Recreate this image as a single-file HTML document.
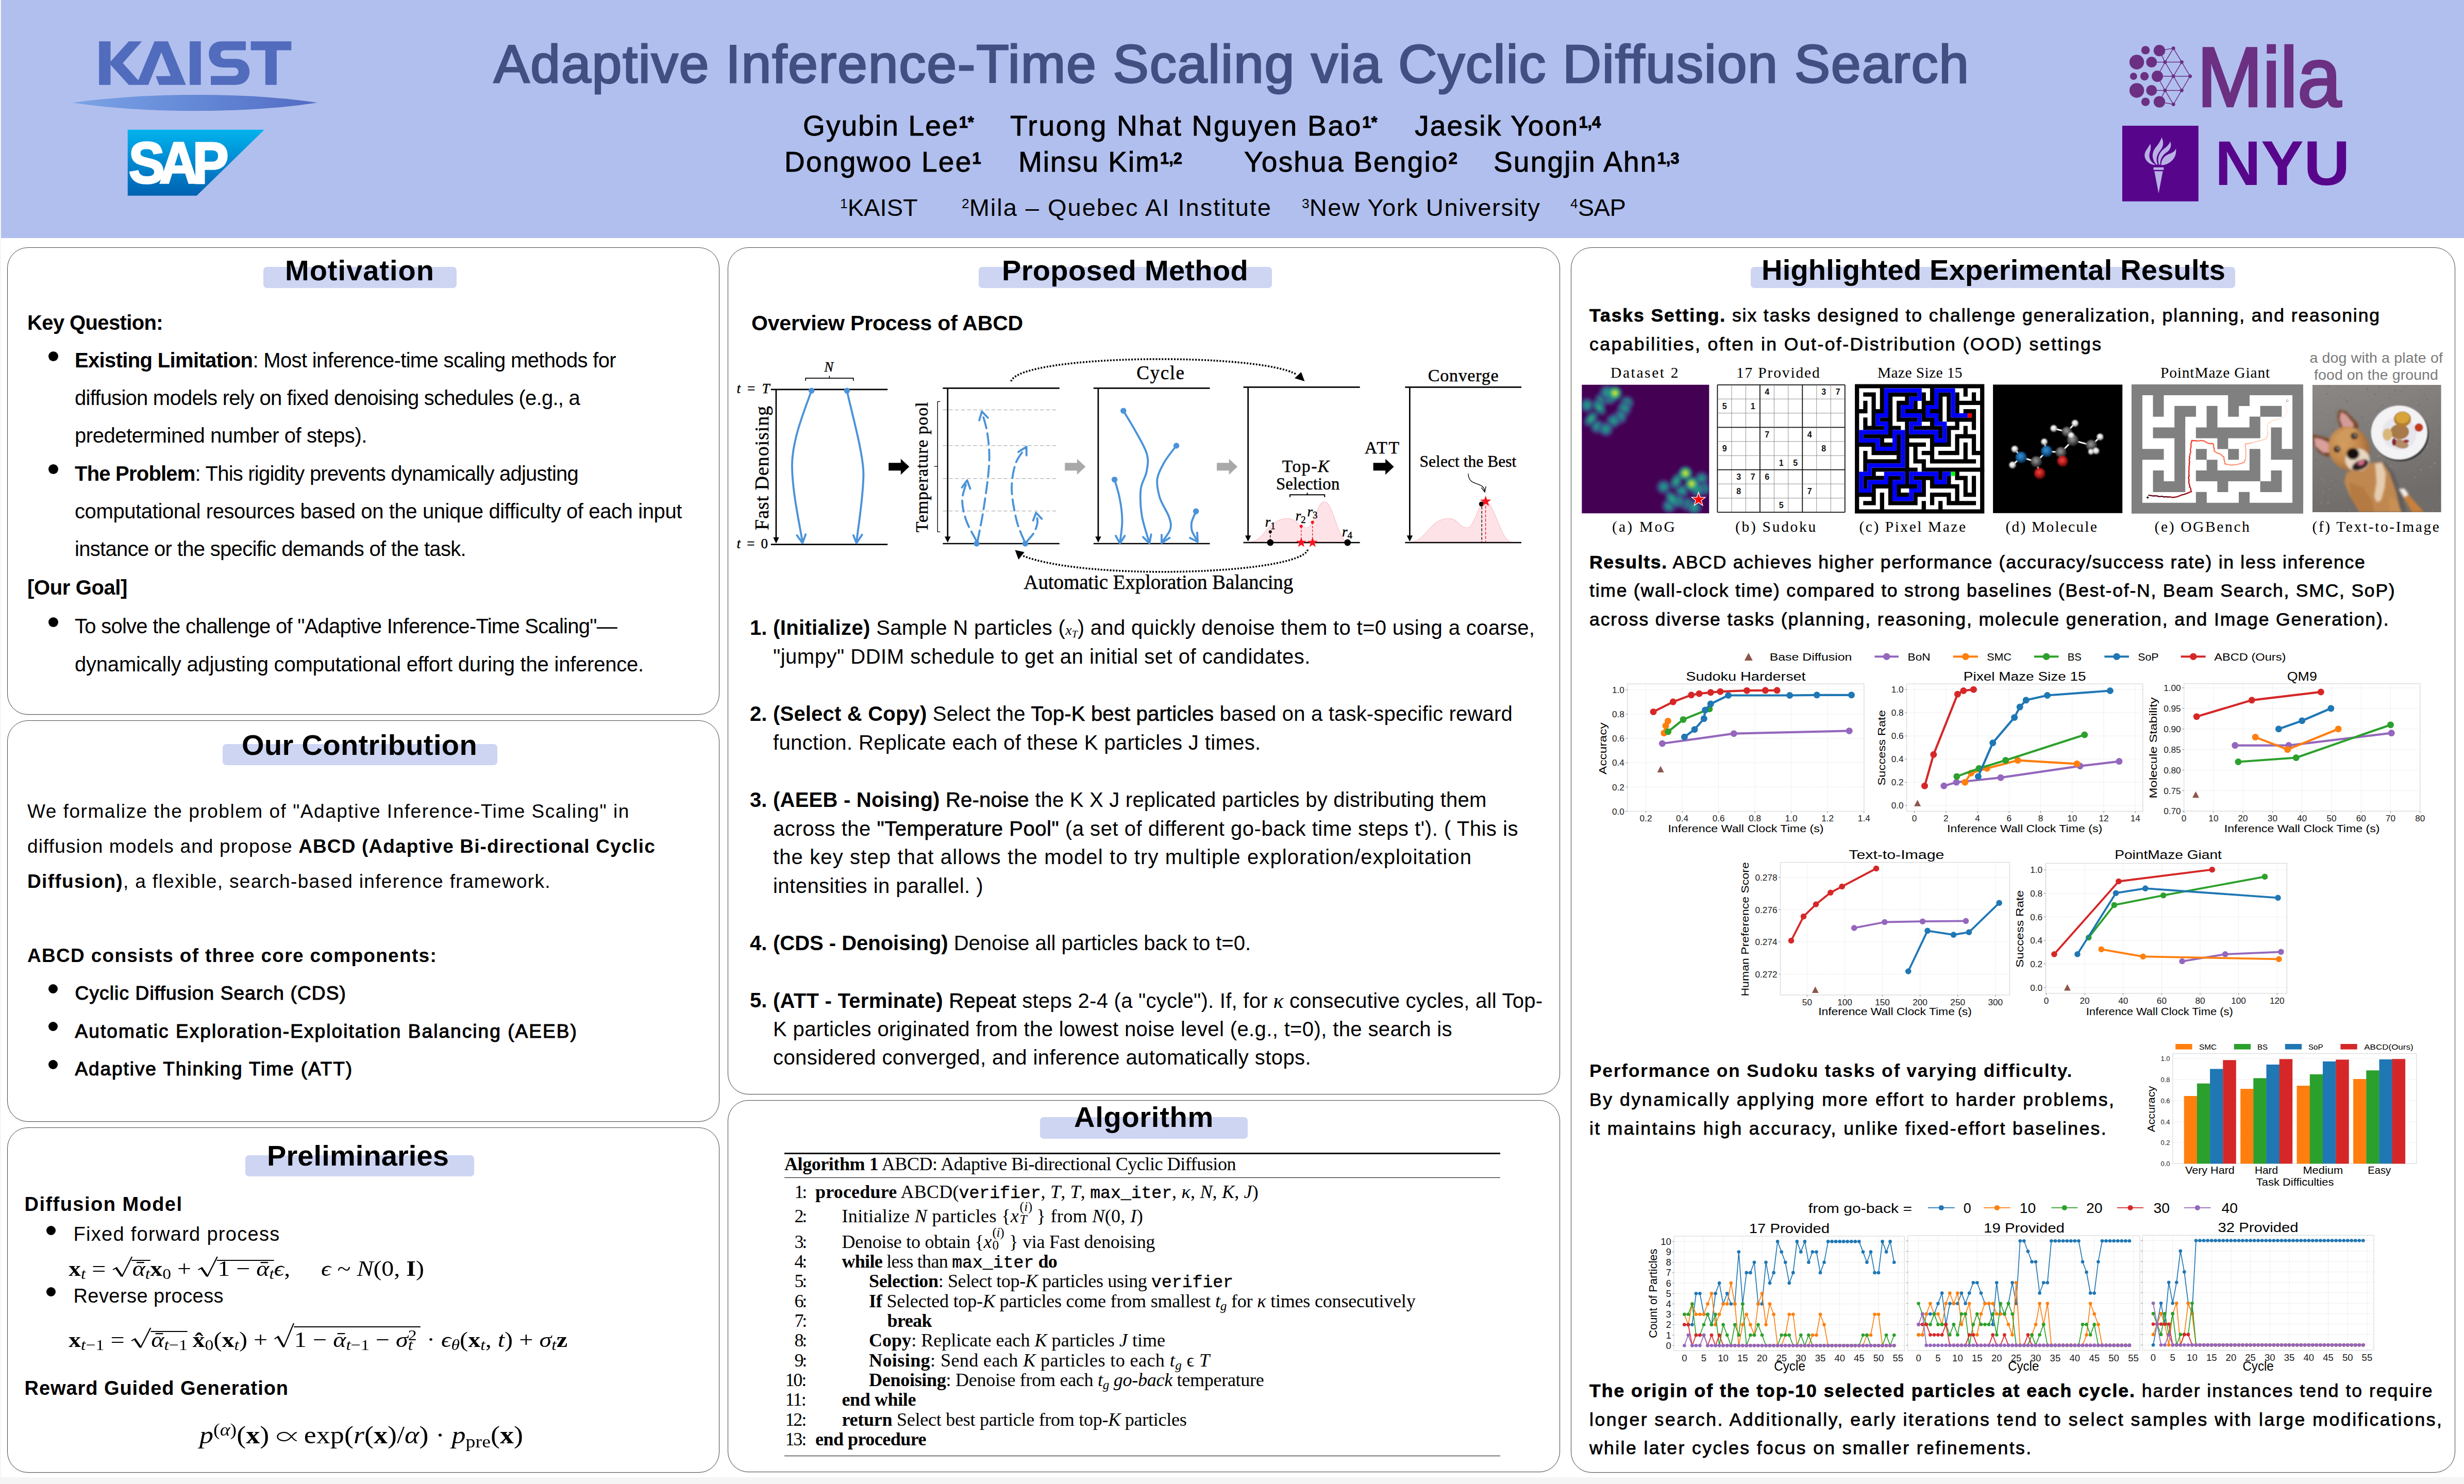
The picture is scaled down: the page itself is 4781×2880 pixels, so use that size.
<!DOCTYPE html>
<html lang="en"><head><meta charset="utf-8"><title>Adaptive Inference-Time Scaling via Cyclic Diffusion Search</title>
<style>
html,body{margin:0;padding:0;background:#f5f5f5;}
body{width:4781px;height:2880px;font-family:"Liberation Sans",sans-serif;color:#000;}
#page{position:relative;width:4781px;height:2880px;overflow:hidden;background:#f5f5f5;}
.t{position:absolute;white-space:nowrap;line-height:1;margin:0;padding:0;}
.s{font-family:"Liberation Sans",sans-serif;}
.r{font-family:"Liberation Serif",serif;}
.m{font-family:"Liberation Mono",monospace;}
.b{font-weight:700;}
.i{font-style:italic;}
.box{position:absolute;box-sizing:border-box;border:1px solid #484848;border-radius:40px;background:#fff;box-shadow:0 2px 3px rgba(0,0,0,0.06);}
.hl{position:absolute;background:#cdd5f3;border-radius:7px;}
.dot{position:absolute;width:19px;height:19px;border-radius:50%;background:#000;}
svg{position:absolute;overflow:visible;}
svg text{font-family:"Liberation Sans",sans-serif;}
</style></head>
<body>
<div id="page">
<div style="position:absolute;left:2px;top:0;width:4779px;height:2867px;background:#fff;"></div>
<div style="position:absolute;left:2px;top:0;width:4779px;height:462px;background:#b1bfee;"></div>
<div class="box" style="left:14px;top:480px;width:1382px;height:907px;"></div>
<div class="box" style="left:14px;top:1398px;width:1382px;height:779px;"></div>
<div class="box" style="left:14px;top:2188px;width:1382px;height:670px;"></div>
<div class="box" style="left:1412px;top:480px;width:1615px;height:1644px;"></div>
<div class="box" style="left:1412px;top:2135px;width:1615px;height:722px;"></div>
<div class="box" style="left:3048px;top:480px;width:1716px;height:2378px;"></div>
<div class="hl" style="left:511px;top:518px;width:375px;height:41px;"></div>
<div class="hl" style="left:432px;top:1444px;width:533px;height:41px;"></div>
<div class="hl" style="left:476px;top:2242px;width:444px;height:41px;"></div>
<div class="hl" style="left:1899px;top:518px;width:569px;height:41px;"></div>
<div class="hl" style="left:2018px;top:2168px;width:403px;height:42px;"></div>
<div class="hl" style="left:3397px;top:518px;width:940px;height:41px;"></div>
<svg style="left:100px;top:40px;width:600px;height:380px;" viewBox="0 0 2343 1484"><defs><linearGradient id="kg" x1="0" x2="1" y1="0" y2="0"><stop offset="0" stop-color="#7ba4e6"/><stop offset="0.45" stop-color="#668bd8"/><stop offset="1" stop-color="#526bc4"/></linearGradient><linearGradient id="sg" x1="0" x2="0" y1="0" y2="1"><stop offset="0" stop-color="#00b3ee"/><stop offset="0.5" stop-color="#0088cf"/><stop offset="1" stop-color="#0062b1"/></linearGradient></defs><path fill="#516cbd" d="M360 157H447V310L585 157H685L540 322L657 452L780 157H882L1018 487H815L790 422L903 420L832 240L733 487H585L447 335V487H360Z"/><rect fill="#516cbd" x="1047" y="157" width="84" height="330"/><path fill="#516cbd" d="M1472 157H1290C1225 157 1192 200 1192 252C1192 310 1230 355 1300 355H1380C1402 355 1416 368 1416 388C1416 408 1402 420 1380 420H1207V487H1395C1462 487 1500 445 1500 388C1500 330 1462 290 1395 290H1315C1292 290 1280 276 1280 257C1280 238 1292 225 1315 225H1472Z"/><path fill="#516cbd" d="M1510 157H1817V225H1706V487H1620V225H1510Z"/><path fill="url(#kg)" d="M160 622C700 545 1480 540 2015 622C1480 705 700 705 160 622Z"/><path fill="url(#sg)" d="M577 827H1612L1100 1327H577Z"/><text x="585" y="1232" font-size="440" font-weight="700" fill="#fff" stroke="#fff" stroke-width="14" textLength="715" lengthAdjust="spacingAndGlyphs" style="font-family:'Liberation Sans',sans-serif;letter-spacing:-45px;">SAP</text></svg>
<svg style="left:4080px;top:50px;width:540px;height:370px;" viewBox="0 0 2166 1484"><line x1="550" y1="175" x2="615" y2="283" stroke="#6b3082" stroke-width="6"/><line x1="615" y1="283" x2="680" y2="393" stroke="#6b3082" stroke-width="6"/><line x1="680" y1="393" x2="615" y2="503" stroke="#6b3082" stroke-width="6"/><line x1="615" y1="503" x2="550" y2="612" stroke="#6b3082" stroke-width="6"/><line x1="550" y1="175" x2="485" y2="283" stroke="#6b3082" stroke-width="6"/><line x1="485" y1="283" x2="550" y2="393" stroke="#6b3082" stroke-width="6"/><line x1="550" y1="393" x2="485" y2="503" stroke="#6b3082" stroke-width="6"/><line x1="485" y1="503" x2="550" y2="612" stroke="#6b3082" stroke-width="6"/><line x1="485" y1="283" x2="615" y2="283" stroke="#6b3082" stroke-width="6"/><line x1="425" y1="393" x2="680" y2="393" stroke="#6b3082" stroke-width="6"/><line x1="485" y1="503" x2="615" y2="503" stroke="#6b3082" stroke-width="6"/><line x1="615" y1="283" x2="550" y2="393" stroke="#6b3082" stroke-width="6"/><line x1="550" y1="393" x2="615" y2="503" stroke="#6b3082" stroke-width="6"/><line x1="441" y1="193" x2="550" y2="175" stroke="#6b3082" stroke-width="6"/><line x1="441" y1="592" x2="550" y2="612" stroke="#6b3082" stroke-width="6"/><line x1="380" y1="283" x2="485" y2="283" stroke="#6b3082" stroke-width="6"/><line x1="380" y1="503" x2="485" y2="503" stroke="#6b3082" stroke-width="6"/><line x1="441" y1="193" x2="485" y2="283" stroke="#6b3082" stroke-width="6"/><line x1="441" y1="592" x2="485" y2="503" stroke="#6b3082" stroke-width="6"/><line x1="425" y1="393" x2="485" y2="283" stroke="#6b3082" stroke-width="6"/><line x1="425" y1="393" x2="485" y2="503" stroke="#6b3082" stroke-width="6"/><circle cx="333" cy="190" r="33" fill="#6b3082"/><circle cx="441" cy="193" r="45" fill="#6b3082"/><circle cx="265" cy="283" r="57" fill="#6b3082"/><circle cx="380" cy="283" r="42" fill="#6b3082"/><circle cx="240" cy="393" r="28" fill="#6b3082"/><circle cx="325" cy="393" r="33" fill="#6b3082"/><circle cx="425" cy="393" r="44" fill="#6b3082"/><circle cx="265" cy="503" r="57" fill="#6b3082"/><circle cx="380" cy="503" r="42" fill="#6b3082"/><circle cx="333" cy="592" r="33" fill="#6b3082"/><circle cx="441" cy="592" r="45" fill="#6b3082"/><circle cx="550" cy="175" r="14" fill="#6b3082"/><circle cx="485" cy="283" r="14" fill="#6b3082"/><circle cx="615" cy="283" r="14" fill="#6b3082"/><circle cx="550" cy="393" r="14" fill="#6b3082"/><circle cx="680" cy="393" r="14" fill="#6b3082"/><circle cx="485" cy="503" r="14" fill="#6b3082"/><circle cx="615" cy="503" r="14" fill="#6b3082"/><circle cx="550" cy="612" r="14" fill="#6b3082"/><text x="735" y="627" font-size="655" fill="#6b3082" stroke="#6b3082" stroke-width="18" textLength="1122" lengthAdjust="spacingAndGlyphs" style="font-family:'Liberation Sans',sans-serif;">Mila</text><rect x="152" y="778" width="593" height="589" fill="#57068c"/><path fill="#b9b1e6" d="M395 1102H475V1122H395Z M402 1132H468L435 1305Z"/><path fill="#b9b1e6" d="M405 1085C340 1075 310 1020 335 975C345 955 360 940 370 918C378 945 372 965 365 990C355 1030 375 1062 405 1078Z"/><path fill="#b9b1e6" d="M418 1082C380 1040 380 990 410 950C430 925 450 900 458 868C480 910 470 945 445 975C415 1012 415 1050 428 1082Z"/><path fill="#b9b1e6" d="M438 1082C420 1030 440 985 480 955C505 935 520 920 525 900C540 935 525 965 498 985C460 1012 445 1045 448 1082Z"/><path fill="#b9b1e6" d="M455 1085C455 1040 480 1010 525 995C550 985 562 975 570 955C575 1000 560 1040 520 1065C500 1078 480 1085 455 1085Z"/><text x="872" y="1240" font-size="488" font-weight="700" fill="#57068c" textLength="1052" lengthAdjust="spacingAndGlyphs" style="font-family:'Liberation Sans',sans-serif;">NYU</text></svg>
<div class="dot" style="left:93.5px;top:681.5px;width:19px;height:19px;"></div>
<div class="dot" style="left:93.5px;top:901.0px;width:19px;height:19px;"></div>
<div class="dot" style="left:93.5px;top:1197.5px;width:19px;height:19px;"></div>
<div class="dot" style="left:94.0px;top:1909.7px;width:18px;height:18px;"></div>
<div class="dot" style="left:94.0px;top:1983.0px;width:18px;height:18px;"></div>
<div class="dot" style="left:94.0px;top:2056.5px;width:18px;height:18px;"></div>
<div class="dot" style="left:89.5px;top:2378.5px;width:18px;height:18px;"></div>
<div class="dot" style="left:89.5px;top:2498.0px;width:18px;height:18px;"></div>
<svg style="left:1420px;top:680px;width:1620px;height:500px;" viewBox="0 0 4808.2 1484"><g fill="none" stroke-linecap="butt"><line x1="225" y1="225" x2="897" y2="225" stroke="#000" stroke-width="8"/><line x1="225" y1="1118" x2="897" y2="1118" stroke="#000" stroke-width="8"/><line x1="255" y1="225" x2="255" y2="1095" stroke="#000" stroke-width="8"/><path d="M238 1077 L272 1077 L255 1112 Z" fill="#000" stroke="none"/><path d="M459 232 C420 340 345 520 347 670 C349 820 390 1000 407 1105" stroke="#4b93d9" stroke-width="11.5" stroke-linecap="round"/><path d="M375 1065 L407 1110 L425 1060" stroke="#4b93d9" stroke-width="11.5" stroke-linecap="round" stroke-linejoin="round"/><path d="M663 232 C690 360 760 600 758 720 C756 850 730 1000 718 1105" stroke="#4b93d9" stroke-width="11.5" stroke-linecap="round"/><path d="M700 1065 L718 1110 L750 1062" stroke="#4b93d9" stroke-width="11.5" stroke-linecap="round" stroke-linejoin="round"/><circle cx="459" cy="232" r="17" fill="#4b93d9" stroke="none"/><circle cx="663" cy="232" r="17" fill="#4b93d9" stroke="none"/><path d="M425 175 V160 H700 V175 M562 160 V147" stroke="#000" stroke-width="5"/><path d="M903 648 H973 V625 L1022 670 L973 716 V692 H903 Z" fill="#000" stroke="none"/><line x1="1215" y1="218" x2="1887" y2="218" stroke="#000" stroke-width="8"/><line x1="1215" y1="1113" x2="1887" y2="1113" stroke="#000" stroke-width="8"/><line x1="1243" y1="218" x2="1243" y2="1090" stroke="#000" stroke-width="8"/><path d="M1226 1072 L1260 1072 L1243 1107 Z" fill="#000" stroke="none"/><line x1="1215" y1="343" x2="1875" y2="343" stroke="#9c9c9c" stroke-width="3" stroke-dasharray="22 13"/><line x1="1215" y1="548" x2="1875" y2="548" stroke="#9c9c9c" stroke-width="3" stroke-dasharray="22 13"/><line x1="1215" y1="738" x2="1875" y2="738" stroke="#9c9c9c" stroke-width="3" stroke-dasharray="22 13"/><line x1="1215" y1="925" x2="1875" y2="925" stroke="#9c9c9c" stroke-width="3" stroke-dasharray="22 13"/><path d="M1200 295 H1185 V1045 H1200 M1185 668 H1165" stroke="#000" stroke-width="4"/><path d="M1410 1100 C1400 1080 1364 1020 1350 980 C1336 940 1326 898 1327 860 C1328 822 1350 770 1355 752" stroke="#4b93d9" stroke-width="11.5" stroke-dasharray="64 30" stroke-linecap="round"/><path d="M1325 790 L1355 748 L1373 797" stroke="#4b93d9" stroke-width="11.5" stroke-linecap="round" stroke-linejoin="round"/><path d="M1415 1100 C1421 1067 1441 975 1452 900 C1463 825 1479 720 1482 650 C1485 580 1479 529 1472 480 C1465 431 1446 378 1441 357" stroke="#4b93d9" stroke-width="11.5" stroke-dasharray="64 30" stroke-linecap="round"/><path d="M1425 403 L1440 352 L1475 388" stroke="#4b93d9" stroke-width="11.5" stroke-linecap="round" stroke-linejoin="round"/><path d="M1685 1100 C1678 1080 1652 1030 1640 980 C1628 930 1613 855 1612 800 C1611 745 1621 690 1635 650 C1649 610 1684 575 1694 560" stroke="#4b93d9" stroke-width="11.5" stroke-dasharray="64 30" stroke-linecap="round"/><path d="M1650 585 L1697 555 L1697 605" stroke="#4b93d9" stroke-width="11.5" stroke-linecap="round" stroke-linejoin="round"/><path d="M1695 1105 C1702 1096 1729 1069 1740 1050 C1751 1031 1758 1008 1760 990 C1762 972 1753 948 1752 940" stroke="#4b93d9" stroke-width="11.5" stroke-dasharray="64 30" stroke-linecap="round"/><path d="M1735 980 L1752 935 L1785 970" stroke="#4b93d9" stroke-width="11.5" stroke-linecap="round" stroke-linejoin="round"/><circle cx="1410" cy="1113" r="17" fill="#4b93d9" stroke="none"/><circle cx="1690" cy="1113" r="17" fill="#4b93d9" stroke="none"/><path d="M1918 648 H1988 V625 L2037 670 L1988 716 V692 H1918 Z" fill="#a9a9a9" stroke="none"/><path d="M2793 648 H2863 V625 L2912 670 L2863 716 V692 H2793 Z" fill="#a9a9a9" stroke="none"/><line x1="2083" y1="218" x2="2753" y2="218" stroke="#000" stroke-width="8"/><line x1="2083" y1="1113" x2="2753" y2="1113" stroke="#000" stroke-width="8"/><line x1="2110" y1="218" x2="2110" y2="1090" stroke="#000" stroke-width="8"/><path d="M2093 1072 L2127 1072 L2110 1107 Z" fill="#000" stroke="none"/><path d="M2255 348 C2268 370 2311 438 2333 480 C2356 522 2382 563 2391 600 C2401 637 2394 667 2388 700 C2382 733 2360 758 2355 800 C2351 842 2353 900 2361 950 C2369 1000 2396 1078 2403 1103" stroke="#4b93d9" stroke-width="11.5" stroke-linecap="round"/><path d="M2368 1075 L2405 1112 L2415 1060" stroke="#4b93d9" stroke-width="11.5" stroke-linecap="round" stroke-linejoin="round"/><path d="M2560 549 C2549 564 2512 608 2493 640 C2475 672 2455 705 2450 740 C2446 775 2454 813 2465 850 C2477 887 2508 930 2518 960 C2528 990 2532 1006 2525 1030 C2519 1054 2486 1091 2478 1103" stroke="#4b93d9" stroke-width="11.5" stroke-linecap="round"/><path d="M2475 1062 L2475 1110 L2521 1080" stroke="#4b93d9" stroke-width="11.5" stroke-linecap="round" stroke-linejoin="round"/><path d="M2204 744 C2209 762 2226 811 2233 850 C2241 889 2248 938 2248 980 C2249 1022 2238 1082 2236 1103" stroke="#4b93d9" stroke-width="11.5" stroke-linecap="round"/><path d="M2211 1068 L2235 1112 L2263 1068" stroke="#4b93d9" stroke-width="11.5" stroke-linecap="round" stroke-linejoin="round"/><path d="M2673 927 C2669 938 2652 971 2648 990 C2645 1009 2645 1022 2650 1040 C2656 1058 2676 1088 2681 1098" stroke="#4b93d9" stroke-width="11.5" stroke-linecap="round"/><path d="M2638 1080 L2683 1103 L2680 1050" stroke="#4b93d9" stroke-width="11.5" stroke-linecap="round" stroke-linejoin="round"/><circle cx="2255" cy="348" r="17" fill="#4b93d9" stroke="none"/><circle cx="2560" cy="549" r="17" fill="#4b93d9" stroke="none"/><circle cx="2204" cy="744" r="17" fill="#4b93d9" stroke="none"/><circle cx="2673" cy="927" r="17" fill="#4b93d9" stroke="none"/><path d="M1608 178 C1663 20 3043 10 3254 140" stroke="#000" stroke-width="10.5" stroke-dasharray="9 8.5"/><path d="M3279 125 L3299 178 L3241 160 Z" fill="#000" stroke="none"/><path d="M3317 1148 C3269 1290 2043 1330 1673 1182" stroke="#000" stroke-width="10.5" stroke-dasharray="9 8.5"/><path d="M1631 1150 L1685 1162 L1651 1205 Z" fill="#000" stroke="none"/><path d="M2979 1105 C3069 1100 3089 968 3199 968 C3254 968 3264 1022 3309 1022 C3354 1022 3369 872 3414 872 C3464 872 3489 1100 3549 1105 Z" fill="#fde3e7" stroke="#f9b9c4" stroke-width="3"/><line x1="2946" y1="212" x2="3617" y2="212" stroke="#000" stroke-width="8"/><line x1="2946" y1="1107" x2="3617" y2="1107" stroke="#000" stroke-width="8"/><line x1="2973" y1="212" x2="2973" y2="1084" stroke="#000" stroke-width="8"/><path d="M2956 1066 L2990 1066 L2973 1101 Z" fill="#000" stroke="none"/><path d="M3214 845 V832 H3414 V845 M3314 832 V820" stroke="#000" stroke-width="6"/><line x1="3101" y1="1045" x2="3101" y2="1100" stroke="#000" stroke-width="4" stroke-dasharray="12 8"/><circle cx="3101" cy="1045" r="9" fill="#000" stroke="none"/><circle cx="3101" cy="1107" r="19" fill="#000" stroke="none"/><circle cx="3546" cy="1107" r="19" fill="#000" stroke="none"/><line x1="3279" y1="1013" x2="3279" y2="1090" stroke="#f5141e" stroke-width="4" stroke-dasharray="13 8"/><circle cx="3279" cy="1013" r="9" fill="#f5141e" stroke="none"/><polygon points="3279.3,1076.0 3286.6,1097.0 3308.8,1097.4 3291.1,1110.8 3297.5,1132.1 3279.3,1119.4 3261.1,1132.1 3267.5,1110.8 3249.8,1097.4 3272.0,1097.0" fill="#f5141e" stroke="none"/><line x1="3344" y1="990" x2="3344" y2="1090" stroke="#f5141e" stroke-width="4" stroke-dasharray="13 8"/><circle cx="3344" cy="990" r="9" fill="#f5141e" stroke="none"/><polygon points="3344.3,1076.0 3351.6,1097.0 3373.8,1097.4 3356.1,1110.8 3362.5,1132.1 3344.3,1119.4 3326.1,1132.1 3332.5,1110.8 3314.8,1097.4 3337.0,1097.0" fill="#f5141e" stroke="none"/><path d="M3694 648 H3764 V625 L3813 670 L3764 716 V692 H3694 Z" fill="#000" stroke="none"/><path d="M3909 1105 C3999 1100 4019 968 4129 968 C4184 968 4189 1022 4234 1022 C4279 1022 4296 872 4341 872 C4391 872 4429 1100 4489 1105 Z" fill="#fde3e7" stroke="#f9b9c4" stroke-width="3"/><line x1="3877" y1="212" x2="4547" y2="212" stroke="#000" stroke-width="8"/><line x1="3877" y1="1107" x2="4547" y2="1107" stroke="#000" stroke-width="8"/><line x1="3904" y1="212" x2="3904" y2="1084" stroke="#000" stroke-width="8"/><path d="M3887 1066 L3921 1066 L3904 1101 Z" fill="#000" stroke="none"/><line x1="4319" y1="900" x2="4319" y2="1105" stroke="#000" stroke-width="4" stroke-dasharray="16 9"/><line x1="4341" y1="895" x2="4341" y2="1105" stroke="#f5141e" stroke-width="4" stroke-dasharray="16 9"/><circle cx="4317" cy="885" r="14" fill="#000" stroke="none"/><polygon points="4341.3,837.0 4349.1,859.3 4372.7,859.8 4353.9,874.1 4360.7,896.7 4341.3,883.2 4321.9,896.7 4328.7,874.1 4309.9,859.8 4333.5,859.3" fill="#f5141e" stroke="none"/><path d="M4241 710 C4244 790 4329 750 4336 812" stroke="#000" stroke-width="4"/><path d="M4316 790 L4336 816 L4343 783" stroke="#000" stroke-width="4"/></g><text x="28" y="245" font-size="80" text-anchor="start" textLength="190" lengthAdjust="spacing" stroke="#000" stroke-width="1.3" style="font-family:'Liberation Serif',serif;"><tspan font-style="italic">t</tspan> = <tspan font-style="italic">T</tspan></text><text x="28" y="1140" font-size="80" text-anchor="start" textLength="180" lengthAdjust="spacing" stroke="#000" stroke-width="1.3" style="font-family:'Liberation Serif',serif;"><tspan font-style="italic">t</tspan> = 0</text><text x="533" y="122" font-size="78" text-anchor="start" font-style="italic" stroke="#000" stroke-width="1.3" style="font-family:'Liberation Serif',serif;">N</text><text transform="translate(212 1035) rotate(-90)" font-size="112" text-anchor="start" textLength="715" lengthAdjust="spacing" stroke="#000" stroke-width="1.3" style="font-family:'Liberation Serif',serif;">Fast Denoising</text><text transform="translate(1128 1048) rotate(-90)" font-size="100" text-anchor="start" textLength="750" lengthAdjust="spacing" stroke="#000" stroke-width="1.3" style="font-family:'Liberation Serif',serif;">Temperature pool</text><text x="2331" y="165" font-size="110" text-anchor="start" textLength="275" lengthAdjust="spacing" stroke="#000" stroke-width="1.3" style="font-family:'Liberation Serif',serif;">Cycle</text><text x="1681" y="1375" font-size="116" text-anchor="start" textLength="1552" lengthAdjust="spacing" stroke="#000" stroke-width="1.3" style="font-family:'Liberation Serif',serif;">Automatic Exploration Balancing</text><text x="3169" y="700" font-size="100" text-anchor="start" textLength="272" lengthAdjust="spacing" stroke="#000" stroke-width="1.3" style="font-family:'Liberation Serif',serif;">Top-<tspan font-style="italic">K</tspan></text><text x="3134" y="800" font-size="97" text-anchor="start" textLength="366" lengthAdjust="spacing" stroke="#000" stroke-width="1.3" style="font-family:'Liberation Serif',serif;">Selection</text><text x="3644" y="595" font-size="100" text-anchor="start" textLength="200" lengthAdjust="spacing" stroke="#000" stroke-width="1.3" style="font-family:'Liberation Serif',serif;">ATT</text><text x="4009" y="178" font-size="101" text-anchor="start" textLength="406" lengthAdjust="spacing" stroke="#000" stroke-width="1.3" style="font-family:'Liberation Serif',serif;">Converge</text><text x="3961" y="672" font-size="93" text-anchor="start" textLength="557" lengthAdjust="spacing" stroke="#000" stroke-width="1.3" style="font-family:'Liberation Serif',serif;">Select the Best</text><text x="3071" y="1015" font-size="80" text-anchor="start" stroke="#000" stroke-width="1.3" style="font-family:'Liberation Serif',serif;"><tspan font-style="italic">r</tspan><tspan font-size="0.7em" dy="14">1</tspan></text><text x="3246" y="980" font-size="80" text-anchor="start" stroke="#000" stroke-width="1.3" style="font-family:'Liberation Serif',serif;"><tspan font-style="italic">r</tspan><tspan font-size="0.7em" dy="14">2</tspan></text><text x="3314" y="955" font-size="80" text-anchor="start" stroke="#000" stroke-width="1.3" style="font-family:'Liberation Serif',serif;"><tspan font-style="italic">r</tspan><tspan font-size="0.7em" dy="14">3</tspan></text><text x="3514" y="1070" font-size="80" text-anchor="start" stroke="#000" stroke-width="1.3" style="font-family:'Liberation Serif',serif;"><tspan font-style="italic">r</tspan><tspan font-size="0.7em" dy="14">4</tspan></text></svg>
<div style="position:absolute;left:1522px;top:2236.5px;width:1389px;height:3px;background:#000;"></div>
<div style="position:absolute;left:1522px;top:2284.5px;width:1389px;height:1.5px;background:#000;"></div>
<div style="position:absolute;left:1522px;top:2824.5px;width:1389px;height:1.5px;background:#000;"></div>
<svg style="left:0;top:0;width:4781px;height:2880px;" viewBox="0 0 4781 2880"><defs><radialGradient id="bt"><stop offset="0" stop-color="#35b779" stop-opacity="0.95"/><stop offset="0.35" stop-color="#21918c" stop-opacity="0.9"/><stop offset="0.7" stop-color="#31688e" stop-opacity="0.55"/><stop offset="1" stop-color="#440154" stop-opacity="0"/></radialGradient><radialGradient id="bq"><stop offset="0" stop-color="#22a087" stop-opacity="1"/><stop offset="0.4" stop-color="#26828e" stop-opacity="0.9"/><stop offset="0.7" stop-color="#3b528b" stop-opacity="0.6"/><stop offset="0.88" stop-color="#472d7b" stop-opacity="0.35"/><stop offset="1" stop-color="#440154" stop-opacity="0"/></radialGradient><radialGradient id="by"><stop offset="0" stop-color="#fde725"/><stop offset="0.3" stop-color="#7ad151" stop-opacity="0.95"/><stop offset="0.6" stop-color="#22a884" stop-opacity="0.8"/><stop offset="1" stop-color="#31688e" stop-opacity="0"/></radialGradient><radialGradient id="ag" cx="0.45" cy="0.4"><stop offset="0" stop-color="#9a9a9a"/><stop offset="0.6" stop-color="#5f5f5f"/><stop offset="1" stop-color="#2c2c2c"/></radialGradient><radialGradient id="ab" cx="0.45" cy="0.4"><stop offset="0" stop-color="#3b8fd0"/><stop offset="0.6" stop-color="#1a68a8"/><stop offset="1" stop-color="#0a3c66"/></radialGradient><radialGradient id="ar" cx="0.45" cy="0.4"><stop offset="0" stop-color="#ee4444"/><stop offset="0.6" stop-color="#c21d1d"/><stop offset="1" stop-color="#6a0c0c"/></radialGradient><radialGradient id="aw" cx="0.45" cy="0.4"><stop offset="0" stop-color="#ffffff"/><stop offset="0.6" stop-color="#e2e2e2"/><stop offset="1" stop-color="#8a8a8a"/></radialGradient><filter id="bl1" x="-10%" y="-10%" width="120%" height="120%"><feGaussianBlur stdDeviation="1.1"/></filter><filter id="bl2" x="-10%" y="-10%" width="120%" height="120%"><feGaussianBlur stdDeviation="2.2"/></filter><clipPath id="cpd"><rect x="4487" y="747" width="249.6" height="247"/></clipPath><clipPath id="cpm"><rect x="3069.3" y="746.7" width="247" height="249.5"/></clipPath></defs><rect x="3069.3" y="746.7" width="247" height="249.5" fill="#440154"/><g clip-path="url(#cpm)"><g filter="url(#bl2)"><circle cx="3108.2" cy="775.9" r="17.5" fill="url(#bq)"/><circle cx="3079.3" cy="786.4" r="17.5" fill="url(#bq)"/><circle cx="3156.4" cy="782.1" r="17.5" fill="url(#bq)"/><circle cx="3151.1" cy="794.3" r="17.5" fill="url(#bq)"/><circle cx="3143.2" cy="809.2" r="17.5" fill="url(#bq)"/><circle cx="3130.1" cy="817.1" r="17.5" fill="url(#bq)"/><circle cx="3099.4" cy="827.6" r="17.5" fill="url(#bq)"/><circle cx="3116.1" cy="832.9" r="17.5" fill="url(#bq)"/><circle cx="3124.0" cy="771.5" r="17.5" fill="url(#bq)"/><circle cx="3117.8" cy="761.0" r="17.5" fill="url(#bq)"/><circle cx="3301.8" cy="929.2" r="17.5" fill="url(#bq)"/><circle cx="3228.2" cy="945.0" r="17.5" fill="url(#bq)"/><circle cx="3263.3" cy="952.9" r="17.5" fill="url(#bq)"/><circle cx="3305.3" cy="948.5" r="17.5" fill="url(#bq)"/><circle cx="3238.7" cy="981.8" r="17.5" fill="url(#bq)"/><circle cx="3274.6" cy="978.3" r="17.5" fill="url(#bq)"/><circle cx="3287.8" cy="985.3" r="17.5" fill="url(#bq)"/><circle cx="3293.0" cy="950.3" r="17.5" fill="url(#bq)"/><circle cx="3256.3" cy="973.0" r="17.5" fill="url(#bq)"/><ellipse cx="3102.9" cy="790.8" rx="22" ry="14" fill="url(#bt)" transform="rotate(52 3102.9 790.8)"/><ellipse cx="3087.2" cy="812.7" rx="22" ry="14" fill="url(#bt)" transform="rotate(-50 3087.2 812.7)"/><ellipse cx="3252.7" cy="933.6" rx="22" ry="14" fill="url(#bt)" transform="rotate(-62 3252.7 933.6)"/><ellipse cx="3244.0" cy="967.8" rx="22" ry="14" fill="url(#bt)" transform="rotate(55 3244.0 967.8)"/><circle cx="3133.6" cy="762.8" r="16.5" fill="url(#by)"/><circle cx="3270.3" cy="918.4" r="16.5" fill="url(#by)"/><circle cx="3282.5" cy="938.9" r="16.5" fill="url(#by)"/></g></g><polygon points="3295.7,955.5 3299.0,965.0 3309.0,965.2 3301.0,971.3 3303.9,980.9 3295.7,975.1 3287.4,980.9 3290.3,971.3 3282.4,965.2 3292.4,965.0" fill="#ff0000" stroke="#fff" stroke-width="1.3"/><rect x="3332.4" y="746.8" width="247.4" height="247.4" fill="#fff"/><line x1="3332.4" y1="746.8" x2="3332.4" y2="994.1999999999999" stroke="#111" stroke-width="1.8"/><line x1="3332.4" y1="746.8" x2="3579.8" y2="746.8" stroke="#111" stroke-width="1.8"/><line x1="3359.9" y1="746.8" x2="3359.9" y2="994.1999999999999" stroke="#666" stroke-width="0.7"/><line x1="3332.4" y1="774.3" x2="3579.8" y2="774.3" stroke="#666" stroke-width="0.7"/><line x1="3387.4" y1="746.8" x2="3387.4" y2="994.1999999999999" stroke="#666" stroke-width="0.7"/><line x1="3332.4" y1="801.8" x2="3579.8" y2="801.8" stroke="#666" stroke-width="0.7"/><line x1="3414.9" y1="746.8" x2="3414.9" y2="994.1999999999999" stroke="#111" stroke-width="1.8"/><line x1="3332.4" y1="829.3" x2="3579.8" y2="829.3" stroke="#111" stroke-width="1.8"/><line x1="3442.4" y1="746.8" x2="3442.4" y2="994.1999999999999" stroke="#666" stroke-width="0.7"/><line x1="3332.4" y1="856.8" x2="3579.8" y2="856.8" stroke="#666" stroke-width="0.7"/><line x1="3469.8" y1="746.8" x2="3469.8" y2="994.1999999999999" stroke="#666" stroke-width="0.7"/><line x1="3332.4" y1="884.2" x2="3579.8" y2="884.2" stroke="#666" stroke-width="0.7"/><line x1="3497.3" y1="746.8" x2="3497.3" y2="994.1999999999999" stroke="#111" stroke-width="1.8"/><line x1="3332.4" y1="911.7" x2="3579.8" y2="911.7" stroke="#111" stroke-width="1.8"/><line x1="3524.8" y1="746.8" x2="3524.8" y2="994.1999999999999" stroke="#666" stroke-width="0.7"/><line x1="3332.4" y1="939.2" x2="3579.8" y2="939.2" stroke="#666" stroke-width="0.7"/><line x1="3552.3" y1="746.8" x2="3552.3" y2="994.1999999999999" stroke="#666" stroke-width="0.7"/><line x1="3332.4" y1="966.7" x2="3579.8" y2="966.7" stroke="#666" stroke-width="0.7"/><line x1="3579.8" y1="746.8" x2="3579.8" y2="994.1999999999999" stroke="#111" stroke-width="1.8"/><line x1="3332.4" y1="994.2" x2="3579.8" y2="994.2" stroke="#111" stroke-width="1.8"/><text x="3428.6" y="766.1" font-size="16" font-weight="700" text-anchor="middle" fill="#111" style="font-family:'Liberation Sans',sans-serif;">4</text><text x="3538.6" y="766.1" font-size="16" font-weight="700" text-anchor="middle" fill="#111" style="font-family:'Liberation Sans',sans-serif;">3</text><text x="3566.1" y="766.1" font-size="16" font-weight="700" text-anchor="middle" fill="#111" style="font-family:'Liberation Sans',sans-serif;">7</text><text x="3346.1" y="793.6" font-size="16" font-weight="700" text-anchor="middle" fill="#111" style="font-family:'Liberation Sans',sans-serif;">5</text><text x="3401.1" y="793.6" font-size="16" font-weight="700" text-anchor="middle" fill="#111" style="font-family:'Liberation Sans',sans-serif;">1</text><text x="3428.6" y="848.6" font-size="16" font-weight="700" text-anchor="middle" fill="#111" style="font-family:'Liberation Sans',sans-serif;">7</text><text x="3511.1" y="848.6" font-size="16" font-weight="700" text-anchor="middle" fill="#111" style="font-family:'Liberation Sans',sans-serif;">4</text><text x="3346.1" y="876.1" font-size="16" font-weight="700" text-anchor="middle" fill="#111" style="font-family:'Liberation Sans',sans-serif;">9</text><text x="3538.6" y="876.1" font-size="16" font-weight="700" text-anchor="middle" fill="#111" style="font-family:'Liberation Sans',sans-serif;">8</text><text x="3456.1" y="903.6" font-size="16" font-weight="700" text-anchor="middle" fill="#111" style="font-family:'Liberation Sans',sans-serif;">1</text><text x="3483.6" y="903.6" font-size="16" font-weight="700" text-anchor="middle" fill="#111" style="font-family:'Liberation Sans',sans-serif;">5</text><text x="3373.6" y="931.1" font-size="16" font-weight="700" text-anchor="middle" fill="#111" style="font-family:'Liberation Sans',sans-serif;">3</text><text x="3401.1" y="931.1" font-size="16" font-weight="700" text-anchor="middle" fill="#111" style="font-family:'Liberation Sans',sans-serif;">7</text><text x="3428.6" y="931.1" font-size="16" font-weight="700" text-anchor="middle" fill="#111" style="font-family:'Liberation Sans',sans-serif;">6</text><text x="3373.6" y="958.6" font-size="16" font-weight="700" text-anchor="middle" fill="#111" style="font-family:'Liberation Sans',sans-serif;">8</text><text x="3511.1" y="958.6" font-size="16" font-weight="700" text-anchor="middle" fill="#111" style="font-family:'Liberation Sans',sans-serif;">7</text><text x="3456.1" y="986.1" font-size="16" font-weight="700" text-anchor="middle" fill="#111" style="font-family:'Liberation Sans',sans-serif;">5</text><rect x="3599.1" y="745.4" width="251.1" height="251.1" fill="#fff"/><path d="M3599.1 745.4h251.2v8.2h-251.2zM3599.1 753.5h8.2v8.2h-8.2zM3647.7 753.5h8.2v8.2h-8.2zM3744.9 753.5h8.2v8.2h-8.2zM3809.7 753.5h8.2v8.2h-8.2zM3842.1 753.5h8.2v8.2h-8.2zM3599.1 761.6h8.2v8.2h-8.2zM3615.3 761.6h24.4v8.2h-24.4zM3647.7 761.6h8.2v8.2h-8.2zM3663.9 761.6h56.8v8.2h-56.8zM3728.7 761.6h8.2v8.2h-8.2zM3744.9 761.6h8.2v8.2h-8.2zM3761.1 761.6h24.4v8.2h-24.4zM3793.5 761.6h8.2v8.2h-8.2zM3809.7 761.6h8.2v8.2h-8.2zM3825.9 761.6h8.2v8.2h-8.2zM3842.1 761.6h8.2v8.2h-8.2zM3599.1 769.7h8.2v8.2h-8.2zM3631.5 769.7h8.2v8.2h-8.2zM3647.7 769.7h8.2v8.2h-8.2zM3663.9 769.7h8.2v8.2h-8.2zM3696.3 769.7h8.2v8.2h-8.2zM3728.7 769.7h8.2v8.2h-8.2zM3744.9 769.7h8.2v8.2h-8.2zM3761.1 769.7h8.2v8.2h-8.2zM3777.3 769.7h8.2v8.2h-8.2zM3793.5 769.7h8.2v8.2h-8.2zM3825.9 769.7h8.2v8.2h-8.2zM3842.1 769.7h8.2v8.2h-8.2zM3599.1 777.8h8.2v8.2h-8.2zM3615.3 777.8h8.2v8.2h-8.2zM3631.5 777.8h8.2v8.2h-8.2zM3647.7 777.8h8.2v8.2h-8.2zM3663.9 777.8h8.2v8.2h-8.2zM3680.1 777.8h24.4v8.2h-24.4zM3712.5 777.8h8.2v8.2h-8.2zM3728.7 777.8h24.4v8.2h-24.4zM3761.1 777.8h8.2v8.2h-8.2zM3777.3 777.8h8.2v8.2h-8.2zM3793.5 777.8h56.8v8.2h-56.8zM3599.1 785.9h8.2v8.2h-8.2zM3615.3 785.9h8.2v8.2h-8.2zM3631.5 785.9h8.2v8.2h-8.2zM3647.7 785.9h8.2v8.2h-8.2zM3663.9 785.9h8.2v8.2h-8.2zM3680.1 785.9h8.2v8.2h-8.2zM3712.5 785.9h8.2v8.2h-8.2zM3728.7 785.9h8.2v8.2h-8.2zM3761.1 785.9h8.2v8.2h-8.2zM3777.3 785.9h8.2v8.2h-8.2zM3793.5 785.9h8.2v8.2h-8.2zM3842.1 785.9h8.2v8.2h-8.2zM3599.1 794.0h24.4v8.2h-24.4zM3631.5 794.0h24.4v8.2h-24.4zM3663.9 794.0h8.2v8.2h-8.2zM3680.1 794.0h8.2v8.2h-8.2zM3696.3 794.0h40.6v8.2h-40.6zM3744.9 794.0h24.4v8.2h-24.4zM3777.3 794.0h8.2v8.2h-8.2zM3793.5 794.0h8.2v8.2h-8.2zM3809.7 794.0h24.4v8.2h-24.4zM3842.1 794.0h8.2v8.2h-8.2zM3599.1 802.1h8.2v8.2h-8.2zM3631.5 802.1h8.2v8.2h-8.2zM3663.9 802.1h8.2v8.2h-8.2zM3680.1 802.1h8.2v8.2h-8.2zM3728.7 802.1h8.2v8.2h-8.2zM3761.1 802.1h8.2v8.2h-8.2zM3777.3 802.1h8.2v8.2h-8.2zM3825.9 802.1h8.2v8.2h-8.2zM3842.1 802.1h8.2v8.2h-8.2zM3599.1 810.2h8.2v8.2h-8.2zM3615.3 810.2h8.2v8.2h-8.2zM3631.5 810.2h8.2v8.2h-8.2zM3647.7 810.2h24.4v8.2h-24.4zM3680.1 810.2h40.6v8.2h-40.6zM3728.7 810.2h24.4v8.2h-24.4zM3761.1 810.2h8.2v8.2h-8.2zM3777.3 810.2h56.8v8.2h-56.8zM3842.1 810.2h8.2v8.2h-8.2zM3599.1 818.3h8.2v8.2h-8.2zM3615.3 818.3h8.2v8.2h-8.2zM3631.5 818.3h8.2v8.2h-8.2zM3663.9 818.3h8.2v8.2h-8.2zM3696.3 818.3h8.2v8.2h-8.2zM3744.9 818.3h8.2v8.2h-8.2zM3793.5 818.3h8.2v8.2h-8.2zM3825.9 818.3h8.2v8.2h-8.2zM3842.1 818.3h8.2v8.2h-8.2zM3599.1 826.4h8.2v8.2h-8.2zM3615.3 826.4h40.6v8.2h-40.6zM3663.9 826.4h24.4v8.2h-24.4zM3696.3 826.4h8.2v8.2h-8.2zM3712.5 826.4h56.8v8.2h-56.8zM3777.3 826.4h24.4v8.2h-24.4zM3809.7 826.4h8.2v8.2h-8.2zM3825.9 826.4h8.2v8.2h-8.2zM3842.1 826.4h8.2v8.2h-8.2zM3599.1 834.5h8.2v8.2h-8.2zM3663.9 834.5h8.2v8.2h-8.2zM3696.3 834.5h8.2v8.2h-8.2zM3761.1 834.5h8.2v8.2h-8.2zM3777.3 834.5h8.2v8.2h-8.2zM3809.7 834.5h8.2v8.2h-8.2zM3842.1 834.5h8.2v8.2h-8.2zM3599.1 842.6h8.2v8.2h-8.2zM3615.3 842.6h56.8v8.2h-56.8zM3680.1 842.6h8.2v8.2h-8.2zM3696.3 842.6h56.8v8.2h-56.8zM3761.1 842.6h8.2v8.2h-8.2zM3777.3 842.6h8.2v8.2h-8.2zM3793.5 842.6h40.6v8.2h-40.6zM3842.1 842.6h8.2v8.2h-8.2zM3599.1 850.7h8.2v8.2h-8.2zM3647.7 850.7h8.2v8.2h-8.2zM3680.1 850.7h8.2v8.2h-8.2zM3696.3 850.7h8.2v8.2h-8.2zM3744.9 850.7h8.2v8.2h-8.2zM3777.3 850.7h8.2v8.2h-8.2zM3793.5 850.7h8.2v8.2h-8.2zM3825.9 850.7h8.2v8.2h-8.2zM3842.1 850.7h8.2v8.2h-8.2zM3599.1 858.8h40.6v8.2h-40.6zM3647.7 858.8h24.4v8.2h-24.4zM3680.1 858.8h8.2v8.2h-8.2zM3696.3 858.8h40.6v8.2h-40.6zM3744.9 858.8h40.6v8.2h-40.6zM3793.5 858.8h8.2v8.2h-8.2zM3809.7 858.8h8.2v8.2h-8.2zM3825.9 858.8h8.2v8.2h-8.2zM3842.1 858.8h8.2v8.2h-8.2zM3599.1 866.9h8.2v8.2h-8.2zM3631.5 866.9h8.2v8.2h-8.2zM3680.1 866.9h8.2v8.2h-8.2zM3696.3 866.9h8.2v8.2h-8.2zM3712.5 866.9h8.2v8.2h-8.2zM3744.9 866.9h8.2v8.2h-8.2zM3793.5 866.9h8.2v8.2h-8.2zM3809.7 866.9h8.2v8.2h-8.2zM3825.9 866.9h8.2v8.2h-8.2zM3842.1 866.9h8.2v8.2h-8.2zM3599.1 875.0h8.2v8.2h-8.2zM3615.3 875.0h8.2v8.2h-8.2zM3631.5 875.0h56.8v8.2h-56.8zM3696.3 875.0h8.2v8.2h-8.2zM3712.5 875.0h8.2v8.2h-8.2zM3728.7 875.0h24.4v8.2h-24.4zM3761.1 875.0h40.6v8.2h-40.6zM3809.7 875.0h8.2v8.2h-8.2zM3825.9 875.0h24.4v8.2h-24.4zM3599.1 883.1h8.2v8.2h-8.2zM3615.3 883.1h8.2v8.2h-8.2zM3680.1 883.1h8.2v8.2h-8.2zM3696.3 883.1h8.2v8.2h-8.2zM3712.5 883.1h8.2v8.2h-8.2zM3744.9 883.1h8.2v8.2h-8.2zM3809.7 883.1h8.2v8.2h-8.2zM3842.1 883.1h8.2v8.2h-8.2zM3599.1 891.2h8.2v8.2h-8.2zM3615.3 891.2h73.0v8.2h-73.0zM3696.3 891.2h8.2v8.2h-8.2zM3712.5 891.2h24.4v8.2h-24.4zM3744.9 891.2h89.2v8.2h-89.2zM3842.1 891.2h8.2v8.2h-8.2zM3599.1 899.3h8.2v8.2h-8.2zM3615.3 899.3h8.2v8.2h-8.2zM3696.3 899.3h8.2v8.2h-8.2zM3728.7 899.3h8.2v8.2h-8.2zM3842.1 899.3h8.2v8.2h-8.2zM3599.1 907.4h8.2v8.2h-8.2zM3615.3 907.4h8.2v8.2h-8.2zM3631.5 907.4h89.2v8.2h-89.2zM3728.7 907.4h121.7v8.2h-121.7zM3599.1 915.5h8.2v8.2h-8.2zM3631.5 915.5h8.2v8.2h-8.2zM3696.3 915.5h8.2v8.2h-8.2zM3761.1 915.5h8.2v8.2h-8.2zM3793.5 915.5h8.2v8.2h-8.2zM3842.1 915.5h8.2v8.2h-8.2zM3599.1 923.6h8.2v8.2h-8.2zM3615.3 923.6h40.6v8.2h-40.6zM3663.9 923.6h24.4v8.2h-24.4zM3696.3 923.6h8.2v8.2h-8.2zM3712.5 923.6h40.6v8.2h-40.6zM3761.1 923.6h8.2v8.2h-8.2zM3777.3 923.6h8.2v8.2h-8.2zM3793.5 923.6h24.4v8.2h-24.4zM3825.9 923.6h8.2v8.2h-8.2zM3842.1 923.6h8.2v8.2h-8.2zM3599.1 931.7h8.2v8.2h-8.2zM3615.3 931.7h8.2v8.2h-8.2zM3663.9 931.7h8.2v8.2h-8.2zM3696.3 931.7h8.2v8.2h-8.2zM3728.7 931.7h8.2v8.2h-8.2zM3744.9 931.7h8.2v8.2h-8.2zM3777.3 931.7h8.2v8.2h-8.2zM3809.7 931.7h8.2v8.2h-8.2zM3825.9 931.7h8.2v8.2h-8.2zM3842.1 931.7h8.2v8.2h-8.2zM3599.1 939.8h8.2v8.2h-8.2zM3615.3 939.8h8.2v8.2h-8.2zM3631.5 939.8h40.6v8.2h-40.6zM3680.1 939.8h40.6v8.2h-40.6zM3728.7 939.8h8.2v8.2h-8.2zM3744.9 939.8h56.8v8.2h-56.8zM3809.7 939.8h8.2v8.2h-8.2zM3825.9 939.8h8.2v8.2h-8.2zM3842.1 939.8h8.2v8.2h-8.2zM3599.1 947.9h8.2v8.2h-8.2zM3631.5 947.9h8.2v8.2h-8.2zM3663.9 947.9h8.2v8.2h-8.2zM3680.1 947.9h8.2v8.2h-8.2zM3728.7 947.9h8.2v8.2h-8.2zM3793.5 947.9h8.2v8.2h-8.2zM3809.7 947.9h8.2v8.2h-8.2zM3825.9 947.9h8.2v8.2h-8.2zM3842.1 947.9h8.2v8.2h-8.2zM3599.1 956.0h40.6v8.2h-40.6zM3647.7 956.0h8.2v8.2h-8.2zM3663.9 956.0h8.2v8.2h-8.2zM3680.1 956.0h24.4v8.2h-24.4zM3712.5 956.0h24.4v8.2h-24.4zM3744.9 956.0h40.6v8.2h-40.6zM3793.5 956.0h8.2v8.2h-8.2zM3809.7 956.0h24.4v8.2h-24.4zM3842.1 956.0h8.2v8.2h-8.2zM3599.1 964.1h8.2v8.2h-8.2zM3631.5 964.1h8.2v8.2h-8.2zM3647.7 964.1h8.2v8.2h-8.2zM3663.9 964.1h8.2v8.2h-8.2zM3712.5 964.1h8.2v8.2h-8.2zM3744.9 964.1h8.2v8.2h-8.2zM3777.3 964.1h8.2v8.2h-8.2zM3793.5 964.1h8.2v8.2h-8.2zM3842.1 964.1h8.2v8.2h-8.2zM3599.1 972.2h8.2v8.2h-8.2zM3615.3 972.2h24.4v8.2h-24.4zM3647.7 972.2h8.2v8.2h-8.2zM3663.9 972.2h56.8v8.2h-56.8zM3728.7 972.2h8.2v8.2h-8.2zM3744.9 972.2h8.2v8.2h-8.2zM3761.1 972.2h8.2v8.2h-8.2zM3777.3 972.2h56.8v8.2h-56.8zM3842.1 972.2h8.2v8.2h-8.2zM3599.1 980.3h8.2v8.2h-8.2zM3647.7 980.3h8.2v8.2h-8.2zM3728.7 980.3h8.2v8.2h-8.2zM3761.1 980.3h8.2v8.2h-8.2zM3842.1 980.3h8.2v8.2h-8.2zM3599.1 988.4h251.2v8.2h-251.2z" fill="#000"/><path d="M3655.8 753.5h73.0v8.2h-73.0zM3753.0 753.5h40.6v8.2h-40.6zM3655.8 761.6h8.2v8.2h-8.2zM3720.6 761.6h8.2v8.2h-8.2zM3753.0 761.6h8.2v8.2h-8.2zM3785.4 761.6h8.2v8.2h-8.2zM3655.8 769.7h8.2v8.2h-8.2zM3704.4 769.7h24.4v8.2h-24.4zM3753.0 769.7h8.2v8.2h-8.2zM3785.4 769.7h8.2v8.2h-8.2zM3655.8 777.8h8.2v8.2h-8.2zM3704.4 777.8h8.2v8.2h-8.2zM3753.0 777.8h8.2v8.2h-8.2zM3785.4 777.8h8.2v8.2h-8.2zM3655.8 785.9h8.2v8.2h-8.2zM3688.2 785.9h24.4v8.2h-24.4zM3736.8 785.9h24.4v8.2h-24.4zM3785.4 785.9h8.2v8.2h-8.2zM3655.8 794.0h8.2v8.2h-8.2zM3688.2 794.0h8.2v8.2h-8.2zM3736.8 794.0h8.2v8.2h-8.2zM3785.4 794.0h8.2v8.2h-8.2zM3639.6 802.1h24.4v8.2h-24.4zM3688.2 802.1h40.6v8.2h-40.6zM3736.8 802.1h24.4v8.2h-24.4zM3785.4 802.1h32.5v8.2h-32.5zM3639.6 810.2h8.2v8.2h-8.2zM3720.6 810.2h8.2v8.2h-8.2zM3753.0 810.2h8.2v8.2h-8.2zM3639.6 818.3h24.4v8.2h-24.4zM3704.4 818.3h24.4v8.2h-24.4zM3753.0 818.3h24.4v8.2h-24.4zM3655.8 826.4h8.2v8.2h-8.2zM3704.4 826.4h8.2v8.2h-8.2zM3769.2 826.4h8.2v8.2h-8.2zM3607.2 834.5h56.8v8.2h-56.8zM3672.0 834.5h24.4v8.2h-24.4zM3704.4 834.5h56.8v8.2h-56.8zM3769.2 834.5h8.2v8.2h-8.2zM3607.2 842.6h8.2v8.2h-8.2zM3672.0 842.6h8.2v8.2h-8.2zM3688.2 842.6h8.2v8.2h-8.2zM3753.0 842.6h8.2v8.2h-8.2zM3769.2 842.6h8.2v8.2h-8.2zM3607.2 850.7h40.6v8.2h-40.6zM3672.0 850.7h8.2v8.2h-8.2zM3688.2 850.7h8.2v8.2h-8.2zM3753.0 850.7h24.4v8.2h-24.4zM3639.6 858.8h8.2v8.2h-8.2zM3672.0 858.8h8.2v8.2h-8.2zM3688.2 858.8h8.2v8.2h-8.2zM3639.6 866.9h40.6v8.2h-40.6zM3688.2 866.9h8.2v8.2h-8.2zM3688.2 875.0h8.2v8.2h-8.2zM3688.2 883.1h8.2v8.2h-8.2zM3688.2 891.2h8.2v8.2h-8.2zM3623.4 899.3h73.0v8.2h-73.0zM3623.4 907.4h8.2v8.2h-8.2zM3607.2 915.5h24.4v8.2h-24.4zM3655.8 915.5h40.6v8.2h-40.6zM3704.4 915.5h56.8v8.2h-56.8zM3769.2 915.5h16.3v8.2h-16.3zM3607.2 923.6h8.2v8.2h-8.2zM3655.8 923.6h8.2v8.2h-8.2zM3688.2 923.6h8.2v8.2h-8.2zM3704.4 923.6h8.2v8.2h-8.2zM3753.0 923.6h8.2v8.2h-8.2zM3769.2 923.6h8.2v8.2h-8.2zM3607.2 931.7h8.2v8.2h-8.2zM3623.4 931.7h40.6v8.2h-40.6zM3672.0 931.7h24.4v8.2h-24.4zM3704.4 931.7h24.4v8.2h-24.4zM3753.0 931.7h24.4v8.2h-24.4zM3607.2 939.8h8.2v8.2h-8.2zM3623.4 939.8h8.2v8.2h-8.2zM3672.0 939.8h8.2v8.2h-8.2zM3720.6 939.8h8.2v8.2h-8.2zM3607.2 947.9h24.4v8.2h-24.4zM3672.0 947.9h8.2v8.2h-8.2zM3704.4 947.9h24.4v8.2h-24.4zM3672.0 956.0h8.2v8.2h-8.2zM3704.4 956.0h8.2v8.2h-8.2zM3672.0 964.1h40.6v8.2h-40.6z" fill="#0000fe"/><path d="M3817.8 802.1h8.2v8.2h-8.2z" fill="#ff0000"/><path d="M3785.4 915.5h8.2v8.2h-8.2z" fill="#00ff00"/><rect x="3867.1" y="746.4" width="251.1" height="249.4" fill="#000"/><line x1="3921.7" y1="887.4" x2="3951.2" y2="896.1" stroke="#f2f2f2" stroke-width="3.1"/><line x1="3951.2" y1="896.1" x2="3971.2" y2="875.7" stroke="#f2f2f2" stroke-width="3.1"/><line x1="3971.2" y1="875.7" x2="3999.0" y2="877.9" stroke="#f2f2f2" stroke-width="3.1"/><line x1="3999.0" y1="877.9" x2="4021.8" y2="854.3" stroke="#f2f2f2" stroke-width="3.1"/><line x1="4021.8" y1="854.3" x2="4058.1" y2="864.3" stroke="#f2f2f2" stroke-width="3.1"/><line x1="4010.5" y1="837.9" x2="3985.0" y2="831.5" stroke="#f2f2f2" stroke-width="3.1"/><line x1="4010.5" y1="837.9" x2="4026.3" y2="821.5" stroke="#f2f2f2" stroke-width="3.1"/><line x1="3921.7" y1="887.4" x2="3909.3" y2="871.6" stroke="#f2f2f2" stroke-width="3.1"/><line x1="3921.7" y1="887.4" x2="3904.9" y2="902.5" stroke="#f2f2f2" stroke-width="3.1"/><line x1="4058.1" y1="864.3" x2="4074.9" y2="847.9" stroke="#f2f2f2" stroke-width="3.1"/><line x1="3951.2" y1="896.1" x2="3957.7" y2="918.9" stroke="#f2f2f2" stroke-width="3.1"/><line x1="3971.2" y1="875.7" x2="3966.6" y2="857.5" stroke="#f2f2f2" stroke-width="3.1"/><line x1="3999.0" y1="877.9" x2="4002.1" y2="895.2" stroke="#f2f2f2" stroke-width="3.1"/><line x1="4021.8" y1="854.3" x2="4010.5" y2="837.9" stroke="#f2f2f2" stroke-width="3.1"/><line x1="4058.1" y1="864.3" x2="4067.2" y2="875.2" stroke="#f2f2f2" stroke-width="3.1"/><g filter="url(#bl1)"><circle cx="4010.5" cy="837.9" r="10.0" fill="url(#ag)"/><circle cx="3985.0" cy="831.5" r="6.7" fill="url(#aw)"/><circle cx="4026.3" cy="821.5" r="6.7" fill="url(#aw)"/><circle cx="4021.8" cy="854.3" r="11.3" fill="url(#ag)"/><circle cx="4019.0" cy="845.2" r="6.2" fill="url(#aw)"/><circle cx="4058.1" cy="864.3" r="10.9" fill="url(#ag)"/><circle cx="4074.9" cy="847.9" r="6.7" fill="url(#aw)"/><circle cx="4057.2" cy="877.0" r="5.5" fill="url(#aw)"/><circle cx="4067.2" cy="875.2" r="6.4" fill="url(#aw)"/><circle cx="3999.0" cy="877.9" r="10.6" fill="url(#ag)"/><circle cx="4002.1" cy="895.2" r="10.6" fill="url(#ar)"/><circle cx="3971.2" cy="875.7" r="10.9" fill="url(#ab)"/><circle cx="3966.6" cy="857.5" r="6.4" fill="url(#aw)"/><circle cx="3951.2" cy="896.1" r="10.9" fill="url(#ag)"/><circle cx="3957.7" cy="918.9" r="10.9" fill="url(#ar)"/><circle cx="3921.7" cy="887.4" r="10.9" fill="url(#ab)"/><circle cx="3909.3" cy="871.6" r="6.7" fill="url(#aw)"/><circle cx="3904.9" cy="902.5" r="6.7" fill="url(#aw)"/></g><rect x="4135.9" y="746.0" width="333.0" height="250.5" fill="#fff"/><path d="M4135.9 746.0h333.1v21.0h-333.1zM4135.9 766.9h21.0v21.0h-21.0zM4177.5 766.9h21.0v21.0h-21.0zM4323.2 766.9h41.8v21.0h-41.8zM4448.1 766.9h21.0v21.0h-21.0zM4135.9 787.8h21.0v21.0h-21.0zM4177.5 787.8h21.0v21.0h-21.0zM4219.2 787.8h41.8v21.0h-41.8zM4281.6 787.8h21.0v21.0h-21.0zM4323.2 787.8h21.0v21.0h-21.0zM4385.6 787.8h41.8v21.0h-41.8zM4448.1 787.8h21.0v21.0h-21.0zM4135.9 808.6h21.0v21.0h-21.0zM4219.2 808.6h21.0v21.0h-21.0zM4281.6 808.6h21.0v21.0h-21.0zM4364.8 808.6h21.0v21.0h-21.0zM4448.1 808.6h21.0v21.0h-21.0zM4135.9 829.5h21.0v21.0h-21.0zM4177.5 829.5h62.6v21.0h-62.6zM4260.8 829.5h125.0v21.0h-125.0zM4406.5 829.5h21.0v21.0h-21.0zM4448.1 829.5h21.0v21.0h-21.0zM4135.9 850.4h21.0v21.0h-21.0zM4219.2 850.4h21.0v21.0h-21.0zM4302.4 850.4h21.0v21.0h-21.0zM4406.5 850.4h21.0v21.0h-21.0zM4448.1 850.4h21.0v21.0h-21.0zM4135.9 871.3h62.6v21.0h-62.6zM4219.2 871.3h21.0v21.0h-21.0zM4260.8 871.3h21.0v21.0h-21.0zM4323.2 871.3h21.0v21.0h-21.0zM4364.8 871.3h21.0v21.0h-21.0zM4406.5 871.3h62.6v21.0h-62.6zM4135.9 892.2h21.0v21.0h-21.0zM4219.2 892.2h21.0v21.0h-21.0zM4281.6 892.2h21.0v21.0h-21.0zM4364.8 892.2h21.0v21.0h-21.0zM4448.1 892.2h21.0v21.0h-21.0zM4135.9 913.0h21.0v21.0h-21.0zM4177.5 913.0h21.0v21.0h-21.0zM4219.2 913.0h21.0v21.0h-21.0zM4260.8 913.0h125.0v21.0h-125.0zM4406.5 913.0h21.0v21.0h-21.0zM4448.1 913.0h21.0v21.0h-21.0zM4135.9 933.9h21.0v21.0h-21.0zM4177.5 933.9h62.6v21.0h-62.6zM4302.4 933.9h21.0v21.0h-21.0zM4385.6 933.9h41.8v21.0h-41.8zM4448.1 933.9h21.0v21.0h-21.0zM4135.9 954.8h21.0v21.0h-21.0zM4260.8 954.8h21.0v21.0h-21.0zM4344.0 954.8h21.0v21.0h-21.0zM4448.1 954.8h21.0v21.0h-21.0zM4135.9 975.7h333.1v21.0h-333.1z" fill="#808080"/><polyline points="4169.2,961.1 4172.2,961.4 4174.5,961.9 4178.3,962.6 4180.8,962.1 4183.3,962.4 4185.5,962.4 4188.3,963.6 4192.0,963.7 4194.9,963.2 4197.2,964.0 4200.6,964.5 4203.7,963.8 4206.3,964.7 4209.1,964.3" fill="none" stroke="#5a0010" stroke-width="2.3" stroke-linejoin="round" stroke-linecap="round"/><polyline points="4209.1,964.3 4211.9,964.4 4215.4,965.5 4217.9,965.0 4221.3,964.6 4224.3,964.2 4226.9,963.0 4229.4,962.2 4231.3,961.2 4234.6,960.1 4236.3,960.0 4239.3,958.9 4242.3,957.8 4245.7,956.7 4247.4,955.7" fill="none" stroke="#8b0a14" stroke-width="2.3" stroke-linejoin="round" stroke-linecap="round"/><polyline points="4247.4,955.7 4250.1,954.7 4252.2,954.3 4251.0,951.1 4250.7,947.6 4248.5,944.9 4249.0,942.8 4247.9,939.9 4247.4,937.5 4246.8,935.3 4247.4,933.1 4247.3,930.2 4246.4,926.4 4247.7,924.1 4247.1,921.4" fill="none" stroke="#b81419" stroke-width="2.3" stroke-linejoin="round" stroke-linecap="round"/><polyline points="4247.1,921.4 4247.4,918.4 4247.1,915.0 4247.4,912.3 4247.4,910.7 4247.5,906.9 4247.2,904.5 4248.3,902.2 4247.7,899.2 4248.8,897.1 4247.9,894.1 4247.9,891.7 4248.8,889.1 4248.1,887.0 4248.8,885.1" fill="none" stroke="#d9231f" stroke-width="2.3" stroke-linejoin="round" stroke-linecap="round"/><polyline points="4248.8,885.1 4249.0,882.0 4250.2,879.3 4250.8,876.8 4250.2,874.2 4250.2,871.5 4250.7,869.3 4251.6,866.1 4250.9,863.1 4251.7,860.3 4252.3,858.4 4252.8,854.6 4257.2,855.4 4260.6,855.4 4263.8,855.9" fill="none" stroke="#ee3a2c" stroke-width="2.3" stroke-linejoin="round" stroke-linecap="round"/><polyline points="4263.8,855.9 4266.6,855.8 4269.2,854.7 4271.8,855.4 4275.6,855.2 4277.6,856.5 4280.9,858.2 4283.7,859.8 4286.2,860.4 4288.5,861.2 4292.1,860.5 4294.8,862.1 4294.9,864.6 4295.6,868.3 4296.6,872.7" fill="none" stroke="#f65e42" stroke-width="2.3" stroke-linejoin="round" stroke-linecap="round"/><polyline points="4296.6,872.7 4296.4,875.7 4299.6,877.6 4302.3,879.4 4304.1,879.6 4307.5,880.9 4309.9,882.6 4312.2,885.0 4314.7,886.2 4315.2,888.5 4315.4,891.4 4316.2,894.6 4316.7,897.5 4317.3,900.1 4320.7,901.1" fill="none" stroke="#fb7f5f" stroke-width="2.3" stroke-linejoin="round" stroke-linecap="round"/><polyline points="4320.7,901.1 4323.8,901.7 4325.6,901.9 4329.1,902.5 4330.9,902.8 4334.7,901.7 4337.0,901.9 4340.1,901.7 4342.1,901.2 4345.8,900.0 4347.4,899.9 4351.6,898.4 4354.2,897.5 4355.7,893.7 4356.9,891.2" fill="none" stroke="#fc9c7f" stroke-width="2.3" stroke-linejoin="round" stroke-linecap="round"/><polyline points="4356.9,891.2 4357.3,889.3 4357.8,885.6 4357.8,882.0 4357.5,878.4 4357.6,875.9 4357.4,873.9 4357.3,870.0 4356.7,867.7 4357.0,864.9 4357.0,861.0 4360.0,861.4 4363.5,860.7 4367.6,859.9 4370.3,859.0" fill="none" stroke="#fcb9a0" stroke-width="2.3" stroke-linejoin="round" stroke-linecap="round"/><polyline points="4370.3,859.0 4372.8,858.4 4376.0,857.5 4378.6,857.0 4381.9,856.2 4384.2,855.2 4387.4,855.0 4390.2,853.8 4392.5,852.9 4396.5,852.0 4397.8,849.9 4398.6,847.4 4399.9,844.7 4400.1,842.1 4400.2,838.1" fill="none" stroke="#fdd3c1" stroke-width="2.3" stroke-linejoin="round" stroke-linecap="round"/><polyline points="4400.2,838.1 4400.1,835.1 4399.3,832.2 4400.1,830.7 4399.6,828.1 4399.4,824.7 4401.2,822.4 4403.5,820.3 4406.4,818.5 4408.4,816.3 4411.8,815.7 4414.5,815.1 4416.8,814.6 4419.6,813.5 4423.0,812.7" fill="none" stroke="#fee5da" stroke-width="2.3" stroke-linejoin="round" stroke-linecap="round"/><polyline points="4423.0,812.7 4425.0,811.2 4427.7,810.8 4431.3,810.2 4432.8,806.8 4435.6,804.0 4436.7,801.3 4437.9,799.7 4437.7,796.8 4436.4,794.2 4435.9,790.1 4434.5,787.5 4434.9,783.8 4436.3,780.5 4438.0,778.2" fill="none" stroke="#fff0ea" stroke-width="2.3" stroke-linejoin="round" stroke-linecap="round"/><circle cx="4167.2" cy="965.6" r="2" fill="#111"/><circle cx="4438.0" cy="777.7" r="2" fill="#fff" stroke="#666" stroke-width="0.6"/><linearGradient id="gg" x1="0" y1="0" x2="0.3" y2="1"><stop offset="0" stop-color="#8b8885"/><stop offset="0.5" stop-color="#7d7a78"/><stop offset="1" stop-color="#6f6c6a"/></linearGradient><radialGradient id="hg" cx="0.42" cy="0.35" r="0.7"><stop offset="0" stop-color="#d6a062"/><stop offset="0.55" stop-color="#c3884c"/><stop offset="1" stop-color="#9a6232"/></radialGradient><rect x="4487" y="747" width="249.6" height="247" fill="url(#gg)"/><g clip-path="url(#cpd)"><circle cx="4567.6" cy="784.3" r="0.9" fill="#8a8785"/><circle cx="4620.4" cy="837.3" r="1.5" fill="#8a8785"/><circle cx="4540.5" cy="768.2" r="0.9" fill="#73706e"/><circle cx="4509.6" cy="851.9" r="1.6" fill="#8a8785"/><circle cx="4644.0" cy="891.0" r="1.3" fill="#8a8785"/><circle cx="4585.8" cy="988.1" r="1.2" fill="#8a8785"/><circle cx="4520.2" cy="850.5" r="1.3" fill="#8a8785"/><circle cx="4626.5" cy="915.5" r="1.3" fill="#8a8785"/><circle cx="4646.1" cy="839.0" r="1.3" fill="#8a8785"/><circle cx="4641.1" cy="869.6" r="1.4" fill="#73706e"/><circle cx="4602.9" cy="975.1" r="1.0" fill="#86837f"/><circle cx="4684.8" cy="919.7" r="0.9" fill="#6f6c6a"/><circle cx="4561.8" cy="869.3" r="1.4" fill="#86837f"/><circle cx="4558.7" cy="989.1" r="1.2" fill="#8a8785"/><circle cx="4528.1" cy="831.5" r="1.1" fill="#73706e"/><circle cx="4726.5" cy="766.2" r="1.1" fill="#86837f"/><circle cx="4574.2" cy="869.7" r="0.9" fill="#73706e"/><circle cx="4510.3" cy="813.7" r="0.8" fill="#8a8785"/><circle cx="4661.7" cy="906.8" r="1.0" fill="#73706e"/><circle cx="4583.1" cy="912.2" r="1.6" fill="#8a8785"/><circle cx="4575.5" cy="897.9" r="0.8" fill="#73706e"/><circle cx="4678.3" cy="778.9" r="1.1" fill="#6f6c6a"/><circle cx="4715.3" cy="869.6" r="1.2" fill="#6f6c6a"/><circle cx="4623.8" cy="965.2" r="1.5" fill="#73706e"/><circle cx="4556.3" cy="849.6" r="1.3" fill="#86837f"/><circle cx="4581.7" cy="804.0" r="0.9" fill="#8a8785"/><circle cx="4544.8" cy="804.6" r="1.5" fill="#73706e"/><circle cx="4532.4" cy="816.6" r="1.1" fill="#6f6c6a"/><circle cx="4578.9" cy="886.9" r="1.4" fill="#6f6c6a"/><circle cx="4615.4" cy="899.5" r="1.2" fill="#8a8785"/><circle cx="4703.9" cy="982.1" r="1.1" fill="#73706e"/><circle cx="4585.1" cy="865.9" r="0.8" fill="#73706e"/><circle cx="4503.8" cy="798.6" r="0.9" fill="#6f6c6a"/><circle cx="4636.6" cy="772.3" r="1.2" fill="#6f6c6a"/><circle cx="4723.3" cy="898.6" r="1.5" fill="#8a8785"/><circle cx="4639.9" cy="783.7" r="1.6" fill="#86837f"/><circle cx="4637.0" cy="864.1" r="1.5" fill="#8a8785"/><circle cx="4734.3" cy="862.1" r="1.0" fill="#73706e"/><circle cx="4522.9" cy="932.2" r="1.2" fill="#86837f"/><circle cx="4659.3" cy="874.5" r="1.6" fill="#6f6c6a"/><circle cx="4618.5" cy="783.2" r="1.4" fill="#8a8785"/><circle cx="4561.2" cy="905.8" r="1.4" fill="#8a8785"/><circle cx="4552.0" cy="837.6" r="1.1" fill="#6f6c6a"/><circle cx="4542.5" cy="880.8" r="1.3" fill="#86837f"/><circle cx="4639.7" cy="941.7" r="1.4" fill="#6f6c6a"/><circle cx="4690.8" cy="929.7" r="1.0" fill="#6f6c6a"/><circle cx="4609.7" cy="927.6" r="1.4" fill="#8a8785"/><circle cx="4604.6" cy="794.8" r="1.2" fill="#86837f"/><circle cx="4720.3" cy="991.0" r="0.9" fill="#86837f"/><circle cx="4512.4" cy="863.1" r="1.0" fill="#86837f"/><circle cx="4642.4" cy="969.4" r="1.2" fill="#8a8785"/><circle cx="4649.6" cy="944.5" r="1.5" fill="#8a8785"/><circle cx="4516.9" cy="843.0" r="1.2" fill="#6f6c6a"/><circle cx="4531.5" cy="941.9" r="0.9" fill="#86837f"/><circle cx="4722.6" cy="925.3" r="1.1" fill="#73706e"/><circle cx="4722.8" cy="926.0" r="1.6" fill="#6f6c6a"/><circle cx="4493.9" cy="892.9" r="1.4" fill="#73706e"/><circle cx="4523.4" cy="951.1" r="1.3" fill="#73706e"/><circle cx="4574.3" cy="882.5" r="0.8" fill="#6f6c6a"/><circle cx="4686.0" cy="926.4" r="1.2" fill="#8a8785"/><circle cx="4719.5" cy="854.2" r="1.5" fill="#6f6c6a"/><circle cx="4539.5" cy="809.2" r="1.2" fill="#86837f"/><circle cx="4677.2" cy="827.5" r="1.5" fill="#73706e"/><circle cx="4502.2" cy="929.8" r="1.3" fill="#73706e"/><circle cx="4689.9" cy="874.6" r="1.2" fill="#6f6c6a"/><circle cx="4617.4" cy="751.6" r="1.4" fill="#73706e"/><circle cx="4638.5" cy="938.7" r="0.9" fill="#6f6c6a"/><circle cx="4604.9" cy="926.1" r="1.1" fill="#8a8785"/><circle cx="4616.1" cy="884.2" r="1.5" fill="#8a8785"/><circle cx="4501.1" cy="794.3" r="1.4" fill="#8a8785"/><circle cx="4613.4" cy="885.7" r="1.2" fill="#8a8785"/><circle cx="4639.5" cy="871.9" r="1.4" fill="#6f6c6a"/><circle cx="4599.6" cy="878.7" r="1.2" fill="#73706e"/><circle cx="4548.7" cy="876.2" r="1.5" fill="#86837f"/><circle cx="4709.3" cy="797.0" r="0.9" fill="#73706e"/><circle cx="4517.3" cy="856.2" r="1.3" fill="#8a8785"/><circle cx="4593.7" cy="799.5" r="1.4" fill="#86837f"/><circle cx="4710.4" cy="785.1" r="0.9" fill="#86837f"/><circle cx="4706.8" cy="986.0" r="1.4" fill="#6f6c6a"/><circle cx="4510.4" cy="965.6" r="1.6" fill="#6f6c6a"/><circle cx="4694.3" cy="786.9" r="1.6" fill="#73706e"/><circle cx="4587.5" cy="851.1" r="1.1" fill="#86837f"/><circle cx="4666.8" cy="751.8" r="1.2" fill="#73706e"/><circle cx="4491.5" cy="828.9" r="1.2" fill="#86837f"/><circle cx="4503.0" cy="990.3" r="1.6" fill="#6f6c6a"/><circle cx="4513.1" cy="812.6" r="1.5" fill="#8a8785"/><circle cx="4532.2" cy="933.7" r="1.5" fill="#73706e"/><circle cx="4655.3" cy="980.7" r="0.9" fill="#73706e"/><circle cx="4715.9" cy="887.9" r="0.9" fill="#86837f"/><circle cx="4501.3" cy="917.0" r="1.5" fill="#73706e"/><circle cx="4554.0" cy="751.2" r="1.4" fill="#8a8785"/><circle cx="4507.9" cy="958.5" r="1.0" fill="#8a8785"/><circle cx="4517.3" cy="749.9" r="1.5" fill="#73706e"/><circle cx="4553.7" cy="778.9" r="1.6" fill="#6f6c6a"/><circle cx="4728.3" cy="811.7" r="1.0" fill="#6f6c6a"/><circle cx="4564.7" cy="822.3" r="1.0" fill="#6f6c6a"/><circle cx="4611.5" cy="790.9" r="1.4" fill="#86837f"/><circle cx="4734.6" cy="756.1" r="1.4" fill="#8a8785"/><circle cx="4624.2" cy="793.8" r="1.0" fill="#73706e"/><circle cx="4598.3" cy="909.6" r="1.3" fill="#73706e"/><circle cx="4622.9" cy="966.5" r="1.4" fill="#86837f"/><circle cx="4731.6" cy="831.6" r="1.1" fill="#6f6c6a"/><circle cx="4573.5" cy="760.4" r="0.8" fill="#6f6c6a"/><circle cx="4642.7" cy="964.3" r="0.9" fill="#73706e"/><circle cx="4508.0" cy="954.8" r="1.3" fill="#86837f"/><circle cx="4659.5" cy="758.2" r="0.9" fill="#6f6c6a"/><circle cx="4598.0" cy="812.0" r="1.6" fill="#86837f"/><circle cx="4623.2" cy="807.4" r="1.0" fill="#86837f"/><circle cx="4532.6" cy="829.8" r="1.2" fill="#8a8785"/><circle cx="4612.2" cy="796.6" r="0.9" fill="#8a8785"/><circle cx="4690.4" cy="782.5" r="1.1" fill="#8a8785"/><circle cx="4561.6" cy="902.5" r="1.3" fill="#8a8785"/><circle cx="4618.8" cy="932.4" r="1.4" fill="#73706e"/><circle cx="4666.4" cy="869.1" r="1.4" fill="#86837f"/><circle cx="4647.2" cy="757.8" r="1.4" fill="#73706e"/><circle cx="4689.2" cy="781.4" r="1.5" fill="#8a8785"/><circle cx="4632.4" cy="967.5" r="0.9" fill="#6f6c6a"/><circle cx="4497.4" cy="904.4" r="1.1" fill="#8a8785"/><circle cx="4599.4" cy="759.5" r="1.3" fill="#8a8785"/><circle cx="4656.5" cy="867.9" r="1.2" fill="#8a8785"/><circle cx="4504.5" cy="977.3" r="1.3" fill="#8a8785"/><circle cx="4503.4" cy="929.0" r="1.4" fill="#86837f"/><circle cx="4697.7" cy="805.0" r="1.0" fill="#6f6c6a"/><circle cx="4648.8" cy="860.7" r="0.9" fill="#73706e"/><circle cx="4713.7" cy="818.0" r="1.3" fill="#8a8785"/><circle cx="4647.0" cy="766.1" r="1.1" fill="#6f6c6a"/><circle cx="4649.2" cy="918.1" r="0.8" fill="#6f6c6a"/><circle cx="4502.1" cy="813.4" r="1.4" fill="#8a8785"/><circle cx="4655.3" cy="818.8" r="1.2" fill="#86837f"/><circle cx="4603.1" cy="776.3" r="1.0" fill="#6f6c6a"/><circle cx="4508.4" cy="863.8" r="1.2" fill="#86837f"/><circle cx="4691.2" cy="986.1" r="1.6" fill="#73706e"/><circle cx="4583.3" cy="973.4" r="0.9" fill="#6f6c6a"/><circle cx="4509.5" cy="931.6" r="1.6" fill="#86837f"/><circle cx="4520.0" cy="949.6" r="1.5" fill="#86837f"/><circle cx="4662.1" cy="804.2" r="1.1" fill="#73706e"/><circle cx="4526.6" cy="981.6" r="1.1" fill="#73706e"/><circle cx="4668.1" cy="849.8" r="1.1" fill="#73706e"/><circle cx="4696.2" cy="747.4" r="1.5" fill="#86837f"/><circle cx="4516.9" cy="975.8" r="1.5" fill="#8a8785"/><circle cx="4559.2" cy="838.9" r="1.1" fill="#73706e"/><circle cx="4703.6" cy="765.9" r="1.4" fill="#73706e"/><circle cx="4699.7" cy="816.3" r="1.5" fill="#8a8785"/><circle cx="4558.1" cy="978.1" r="1.6" fill="#6f6c6a"/><circle cx="4595.6" cy="825.0" r="1.4" fill="#86837f"/><circle cx="4593.5" cy="754.2" r="1.5" fill="#73706e"/><circle cx="4721.2" cy="882.7" r="0.8" fill="#8a8785"/><circle cx="4669.4" cy="858.4" r="1.3" fill="#6f6c6a"/><circle cx="4558.3" cy="759.1" r="0.9" fill="#6f6c6a"/><circle cx="4590.3" cy="816.6" r="1.4" fill="#86837f"/><circle cx="4730.1" cy="811.3" r="1.0" fill="#6f6c6a"/><circle cx="4625.8" cy="844.4" r="1.3" fill="#6f6c6a"/><circle cx="4505.7" cy="870.6" r="1.2" fill="#73706e"/><circle cx="4599.8" cy="829.2" r="1.1" fill="#73706e"/><circle cx="4623.4" cy="807.3" r="1.1" fill="#6f6c6a"/><circle cx="4509.7" cy="806.1" r="1.4" fill="#86837f"/><circle cx="4537.3" cy="752.0" r="1.1" fill="#73706e"/><circle cx="4672.7" cy="798.9" r="1.1" fill="#86837f"/><circle cx="4502.5" cy="815.5" r="0.9" fill="#86837f"/><circle cx="4612.3" cy="902.5" r="0.9" fill="#6f6c6a"/><circle cx="4710.3" cy="842.0" r="1.1" fill="#73706e"/><circle cx="4564.7" cy="948.1" r="0.9" fill="#8a8785"/><circle cx="4592.9" cy="935.6" r="1.6" fill="#73706e"/><circle cx="4609.0" cy="765.1" r="1.6" fill="#73706e"/><circle cx="4548.9" cy="773.9" r="0.9" fill="#6f6c6a"/><circle cx="4729.0" cy="773.9" r="0.9" fill="#73706e"/><circle cx="4680.4" cy="747.3" r="1.0" fill="#6f6c6a"/><circle cx="4716.1" cy="906.4" r="1.6" fill="#86837f"/><circle cx="4643.0" cy="877.5" r="1.4" fill="#73706e"/><circle cx="4514.9" cy="764.4" r="1.1" fill="#6f6c6a"/><circle cx="4542.7" cy="895.5" r="1.2" fill="#8a8785"/><circle cx="4735.1" cy="815.8" r="1.3" fill="#86837f"/><circle cx="4707.1" cy="864.4" r="1.2" fill="#6f6c6a"/><circle cx="4494.3" cy="848.7" r="0.8" fill="#86837f"/><circle cx="4535.3" cy="965.6" r="0.9" fill="#73706e"/><circle cx="4543.7" cy="851.8" r="1.0" fill="#86837f"/><circle cx="4495.5" cy="830.5" r="1.1" fill="#73706e"/><circle cx="4585.7" cy="748.7" r="1.4" fill="#86837f"/><circle cx="4612.7" cy="797.7" r="1.0" fill="#6f6c6a"/><circle cx="4691.2" cy="804.0" r="1.0" fill="#6f6c6a"/><circle cx="4708.4" cy="773.9" r="1.3" fill="#73706e"/><circle cx="4710.2" cy="866.8" r="1.6" fill="#8a8785"/><circle cx="4523.4" cy="844.2" r="0.8" fill="#6f6c6a"/><circle cx="4635.4" cy="849.6" r="0.9" fill="#8a8785"/><circle cx="4599.0" cy="922.9" r="1.4" fill="#86837f"/><circle cx="4735.4" cy="977.1" r="1.0" fill="#86837f"/><circle cx="4649.5" cy="876.6" r="0.8" fill="#73706e"/><circle cx="4652.4" cy="840.5" r="1.6" fill="#86837f"/><circle cx="4597.2" cy="773.9" r="1.0" fill="#8a8785"/><circle cx="4574.5" cy="983.0" r="1.2" fill="#8a8785"/><circle cx="4675.9" cy="840.9" r="1.5" fill="#86837f"/><circle cx="4594.7" cy="759.2" r="1.0" fill="#73706e"/><circle cx="4621.8" cy="857.2" r="1.1" fill="#86837f"/><circle cx="4710.4" cy="754.5" r="1.0" fill="#73706e"/><circle cx="4642.7" cy="847.0" r="0.8" fill="#73706e"/><circle cx="4502.6" cy="974.3" r="1.0" fill="#86837f"/><circle cx="4502.7" cy="896.6" r="1.0" fill="#86837f"/><circle cx="4725.5" cy="899.4" r="1.4" fill="#86837f"/><circle cx="4658.7" cy="975.3" r="0.8" fill="#86837f"/><circle cx="4675.2" cy="973.4" r="0.8" fill="#8a8785"/><circle cx="4545.2" cy="864.4" r="1.6" fill="#73706e"/><circle cx="4583.2" cy="809.0" r="1.5" fill="#73706e"/><circle cx="4520.0" cy="869.6" r="1.4" fill="#8a8785"/><circle cx="4670.9" cy="950.2" r="1.3" fill="#6f6c6a"/><circle cx="4568.6" cy="825.9" r="1.4" fill="#86837f"/><circle cx="4635.3" cy="873.4" r="1.4" fill="#73706e"/><circle cx="4548.6" cy="763.0" r="1.2" fill="#8a8785"/><circle cx="4622.6" cy="786.7" r="1.5" fill="#73706e"/><circle cx="4733.0" cy="812.4" r="1.0" fill="#8a8785"/><circle cx="4591.8" cy="991.1" r="0.9" fill="#73706e"/><circle cx="4520.1" cy="860.8" r="1.4" fill="#6f6c6a"/><circle cx="4697.9" cy="911.1" r="1.4" fill="#8a8785"/><circle cx="4560.2" cy="816.0" r="1.1" fill="#86837f"/><circle cx="4670.8" cy="796.2" r="0.9" fill="#6f6c6a"/><circle cx="4545.6" cy="816.5" r="1.1" fill="#6f6c6a"/><circle cx="4585.6" cy="992.1" r="1.3" fill="#6f6c6a"/><circle cx="4512.0" cy="861.6" r="0.9" fill="#8a8785"/><circle cx="4605.2" cy="949.3" r="1.5" fill="#73706e"/><circle cx="4497.1" cy="819.5" r="0.8" fill="#8a8785"/><circle cx="4636.5" cy="951.5" r="1.5" fill="#6f6c6a"/><circle cx="4579.7" cy="960.9" r="1.3" fill="#73706e"/><circle cx="4680.0" cy="911.2" r="0.9" fill="#8a8785"/><circle cx="4635.4" cy="900.1" r="0.8" fill="#6f6c6a"/><circle cx="4571.7" cy="757.9" r="0.8" fill="#86837f"/><circle cx="4669.3" cy="972.7" r="1.5" fill="#8a8785"/><circle cx="4588.8" cy="838.8" r="0.9" fill="#86837f"/><circle cx="4494.8" cy="869.4" r="0.9" fill="#73706e"/><circle cx="4512.2" cy="844.6" r="1.3" fill="#6f6c6a"/><circle cx="4509.7" cy="787.4" r="1.1" fill="#86837f"/><circle cx="4557.5" cy="823.0" r="1.0" fill="#8a8785"/><circle cx="4628.1" cy="835.2" r="0.8" fill="#73706e"/><circle cx="4677.9" cy="945.1" r="1.1" fill="#6f6c6a"/><circle cx="4587.8" cy="979.7" r="1.5" fill="#73706e"/><circle cx="4592.5" cy="949.6" r="1.3" fill="#73706e"/><circle cx="4577.8" cy="937.9" r="0.8" fill="#6f6c6a"/><circle cx="4624.3" cy="905.2" r="0.9" fill="#73706e"/><circle cx="4641.9" cy="838.6" r="0.9" fill="#6f6c6a"/><circle cx="4557.5" cy="875.7" r="0.9" fill="#8a8785"/><circle cx="4609.1" cy="945.8" r="1.0" fill="#6f6c6a"/><circle cx="4695.5" cy="757.7" r="1.1" fill="#73706e"/><circle cx="4638.3" cy="904.2" r="1.5" fill="#8a8785"/><circle cx="4641.5" cy="950.7" r="1.3" fill="#6f6c6a"/><circle cx="4700.3" cy="900.4" r="1.5" fill="#6f6c6a"/><circle cx="4532.6" cy="800.9" r="1.6" fill="#73706e"/><circle cx="4526.0" cy="835.7" r="1.0" fill="#6f6c6a"/><circle cx="4667.5" cy="968.6" r="1.5" fill="#8a8785"/><circle cx="4696.8" cy="913.0" r="0.9" fill="#86837f"/><circle cx="4636.3" cy="882.9" r="1.3" fill="#86837f"/><circle cx="4563.7" cy="808.6" r="1.3" fill="#73706e"/><circle cx="4598.3" cy="855.3" r="0.8" fill="#8a8785"/><circle cx="4732.5" cy="861.9" r="1.4" fill="#73706e"/><circle cx="4681.2" cy="860.2" r="1.4" fill="#6f6c6a"/><circle cx="4586.7" cy="763.6" r="1.1" fill="#86837f"/><circle cx="4509.8" cy="856.2" r="0.8" fill="#8a8785"/><circle cx="4519.4" cy="974.8" r="1.4" fill="#86837f"/><circle cx="4614.4" cy="760.4" r="1.3" fill="#73706e"/><circle cx="4682.3" cy="753.4" r="1.6" fill="#8a8785"/><circle cx="4669.3" cy="948.3" r="0.9" fill="#6f6c6a"/><circle cx="4707.5" cy="818.1" r="1.3" fill="#6f6c6a"/><circle cx="4666.5" cy="801.6" r="1.3" fill="#86837f"/><g filter="url(#bl1)"><ellipse cx="4658.0" cy="842.4" rx="54.6" ry="52.8" fill="#3a3836"/><ellipse cx="4655.2" cy="839.3" rx="54.6" ry="52.4" fill="#f3f3f6"/><ellipse cx="4655.2" cy="840.6" rx="33.7" ry="32.4" fill="#e6e6ec"/><ellipse cx="4656.1" cy="837.9" rx="18.2" ry="14.6" fill="#a8794a"/><ellipse cx="4632.5" cy="843.4" rx="9.1" ry="11.8" fill="#d8b878"/><ellipse cx="4661.6" cy="813.3" rx="16.7" ry="14.9" fill="#b97f2e"/><ellipse cx="4661.6" cy="810.6" rx="13.6" ry="10.9" fill="#d6a43a"/><ellipse cx="4693.4" cy="829.7" rx="8.2" ry="8.2" fill="#c23a1c"/><ellipse cx="4658.0" cy="861.5" rx="15.5" ry="8.2" fill="#b58a66" transform="rotate(15 4658.0 861.5)"/><ellipse cx="4645.2" cy="857.9" rx="4.0" ry="7.3" fill="#8a2436"/><ellipse cx="4668.9" cy="856.1" rx="5.5" ry="3.3" fill="#9a3040"/></g><g filter="url(#bl2)"><polygon points="4556.1,919.8 4596.1,899.8 4627.0,896.1 4645.2,918.0 4658.0,954.3 4668.9,994.0 4577.9,994.0 4557.9,963.4" fill="#55504c" opacity="0.55"/><polygon points="4552.4,918.0 4592.4,899.8 4621.6,896.1 4636.1,918.0 4648.9,954.3 4658.0,994.0 4577.9,994.0 4559.7,963.4 4548.8,936.1" fill="#c08850"/><polygon points="4608.8,899.8 4621.6,897.9 4628.8,918.0 4627.0,945.2 4619.7,970.7 4611.6,974.4 4607.0,963.4 4611.6,936.1" fill="#e6cdb0"/><polygon points="4557.9,936.1 4585.2,945.2 4603.4,972.5 4607.0,994.0 4577.9,994.0 4561.5,965.3" fill="#b57a42"/><polygon points="4636.1,963.4 4650.7,972.5 4659.8,994.0 4636.1,994.0" fill="#c98f52"/><polygon points="4655.2,948.9 4665.2,948.0 4678.0,965.3 4703.4,994.0 4679.8,994.0 4667.0,970.7" fill="#c8803a"/><polygon points="4655.2,948.9 4665.2,948.0 4673.4,958.9 4665.2,965.3" fill="#f2ece6"/><polygon points="4538.8,795.1 4552.4,798.8 4574.3,821.5 4577.0,830.6 4541.5,832.4 4535.1,808.8" fill="#7a4426"/><polygon points="4542.4,799.7 4552.4,805.1 4567.0,823.3 4565.2,830.6 4546.1,829.7 4539.7,812.4" fill="#d69d98"/><polygon points="4487.8,843.4 4505.1,847.0 4522.4,852.4 4523.3,879.7 4517.8,887.0 4501.5,879.7 4488.7,863.4" fill="#7a4426"/><polygon points="4490.6,849.7 4505.1,852.4 4518.8,859.7 4520.6,877.9 4506.9,877.9 4492.4,865.2" fill="#d9a09c"/><ellipse cx="4557.9" cy="870.6" rx="39.1" ry="43.7" fill="url(#hg)" transform="rotate(-25 4557.9 870.6)"/><ellipse cx="4552.4" cy="845.2" rx="21.8" ry="12.7" fill="#cf9a5c" transform="rotate(-25 4552.4 845.2)"/><ellipse cx="4574.3" cy="892.5" rx="23.7" ry="21.8" fill="#e8d6c0"/><ellipse cx="4579.7" cy="902.5" rx="17.3" ry="9.1" fill="#2a1d1a" transform="rotate(-25 4579.7 902.5)"/><ellipse cx="4581.5" cy="897.9" rx="6.9" ry="4.4" fill="#d86a90" transform="rotate(-25 4581.5 897.9)"/><ellipse cx="4565.5" cy="880.7" rx="12.4" ry="11.3" fill="#15110f"/><circle cx="4567.9" cy="846.1" r="6.6" fill="#2a1712"/><circle cx="4534.6" cy="871.6" r="6.6" fill="#2a1712"/><circle cx="4569.2" cy="844.8" r="1.6" fill="#ddd"/><circle cx="4536.0" cy="870.3" r="1.6" fill="#ddd"/></g></g></svg>
<svg style="left:0;top:0;width:4781px;height:2880px;" viewBox="0 0 4781 2880"><path d="M3384.8 1281.9 L3400.8 1281.9 L3392.8 1266.9 Z" fill="#8c564b"/><text x="3433.7" y="1281.6" font-size="20.5" text-anchor="start" textLength="159.7" lengthAdjust="spacingAndGlyphs" fill="#000" style="font-family:'Liberation Sans',sans-serif;">Base Diffusion</text><line x1="3637.4" y1="1274.3" x2="3684.0" y2="1274.3" stroke="#9467bd" stroke-width="4"/><circle cx="3660.7" cy="1274.3" r="6.8" fill="#9467bd"/><text x="3701.6" y="1281.6" font-size="20.5" text-anchor="start" textLength="43.9" lengthAdjust="spacingAndGlyphs" fill="#000" style="font-family:'Liberation Sans',sans-serif;">BoN</text><line x1="3789.8" y1="1274.3" x2="3838.0" y2="1274.3" stroke="#ff7f0e" stroke-width="4"/><circle cx="3813.9" cy="1274.3" r="6.8" fill="#ff7f0e"/><text x="3855.3" y="1281.6" font-size="20.5" text-anchor="start" textLength="47.6" lengthAdjust="spacingAndGlyphs" fill="#000" style="font-family:'Liberation Sans',sans-serif;">SMC</text><line x1="3946.9" y1="1274.3" x2="3994.4" y2="1274.3" stroke="#2ca02c" stroke-width="4"/><circle cx="3970.6" cy="1274.3" r="6.8" fill="#2ca02c"/><text x="4011.7" y="1281.6" font-size="20.5" text-anchor="start" textLength="27.0" lengthAdjust="spacingAndGlyphs" fill="#000" style="font-family:'Liberation Sans',sans-serif;">BS</text><line x1="4083.3" y1="1274.3" x2="4130.9" y2="1274.3" stroke="#1f77b4" stroke-width="4"/><circle cx="4107.1" cy="1274.3" r="6.8" fill="#1f77b4"/><text x="4148.2" y="1281.6" font-size="20.5" text-anchor="start" textLength="40.3" lengthAdjust="spacingAndGlyphs" fill="#000" style="font-family:'Liberation Sans',sans-serif;">SoP</text><line x1="4231.7" y1="1274.3" x2="4279.6" y2="1274.3" stroke="#d62728" stroke-width="4"/><circle cx="4255.7" cy="1274.3" r="6.8" fill="#d62728"/><text x="4296.3" y="1281.6" font-size="20.5" text-anchor="start" textLength="139.1" lengthAdjust="spacingAndGlyphs" fill="#000" style="font-family:'Liberation Sans',sans-serif;">ABCD (Ours)</text><rect x="3157.9" y="1327.2" width="458.9" height="247.3" fill="#fff" stroke="#d9d9d9" stroke-width="1.3"/><line x1="3193.5" y1="1327.2" x2="3193.5" y2="1574.4" stroke="#e4e4e4" stroke-width="0.9" stroke-dasharray="2.5 1.5"/><line x1="3193.5" y1="1574.4" x2="3193.5" y2="1577.9" stroke="#888" stroke-width="1"/><text x="3193.5" y="1594.3" font-size="17.2" text-anchor="middle" fill="#1a1a1a" style="font-family:'Liberation Sans',sans-serif;">0.2</text><line x1="3264.0" y1="1327.2" x2="3264.0" y2="1574.4" stroke="#e4e4e4" stroke-width="0.9" stroke-dasharray="2.5 1.5"/><line x1="3264.0" y1="1574.4" x2="3264.0" y2="1577.9" stroke="#888" stroke-width="1"/><text x="3264.0" y="1594.3" font-size="17.2" text-anchor="middle" fill="#1a1a1a" style="font-family:'Liberation Sans',sans-serif;">0.4</text><line x1="3334.6" y1="1327.2" x2="3334.6" y2="1574.4" stroke="#e4e4e4" stroke-width="0.9" stroke-dasharray="2.5 1.5"/><line x1="3334.6" y1="1574.4" x2="3334.6" y2="1577.9" stroke="#888" stroke-width="1"/><text x="3334.6" y="1594.3" font-size="17.2" text-anchor="middle" fill="#1a1a1a" style="font-family:'Liberation Sans',sans-serif;">0.6</text><line x1="3405.1" y1="1327.2" x2="3405.1" y2="1574.4" stroke="#e4e4e4" stroke-width="0.9" stroke-dasharray="2.5 1.5"/><line x1="3405.1" y1="1574.4" x2="3405.1" y2="1577.9" stroke="#888" stroke-width="1"/><text x="3405.1" y="1594.3" font-size="17.2" text-anchor="middle" fill="#1a1a1a" style="font-family:'Liberation Sans',sans-serif;">0.8</text><line x1="3475.7" y1="1327.2" x2="3475.7" y2="1574.4" stroke="#e4e4e4" stroke-width="0.9" stroke-dasharray="2.5 1.5"/><line x1="3475.7" y1="1574.4" x2="3475.7" y2="1577.9" stroke="#888" stroke-width="1"/><text x="3475.7" y="1594.3" font-size="17.2" text-anchor="middle" fill="#1a1a1a" style="font-family:'Liberation Sans',sans-serif;">1.0</text><line x1="3546.2" y1="1327.2" x2="3546.2" y2="1574.4" stroke="#e4e4e4" stroke-width="0.9" stroke-dasharray="2.5 1.5"/><line x1="3546.2" y1="1574.4" x2="3546.2" y2="1577.9" stroke="#888" stroke-width="1"/><text x="3546.2" y="1594.3" font-size="17.2" text-anchor="middle" fill="#1a1a1a" style="font-family:'Liberation Sans',sans-serif;">1.2</text><line x1="3616.8" y1="1327.2" x2="3616.8" y2="1574.4" stroke="#e4e4e4" stroke-width="0.9" stroke-dasharray="2.5 1.5"/><line x1="3616.8" y1="1574.4" x2="3616.8" y2="1577.9" stroke="#888" stroke-width="1"/><text x="3616.8" y="1594.3" font-size="17.2" text-anchor="middle" fill="#1a1a1a" style="font-family:'Liberation Sans',sans-serif;">1.4</text><line x1="3157.9" y1="1574.4" x2="3616.8" y2="1574.4" stroke="#e4e4e4" stroke-width="0.9" stroke-dasharray="2.5 1.5"/><line x1="3154.4" y1="1574.4" x2="3157.9" y2="1574.4" stroke="#888" stroke-width="1"/><text x="3151.9" y="1580.6" font-size="17.2" text-anchor="end" fill="#1a1a1a" style="font-family:'Liberation Sans',sans-serif;">0.0</text><line x1="3157.9" y1="1527.3" x2="3616.8" y2="1527.3" stroke="#e4e4e4" stroke-width="0.9" stroke-dasharray="2.5 1.5"/><line x1="3154.4" y1="1527.3" x2="3157.9" y2="1527.3" stroke="#888" stroke-width="1"/><text x="3151.9" y="1533.5" font-size="17.2" text-anchor="end" fill="#1a1a1a" style="font-family:'Liberation Sans',sans-serif;">0.2</text><line x1="3157.9" y1="1480.2" x2="3616.8" y2="1480.2" stroke="#e4e4e4" stroke-width="0.9" stroke-dasharray="2.5 1.5"/><line x1="3154.4" y1="1480.2" x2="3157.9" y2="1480.2" stroke="#888" stroke-width="1"/><text x="3151.9" y="1486.4" font-size="17.2" text-anchor="end" fill="#1a1a1a" style="font-family:'Liberation Sans',sans-serif;">0.4</text><line x1="3157.9" y1="1433.1" x2="3616.8" y2="1433.1" stroke="#e4e4e4" stroke-width="0.9" stroke-dasharray="2.5 1.5"/><line x1="3154.4" y1="1433.1" x2="3157.9" y2="1433.1" stroke="#888" stroke-width="1"/><text x="3151.9" y="1439.3" font-size="17.2" text-anchor="end" fill="#1a1a1a" style="font-family:'Liberation Sans',sans-serif;">0.6</text><line x1="3157.9" y1="1386.0" x2="3616.8" y2="1386.0" stroke="#e4e4e4" stroke-width="0.9" stroke-dasharray="2.5 1.5"/><line x1="3154.4" y1="1386.0" x2="3157.9" y2="1386.0" stroke="#888" stroke-width="1"/><text x="3151.9" y="1392.1" font-size="17.2" text-anchor="end" fill="#1a1a1a" style="font-family:'Liberation Sans',sans-serif;">0.8</text><line x1="3157.9" y1="1338.8" x2="3616.8" y2="1338.8" stroke="#e4e4e4" stroke-width="0.9" stroke-dasharray="2.5 1.5"/><line x1="3154.4" y1="1338.8" x2="3157.9" y2="1338.8" stroke="#888" stroke-width="1"/><text x="3151.9" y="1345.0" font-size="17.2" text-anchor="end" fill="#1a1a1a" style="font-family:'Liberation Sans',sans-serif;">1.0</text><polyline points="3225.4,1443.0 3364.2,1423.7 3588.2,1418.4" fill="none" stroke="#9467bd" stroke-width="4.2" stroke-linejoin="round" stroke-linecap="round"/><circle cx="3225.4" cy="1443.0" r="6.5" fill="#9467bd"/><circle cx="3364.2" cy="1423.7" r="6.5" fill="#9467bd"/><circle cx="3588.2" cy="1418.4" r="6.5" fill="#9467bd"/><polyline points="3228.8,1422.7 3232.1,1408.4 3236.4,1399.4" fill="none" stroke="#ff7f0e" stroke-width="4.2" stroke-linejoin="round" stroke-linecap="round"/><circle cx="3228.8" cy="1422.7" r="6.5" fill="#ff7f0e"/><circle cx="3232.1" cy="1408.4" r="6.5" fill="#ff7f0e"/><circle cx="3236.4" cy="1399.4" r="6.5" fill="#ff7f0e"/><polyline points="3236.7,1420.0 3266.0,1396.4 3316.9,1375.8" fill="none" stroke="#2ca02c" stroke-width="4.2" stroke-linejoin="round" stroke-linecap="round"/><circle cx="3236.7" cy="1420.0" r="6.5" fill="#2ca02c"/><circle cx="3266.0" cy="1396.4" r="6.5" fill="#2ca02c"/><circle cx="3316.9" cy="1375.8" r="6.5" fill="#2ca02c"/><polyline points="3268.4,1430.3 3288.0,1415.7 3306.3,1394.7 3308.6,1378.1 3319.3,1366.1 3353.5,1349.5 3472.7,1349.5 3525.3,1348.8 3592.5,1348.8" fill="none" stroke="#1f77b4" stroke-width="4.2" stroke-linejoin="round" stroke-linecap="round"/><circle cx="3268.4" cy="1430.3" r="6.5" fill="#1f77b4"/><circle cx="3288.0" cy="1415.7" r="6.5" fill="#1f77b4"/><circle cx="3306.3" cy="1394.7" r="6.5" fill="#1f77b4"/><circle cx="3308.6" cy="1378.1" r="6.5" fill="#1f77b4"/><circle cx="3319.3" cy="1366.1" r="6.5" fill="#1f77b4"/><circle cx="3353.5" cy="1349.5" r="6.5" fill="#1f77b4"/><circle cx="3472.7" cy="1349.5" r="6.5" fill="#1f77b4"/><circle cx="3525.3" cy="1348.8" r="6.5" fill="#1f77b4"/><circle cx="3592.5" cy="1348.8" r="6.5" fill="#1f77b4"/><polyline points="3208.1,1381.4 3246.4,1362.1 3281.7,1348.8 3297.0,1346.2 3319.3,1343.8 3337.9,1342.2 3389.5,1340.2 3425.4,1339.8 3448.1,1339.8" fill="none" stroke="#d62728" stroke-width="4.2" stroke-linejoin="round" stroke-linecap="round"/><circle cx="3208.1" cy="1381.4" r="6.5" fill="#d62728"/><circle cx="3246.4" cy="1362.1" r="6.5" fill="#d62728"/><circle cx="3281.7" cy="1348.8" r="6.5" fill="#d62728"/><circle cx="3297.0" cy="1346.2" r="6.5" fill="#d62728"/><circle cx="3319.3" cy="1343.8" r="6.5" fill="#d62728"/><circle cx="3337.9" cy="1342.2" r="6.5" fill="#d62728"/><circle cx="3389.5" cy="1340.2" r="6.5" fill="#d62728"/><circle cx="3425.4" cy="1339.8" r="6.5" fill="#d62728"/><circle cx="3448.1" cy="1339.8" r="6.5" fill="#d62728"/><path d="M3215.6 1498.9 L3228.6 1498.9 L3222.1 1486.4 Z" fill="#8c564b"/><text x="3271.3" y="1320.9" font-size="24.5" text-anchor="start" textLength="232.3" lengthAdjust="spacingAndGlyphs" fill="#000" style="font-family:'Liberation Sans',sans-serif;">Sudoku Harderset</text><text x="3236.4" y="1615.0" font-size="20" text-anchor="start" textLength="302.2" lengthAdjust="spacingAndGlyphs" fill="#000" style="font-family:'Liberation Sans',sans-serif;">Inference Wall Clock Time (s)</text><text transform="translate(3117.3 1502.9) rotate(-90)" font-size="20" text-anchor="start" textLength="100.5" lengthAdjust="spacingAndGlyphs" fill="#000" style="font-family:'Liberation Sans',sans-serif;">Accuracy</text><rect x="3699.6" y="1327.2" width="458.2" height="247.3" fill="#fff" stroke="#d9d9d9" stroke-width="1.3"/><line x1="3714.6" y1="1327.2" x2="3714.6" y2="1574.4" stroke="#e4e4e4" stroke-width="0.9" stroke-dasharray="2.5 1.5"/><line x1="3714.6" y1="1574.4" x2="3714.6" y2="1577.9" stroke="#888" stroke-width="1"/><text x="3714.6" y="1594.3" font-size="17.2" text-anchor="middle" fill="#1a1a1a" style="font-family:'Liberation Sans',sans-serif;">0</text><line x1="3775.8" y1="1327.2" x2="3775.8" y2="1574.4" stroke="#e4e4e4" stroke-width="0.9" stroke-dasharray="2.5 1.5"/><line x1="3775.8" y1="1574.4" x2="3775.8" y2="1577.9" stroke="#888" stroke-width="1"/><text x="3775.8" y="1594.3" font-size="17.2" text-anchor="middle" fill="#1a1a1a" style="font-family:'Liberation Sans',sans-serif;">2</text><line x1="3837.0" y1="1327.2" x2="3837.0" y2="1574.4" stroke="#e4e4e4" stroke-width="0.9" stroke-dasharray="2.5 1.5"/><line x1="3837.0" y1="1574.4" x2="3837.0" y2="1577.9" stroke="#888" stroke-width="1"/><text x="3837.0" y="1594.3" font-size="17.2" text-anchor="middle" fill="#1a1a1a" style="font-family:'Liberation Sans',sans-serif;">4</text><line x1="3898.3" y1="1327.2" x2="3898.3" y2="1574.4" stroke="#e4e4e4" stroke-width="0.9" stroke-dasharray="2.5 1.5"/><line x1="3898.3" y1="1574.4" x2="3898.3" y2="1577.9" stroke="#888" stroke-width="1"/><text x="3898.3" y="1594.3" font-size="17.2" text-anchor="middle" fill="#1a1a1a" style="font-family:'Liberation Sans',sans-serif;">6</text><line x1="3959.5" y1="1327.2" x2="3959.5" y2="1574.4" stroke="#e4e4e4" stroke-width="0.9" stroke-dasharray="2.5 1.5"/><line x1="3959.5" y1="1574.4" x2="3959.5" y2="1577.9" stroke="#888" stroke-width="1"/><text x="3959.5" y="1594.3" font-size="17.2" text-anchor="middle" fill="#1a1a1a" style="font-family:'Liberation Sans',sans-serif;">8</text><line x1="4020.7" y1="1327.2" x2="4020.7" y2="1574.4" stroke="#e4e4e4" stroke-width="0.9" stroke-dasharray="2.5 1.5"/><line x1="4020.7" y1="1574.4" x2="4020.7" y2="1577.9" stroke="#888" stroke-width="1"/><text x="4020.7" y="1594.3" font-size="17.2" text-anchor="middle" fill="#1a1a1a" style="font-family:'Liberation Sans',sans-serif;">10</text><line x1="4082.0" y1="1327.2" x2="4082.0" y2="1574.4" stroke="#e4e4e4" stroke-width="0.9" stroke-dasharray="2.5 1.5"/><line x1="4082.0" y1="1574.4" x2="4082.0" y2="1577.9" stroke="#888" stroke-width="1"/><text x="4082.0" y="1594.3" font-size="17.2" text-anchor="middle" fill="#1a1a1a" style="font-family:'Liberation Sans',sans-serif;">12</text><line x1="4143.2" y1="1327.2" x2="4143.2" y2="1574.4" stroke="#e4e4e4" stroke-width="0.9" stroke-dasharray="2.5 1.5"/><line x1="4143.2" y1="1574.4" x2="4143.2" y2="1577.9" stroke="#888" stroke-width="1"/><text x="4143.2" y="1594.3" font-size="17.2" text-anchor="middle" fill="#1a1a1a" style="font-family:'Liberation Sans',sans-serif;">14</text><line x1="3699.6" y1="1563.1" x2="4157.8" y2="1563.1" stroke="#e4e4e4" stroke-width="0.9" stroke-dasharray="2.5 1.5"/><line x1="3696.1" y1="1563.1" x2="3699.6" y2="1563.1" stroke="#888" stroke-width="1"/><text x="3693.6" y="1569.3" font-size="17.2" text-anchor="end" fill="#1a1a1a" style="font-family:'Liberation Sans',sans-serif;">0.0</text><line x1="3699.6" y1="1518.1" x2="4157.8" y2="1518.1" stroke="#e4e4e4" stroke-width="0.9" stroke-dasharray="2.5 1.5"/><line x1="3696.1" y1="1518.1" x2="3699.6" y2="1518.1" stroke="#888" stroke-width="1"/><text x="3693.6" y="1524.3" font-size="17.2" text-anchor="end" fill="#1a1a1a" style="font-family:'Liberation Sans',sans-serif;">0.2</text><line x1="3699.6" y1="1473.1" x2="4157.8" y2="1473.1" stroke="#e4e4e4" stroke-width="0.9" stroke-dasharray="2.5 1.5"/><line x1="3696.1" y1="1473.1" x2="3699.6" y2="1473.1" stroke="#888" stroke-width="1"/><text x="3693.6" y="1479.3" font-size="17.2" text-anchor="end" fill="#1a1a1a" style="font-family:'Liberation Sans',sans-serif;">0.4</text><line x1="3699.6" y1="1428.2" x2="4157.8" y2="1428.2" stroke="#e4e4e4" stroke-width="0.9" stroke-dasharray="2.5 1.5"/><line x1="3696.1" y1="1428.2" x2="3699.6" y2="1428.2" stroke="#888" stroke-width="1"/><text x="3693.6" y="1434.3" font-size="17.2" text-anchor="end" fill="#1a1a1a" style="font-family:'Liberation Sans',sans-serif;">0.6</text><line x1="3699.6" y1="1383.2" x2="4157.8" y2="1383.2" stroke="#e4e4e4" stroke-width="0.9" stroke-dasharray="2.5 1.5"/><line x1="3696.1" y1="1383.2" x2="3699.6" y2="1383.2" stroke="#888" stroke-width="1"/><text x="3693.6" y="1389.4" font-size="17.2" text-anchor="end" fill="#1a1a1a" style="font-family:'Liberation Sans',sans-serif;">0.8</text><line x1="3699.6" y1="1338.2" x2="4157.8" y2="1338.2" stroke="#e4e4e4" stroke-width="0.9" stroke-dasharray="2.5 1.5"/><line x1="3696.1" y1="1338.2" x2="3699.6" y2="1338.2" stroke="#888" stroke-width="1"/><text x="3693.6" y="1344.4" font-size="17.2" text-anchor="end" fill="#1a1a1a" style="font-family:'Liberation Sans',sans-serif;">1.0</text><polyline points="3771.8,1525.2 3796.1,1518.2 3882.0,1509.2 4036.0,1486.6 4111.9,1477.6" fill="none" stroke="#9467bd" stroke-width="4.2" stroke-linejoin="round" stroke-linecap="round"/><circle cx="3771.8" cy="1525.2" r="6.5" fill="#9467bd"/><circle cx="3796.1" cy="1518.2" r="6.5" fill="#9467bd"/><circle cx="3882.0" cy="1509.2" r="6.5" fill="#9467bd"/><circle cx="4036.0" cy="1486.6" r="6.5" fill="#9467bd"/><circle cx="4111.9" cy="1477.6" r="6.5" fill="#9467bd"/><polyline points="3812.7,1518.2 3824.7,1500.2 3855.3,1491.2 3915.2,1475.6 4030.0,1482.3" fill="none" stroke="#ff7f0e" stroke-width="4.2" stroke-linejoin="round" stroke-linecap="round"/><circle cx="3812.7" cy="1518.2" r="6.5" fill="#ff7f0e"/><circle cx="3824.7" cy="1500.2" r="6.5" fill="#ff7f0e"/><circle cx="3855.3" cy="1491.2" r="6.5" fill="#ff7f0e"/><circle cx="3915.2" cy="1475.6" r="6.5" fill="#ff7f0e"/><circle cx="4030.0" cy="1482.3" r="6.5" fill="#ff7f0e"/><polyline points="3796.8,1506.9 3840.0,1491.2 3891.6,1475.6 4044.7,1426.0" fill="none" stroke="#2ca02c" stroke-width="4.2" stroke-linejoin="round" stroke-linecap="round"/><circle cx="3796.8" cy="1506.9" r="6.5" fill="#2ca02c"/><circle cx="3840.0" cy="1491.2" r="6.5" fill="#2ca02c"/><circle cx="3891.6" cy="1475.6" r="6.5" fill="#2ca02c"/><circle cx="4044.7" cy="1426.0" r="6.5" fill="#2ca02c"/><polyline points="3838.4,1506.9 3866.7,1441.7 3908.6,1392.4 3919.2,1372.1 3931.2,1358.8 3972.5,1349.5 4094.3,1340.5" fill="none" stroke="#1f77b4" stroke-width="4.2" stroke-linejoin="round" stroke-linecap="round"/><circle cx="3838.4" cy="1506.9" r="6.5" fill="#1f77b4"/><circle cx="3866.7" cy="1441.7" r="6.5" fill="#1f77b4"/><circle cx="3908.6" cy="1392.4" r="6.5" fill="#1f77b4"/><circle cx="3919.2" cy="1372.1" r="6.5" fill="#1f77b4"/><circle cx="3931.2" cy="1358.8" r="6.5" fill="#1f77b4"/><circle cx="3972.5" cy="1349.5" r="6.5" fill="#1f77b4"/><circle cx="4094.3" cy="1340.5" r="6.5" fill="#1f77b4"/><polyline points="3734.5,1525.2 3751.8,1464.3 3798.4,1347.2 3809.8,1340.5 3829.4,1338.2" fill="none" stroke="#d62728" stroke-width="4.2" stroke-linejoin="round" stroke-linecap="round"/><circle cx="3734.5" cy="1525.2" r="6.5" fill="#d62728"/><circle cx="3751.8" cy="1464.3" r="6.5" fill="#d62728"/><circle cx="3798.4" cy="1347.2" r="6.5" fill="#d62728"/><circle cx="3809.8" cy="1340.5" r="6.5" fill="#d62728"/><circle cx="3829.4" cy="1338.2" r="6.5" fill="#d62728"/><path d="M3714.1 1564.8 L3727.1 1564.8 L3720.6 1552.3 Z" fill="#8c564b"/><text x="3809.8" y="1320.9" font-size="24.5" text-anchor="start" textLength="237.9" lengthAdjust="spacingAndGlyphs" fill="#000" style="font-family:'Liberation Sans',sans-serif;">Pixel Maze Size 15</text><text x="3778.1" y="1615.0" font-size="20" text-anchor="start" textLength="301.2" lengthAdjust="spacingAndGlyphs" fill="#000" style="font-family:'Liberation Sans',sans-serif;">Inference Wall Clock Time (s)</text><text transform="translate(3658.0 1524.5) rotate(-90)" font-size="20" text-anchor="start" textLength="146.4" lengthAdjust="spacingAndGlyphs" fill="#000" style="font-family:'Liberation Sans',sans-serif;">Success Rate</text><rect x="4237.6" y="1326.8" width="458.2" height="247.4" fill="#fff" stroke="#d9d9d9" stroke-width="1.3"/><line x1="4237.6" y1="1326.8" x2="4237.6" y2="1574.2" stroke="#e4e4e4" stroke-width="0.9" stroke-dasharray="2.5 1.5"/><line x1="4237.6" y1="1574.2" x2="4237.6" y2="1577.7" stroke="#888" stroke-width="1"/><text x="4237.6" y="1594.1" font-size="17.2" text-anchor="middle" fill="#1a1a1a" style="font-family:'Liberation Sans',sans-serif;">0</text><line x1="4294.9" y1="1326.8" x2="4294.9" y2="1574.2" stroke="#e4e4e4" stroke-width="0.9" stroke-dasharray="2.5 1.5"/><line x1="4294.9" y1="1574.2" x2="4294.9" y2="1577.7" stroke="#888" stroke-width="1"/><text x="4294.9" y="1594.1" font-size="17.2" text-anchor="middle" fill="#1a1a1a" style="font-family:'Liberation Sans',sans-serif;">10</text><line x1="4352.1" y1="1326.8" x2="4352.1" y2="1574.2" stroke="#e4e4e4" stroke-width="0.9" stroke-dasharray="2.5 1.5"/><line x1="4352.1" y1="1574.2" x2="4352.1" y2="1577.7" stroke="#888" stroke-width="1"/><text x="4352.1" y="1594.1" font-size="17.2" text-anchor="middle" fill="#1a1a1a" style="font-family:'Liberation Sans',sans-serif;">20</text><line x1="4409.4" y1="1326.8" x2="4409.4" y2="1574.2" stroke="#e4e4e4" stroke-width="0.9" stroke-dasharray="2.5 1.5"/><line x1="4409.4" y1="1574.2" x2="4409.4" y2="1577.7" stroke="#888" stroke-width="1"/><text x="4409.4" y="1594.1" font-size="17.2" text-anchor="middle" fill="#1a1a1a" style="font-family:'Liberation Sans',sans-serif;">30</text><line x1="4466.7" y1="1326.8" x2="4466.7" y2="1574.2" stroke="#e4e4e4" stroke-width="0.9" stroke-dasharray="2.5 1.5"/><line x1="4466.7" y1="1574.2" x2="4466.7" y2="1577.7" stroke="#888" stroke-width="1"/><text x="4466.7" y="1594.1" font-size="17.2" text-anchor="middle" fill="#1a1a1a" style="font-family:'Liberation Sans',sans-serif;">40</text><line x1="4524.0" y1="1326.8" x2="4524.0" y2="1574.2" stroke="#e4e4e4" stroke-width="0.9" stroke-dasharray="2.5 1.5"/><line x1="4524.0" y1="1574.2" x2="4524.0" y2="1577.7" stroke="#888" stroke-width="1"/><text x="4524.0" y="1594.1" font-size="17.2" text-anchor="middle" fill="#1a1a1a" style="font-family:'Liberation Sans',sans-serif;">50</text><line x1="4581.2" y1="1326.8" x2="4581.2" y2="1574.2" stroke="#e4e4e4" stroke-width="0.9" stroke-dasharray="2.5 1.5"/><line x1="4581.2" y1="1574.2" x2="4581.2" y2="1577.7" stroke="#888" stroke-width="1"/><text x="4581.2" y="1594.1" font-size="17.2" text-anchor="middle" fill="#1a1a1a" style="font-family:'Liberation Sans',sans-serif;">60</text><line x1="4638.5" y1="1326.8" x2="4638.5" y2="1574.2" stroke="#e4e4e4" stroke-width="0.9" stroke-dasharray="2.5 1.5"/><line x1="4638.5" y1="1574.2" x2="4638.5" y2="1577.7" stroke="#888" stroke-width="1"/><text x="4638.5" y="1594.1" font-size="17.2" text-anchor="middle" fill="#1a1a1a" style="font-family:'Liberation Sans',sans-serif;">70</text><line x1="4695.8" y1="1326.8" x2="4695.8" y2="1574.2" stroke="#e4e4e4" stroke-width="0.9" stroke-dasharray="2.5 1.5"/><line x1="4695.8" y1="1574.2" x2="4695.8" y2="1577.7" stroke="#888" stroke-width="1"/><text x="4695.8" y="1594.1" font-size="17.2" text-anchor="middle" fill="#1a1a1a" style="font-family:'Liberation Sans',sans-serif;">80</text><line x1="4237.6" y1="1574.2" x2="4695.8" y2="1574.2" stroke="#e4e4e4" stroke-width="0.9" stroke-dasharray="2.5 1.5"/><line x1="4234.1" y1="1574.2" x2="4237.6" y2="1574.2" stroke="#888" stroke-width="1"/><text x="4231.6" y="1580.4" font-size="17.2" text-anchor="end" fill="#1a1a1a" style="font-family:'Liberation Sans',sans-serif;">0.70</text><line x1="4237.6" y1="1534.3" x2="4695.8" y2="1534.3" stroke="#e4e4e4" stroke-width="0.9" stroke-dasharray="2.5 1.5"/><line x1="4234.1" y1="1534.3" x2="4237.6" y2="1534.3" stroke="#888" stroke-width="1"/><text x="4231.6" y="1540.5" font-size="17.2" text-anchor="end" fill="#1a1a1a" style="font-family:'Liberation Sans',sans-serif;">0.75</text><line x1="4237.6" y1="1494.4" x2="4695.8" y2="1494.4" stroke="#e4e4e4" stroke-width="0.9" stroke-dasharray="2.5 1.5"/><line x1="4234.1" y1="1494.4" x2="4237.6" y2="1494.4" stroke="#888" stroke-width="1"/><text x="4231.6" y="1500.6" font-size="17.2" text-anchor="end" fill="#1a1a1a" style="font-family:'Liberation Sans',sans-serif;">0.80</text><line x1="4237.6" y1="1454.6" x2="4695.8" y2="1454.6" stroke="#e4e4e4" stroke-width="0.9" stroke-dasharray="2.5 1.5"/><line x1="4234.1" y1="1454.6" x2="4237.6" y2="1454.6" stroke="#888" stroke-width="1"/><text x="4231.6" y="1460.7" font-size="17.2" text-anchor="end" fill="#1a1a1a" style="font-family:'Liberation Sans',sans-serif;">0.85</text><line x1="4237.6" y1="1414.7" x2="4695.8" y2="1414.7" stroke="#e4e4e4" stroke-width="0.9" stroke-dasharray="2.5 1.5"/><line x1="4234.1" y1="1414.7" x2="4237.6" y2="1414.7" stroke="#888" stroke-width="1"/><text x="4231.6" y="1420.9" font-size="17.2" text-anchor="end" fill="#1a1a1a" style="font-family:'Liberation Sans',sans-serif;">0.90</text><line x1="4237.6" y1="1374.8" x2="4695.8" y2="1374.8" stroke="#e4e4e4" stroke-width="0.9" stroke-dasharray="2.5 1.5"/><line x1="4234.1" y1="1374.8" x2="4237.6" y2="1374.8" stroke="#888" stroke-width="1"/><text x="4231.6" y="1381.0" font-size="17.2" text-anchor="end" fill="#1a1a1a" style="font-family:'Liberation Sans',sans-serif;">0.95</text><line x1="4237.6" y1="1334.9" x2="4695.8" y2="1334.9" stroke="#e4e4e4" stroke-width="0.9" stroke-dasharray="2.5 1.5"/><line x1="4234.1" y1="1334.9" x2="4237.6" y2="1334.9" stroke="#888" stroke-width="1"/><text x="4231.6" y="1341.1" font-size="17.2" text-anchor="end" fill="#1a1a1a" style="font-family:'Liberation Sans',sans-serif;">1.00</text><polyline points="4336.7,1446.6 4440.9,1446.6 4640.2,1422.6" fill="none" stroke="#9467bd" stroke-width="4.2" stroke-linejoin="round" stroke-linecap="round"/><circle cx="4336.7" cy="1446.6" r="6.5" fill="#9467bd"/><circle cx="4440.9" cy="1446.6" r="6.5" fill="#9467bd"/><circle cx="4640.2" cy="1422.6" r="6.5" fill="#9467bd"/><polyline points="4376.2,1430.6 4438.6,1454.6 4537.1,1414.7" fill="none" stroke="#ff7f0e" stroke-width="4.2" stroke-linejoin="round" stroke-linecap="round"/><circle cx="4376.2" cy="1430.6" r="6.5" fill="#ff7f0e"/><circle cx="4438.6" cy="1454.6" r="6.5" fill="#ff7f0e"/><circle cx="4537.1" cy="1414.7" r="6.5" fill="#ff7f0e"/><polyline points="4343.0,1478.5 4455.2,1470.5 4638.5,1406.7" fill="none" stroke="#2ca02c" stroke-width="4.2" stroke-linejoin="round" stroke-linecap="round"/><circle cx="4343.0" cy="1478.5" r="6.5" fill="#2ca02c"/><circle cx="4455.2" cy="1470.5" r="6.5" fill="#2ca02c"/><circle cx="4638.5" cy="1406.7" r="6.5" fill="#2ca02c"/><polyline points="4421.4,1414.7 4466.7,1398.7 4522.8,1374.8" fill="none" stroke="#1f77b4" stroke-width="4.2" stroke-linejoin="round" stroke-linecap="round"/><circle cx="4421.4" cy="1414.7" r="6.5" fill="#1f77b4"/><circle cx="4466.7" cy="1398.7" r="6.5" fill="#1f77b4"/><circle cx="4522.8" cy="1374.8" r="6.5" fill="#1f77b4"/><polyline points="4262.2,1390.7 4369.3,1358.8 4503.3,1342.9" fill="none" stroke="#d62728" stroke-width="4.2" stroke-linejoin="round" stroke-linecap="round"/><circle cx="4262.2" cy="1390.7" r="6.5" fill="#d62728"/><circle cx="4369.3" cy="1358.8" r="6.5" fill="#d62728"/><circle cx="4503.3" cy="1342.9" r="6.5" fill="#d62728"/><path d="M4254.0 1548.3 L4267.0 1548.3 L4260.5 1535.8 Z" fill="#8c564b"/><text x="4437.8" y="1320.9" font-size="24.5" text-anchor="start" textLength="58.0" lengthAdjust="spacingAndGlyphs" fill="#000" style="font-family:'Liberation Sans',sans-serif;">QM9</text><text x="4315.7" y="1615.2" font-size="20" text-anchor="start" textLength="301.9" lengthAdjust="spacingAndGlyphs" fill="#000" style="font-family:'Liberation Sans',sans-serif;">Inference Wall Clock Time (s)</text><text transform="translate(4185.3 1549.4) rotate(-90)" font-size="20" text-anchor="start" textLength="196.2" lengthAdjust="spacingAndGlyphs" fill="#000" style="font-family:'Liberation Sans',sans-serif;">Molecule Stability</text><rect x="3454.5" y="1673.6" width="445.0" height="257.3" fill="#fff" stroke="#d9d9d9" stroke-width="1.3"/><line x1="3506.4" y1="1673.6" x2="3506.4" y2="1930.9" stroke="#e4e4e4" stroke-width="0.9" stroke-dasharray="2.5 1.5"/><line x1="3506.4" y1="1930.9" x2="3506.4" y2="1934.4" stroke="#888" stroke-width="1"/><text x="3506.4" y="1950.7" font-size="17.2" text-anchor="middle" fill="#1a1a1a" style="font-family:'Liberation Sans',sans-serif;">50</text><line x1="3579.5" y1="1673.6" x2="3579.5" y2="1930.9" stroke="#e4e4e4" stroke-width="0.9" stroke-dasharray="2.5 1.5"/><line x1="3579.5" y1="1930.9" x2="3579.5" y2="1934.4" stroke="#888" stroke-width="1"/><text x="3579.5" y="1950.7" font-size="17.2" text-anchor="middle" fill="#1a1a1a" style="font-family:'Liberation Sans',sans-serif;">100</text><line x1="3652.5" y1="1673.6" x2="3652.5" y2="1930.9" stroke="#e4e4e4" stroke-width="0.9" stroke-dasharray="2.5 1.5"/><line x1="3652.5" y1="1930.9" x2="3652.5" y2="1934.4" stroke="#888" stroke-width="1"/><text x="3652.5" y="1950.7" font-size="17.2" text-anchor="middle" fill="#1a1a1a" style="font-family:'Liberation Sans',sans-serif;">150</text><line x1="3725.6" y1="1673.6" x2="3725.6" y2="1930.9" stroke="#e4e4e4" stroke-width="0.9" stroke-dasharray="2.5 1.5"/><line x1="3725.6" y1="1930.9" x2="3725.6" y2="1934.4" stroke="#888" stroke-width="1"/><text x="3725.6" y="1950.7" font-size="17.2" text-anchor="middle" fill="#1a1a1a" style="font-family:'Liberation Sans',sans-serif;">200</text><line x1="3798.7" y1="1673.6" x2="3798.7" y2="1930.9" stroke="#e4e4e4" stroke-width="0.9" stroke-dasharray="2.5 1.5"/><line x1="3798.7" y1="1930.9" x2="3798.7" y2="1934.4" stroke="#888" stroke-width="1"/><text x="3798.7" y="1950.7" font-size="17.2" text-anchor="middle" fill="#1a1a1a" style="font-family:'Liberation Sans',sans-serif;">250</text><line x1="3871.8" y1="1673.6" x2="3871.8" y2="1930.9" stroke="#e4e4e4" stroke-width="0.9" stroke-dasharray="2.5 1.5"/><line x1="3871.8" y1="1930.9" x2="3871.8" y2="1934.4" stroke="#888" stroke-width="1"/><text x="3871.8" y="1950.7" font-size="17.2" text-anchor="middle" fill="#1a1a1a" style="font-family:'Liberation Sans',sans-serif;">300</text><line x1="3454.5" y1="1890.5" x2="3899.5" y2="1890.5" stroke="#e4e4e4" stroke-width="0.9" stroke-dasharray="2.5 1.5"/><line x1="3451.0" y1="1890.5" x2="3454.5" y2="1890.5" stroke="#888" stroke-width="1"/><text x="3448.5" y="1896.6" font-size="17.2" text-anchor="end" fill="#1a1a1a" style="font-family:'Liberation Sans',sans-serif;">0.272</text><line x1="3454.5" y1="1827.9" x2="3899.5" y2="1827.9" stroke="#e4e4e4" stroke-width="0.9" stroke-dasharray="2.5 1.5"/><line x1="3451.0" y1="1827.9" x2="3454.5" y2="1827.9" stroke="#888" stroke-width="1"/><text x="3448.5" y="1834.1" font-size="17.2" text-anchor="end" fill="#1a1a1a" style="font-family:'Liberation Sans',sans-serif;">0.274</text><line x1="3454.5" y1="1765.3" x2="3899.5" y2="1765.3" stroke="#e4e4e4" stroke-width="0.9" stroke-dasharray="2.5 1.5"/><line x1="3451.0" y1="1765.3" x2="3454.5" y2="1765.3" stroke="#888" stroke-width="1"/><text x="3448.5" y="1771.5" font-size="17.2" text-anchor="end" fill="#1a1a1a" style="font-family:'Liberation Sans',sans-serif;">0.276</text><line x1="3454.5" y1="1702.7" x2="3899.5" y2="1702.7" stroke="#e4e4e4" stroke-width="0.9" stroke-dasharray="2.5 1.5"/><line x1="3451.0" y1="1702.7" x2="3454.5" y2="1702.7" stroke="#888" stroke-width="1"/><text x="3448.5" y="1708.9" font-size="17.2" text-anchor="end" fill="#1a1a1a" style="font-family:'Liberation Sans',sans-serif;">0.278</text><polyline points="3597.7,1800.9 3656.8,1789.5 3730.5,1788.2 3814.5,1787.3" fill="none" stroke="#9467bd" stroke-width="3.8" stroke-linejoin="round" stroke-linecap="round"/><circle cx="3597.7" cy="1800.9" r="5.8" fill="#9467bd"/><circle cx="3656.8" cy="1789.5" r="5.8" fill="#9467bd"/><circle cx="3730.5" cy="1788.2" r="5.8" fill="#9467bd"/><circle cx="3814.5" cy="1787.3" r="5.8" fill="#9467bd"/><polyline points="3702.7,1885.0 3740.0,1806.4 3790.5,1814.1 3820.5,1809.1 3879.1,1752.3" fill="none" stroke="#1f77b4" stroke-width="3.8" stroke-linejoin="round" stroke-linecap="round"/><circle cx="3702.7" cy="1885.0" r="5.8" fill="#1f77b4"/><circle cx="3740.0" cy="1806.4" r="5.8" fill="#1f77b4"/><circle cx="3790.5" cy="1814.1" r="5.8" fill="#1f77b4"/><circle cx="3820.5" cy="1809.1" r="5.8" fill="#1f77b4"/><circle cx="3879.1" cy="1752.3" r="5.8" fill="#1f77b4"/><polyline points="3475.5,1825.5 3499.5,1778.6 3523.6,1755.0 3551.8,1732.3 3574.1,1720.5 3640.5,1685.5" fill="none" stroke="#d62728" stroke-width="3.8" stroke-linejoin="round" stroke-linecap="round"/><circle cx="3475.5" cy="1825.5" r="5.8" fill="#d62728"/><circle cx="3499.5" cy="1778.6" r="5.8" fill="#d62728"/><circle cx="3523.6" cy="1755.0" r="5.8" fill="#d62728"/><circle cx="3551.8" cy="1732.3" r="5.8" fill="#d62728"/><circle cx="3574.1" cy="1720.5" r="5.8" fill="#d62728"/><circle cx="3640.5" cy="1685.5" r="5.8" fill="#d62728"/><path d="M3515.8 1926.9 L3528.8 1926.9 L3522.3 1914.4 Z" fill="#8c564b"/><text x="3587.3" y="1667.3" font-size="24.5" text-anchor="start" textLength="185.0" lengthAdjust="spacingAndGlyphs" fill="#000" style="font-family:'Liberation Sans',sans-serif;">Text-to-Image</text><text x="3528.2" y="1970.0" font-size="20" text-anchor="start" textLength="297.7" lengthAdjust="spacingAndGlyphs" fill="#000" style="font-family:'Liberation Sans',sans-serif;">Inference Wall Clock Time (s)</text><text transform="translate(3392.7 1933.6) rotate(-90)" font-size="20" text-anchor="start" textLength="260.5" lengthAdjust="spacingAndGlyphs" fill="#000" style="font-family:'Liberation Sans',sans-serif;">Human Preference Score</text><rect x="3969.1" y="1675.5" width="468.2" height="252.3" fill="#fff" stroke="#d9d9d9" stroke-width="1.3"/><line x1="3970.5" y1="1675.5" x2="3970.5" y2="1927.7" stroke="#e4e4e4" stroke-width="0.9" stroke-dasharray="2.5 1.5"/><line x1="3970.5" y1="1927.7" x2="3970.5" y2="1931.2" stroke="#888" stroke-width="1"/><text x="3970.5" y="1947.6" font-size="17.2" text-anchor="middle" fill="#1a1a1a" style="font-family:'Liberation Sans',sans-serif;">0</text><line x1="4045.1" y1="1675.5" x2="4045.1" y2="1927.7" stroke="#e4e4e4" stroke-width="0.9" stroke-dasharray="2.5 1.5"/><line x1="4045.1" y1="1927.7" x2="4045.1" y2="1931.2" stroke="#888" stroke-width="1"/><text x="4045.1" y="1947.6" font-size="17.2" text-anchor="middle" fill="#1a1a1a" style="font-family:'Liberation Sans',sans-serif;">20</text><line x1="4119.7" y1="1675.5" x2="4119.7" y2="1927.7" stroke="#e4e4e4" stroke-width="0.9" stroke-dasharray="2.5 1.5"/><line x1="4119.7" y1="1927.7" x2="4119.7" y2="1931.2" stroke="#888" stroke-width="1"/><text x="4119.7" y="1947.6" font-size="17.2" text-anchor="middle" fill="#1a1a1a" style="font-family:'Liberation Sans',sans-serif;">40</text><line x1="4194.4" y1="1675.5" x2="4194.4" y2="1927.7" stroke="#e4e4e4" stroke-width="0.9" stroke-dasharray="2.5 1.5"/><line x1="4194.4" y1="1927.7" x2="4194.4" y2="1931.2" stroke="#888" stroke-width="1"/><text x="4194.4" y="1947.6" font-size="17.2" text-anchor="middle" fill="#1a1a1a" style="font-family:'Liberation Sans',sans-serif;">60</text><line x1="4269.0" y1="1675.5" x2="4269.0" y2="1927.7" stroke="#e4e4e4" stroke-width="0.9" stroke-dasharray="2.5 1.5"/><line x1="4269.0" y1="1927.7" x2="4269.0" y2="1931.2" stroke="#888" stroke-width="1"/><text x="4269.0" y="1947.6" font-size="17.2" text-anchor="middle" fill="#1a1a1a" style="font-family:'Liberation Sans',sans-serif;">80</text><line x1="4343.6" y1="1675.5" x2="4343.6" y2="1927.7" stroke="#e4e4e4" stroke-width="0.9" stroke-dasharray="2.5 1.5"/><line x1="4343.6" y1="1927.7" x2="4343.6" y2="1931.2" stroke="#888" stroke-width="1"/><text x="4343.6" y="1947.6" font-size="17.2" text-anchor="middle" fill="#1a1a1a" style="font-family:'Liberation Sans',sans-serif;">100</text><line x1="4418.3" y1="1675.5" x2="4418.3" y2="1927.7" stroke="#e4e4e4" stroke-width="0.9" stroke-dasharray="2.5 1.5"/><line x1="4418.3" y1="1927.7" x2="4418.3" y2="1931.2" stroke="#888" stroke-width="1"/><text x="4418.3" y="1947.6" font-size="17.2" text-anchor="middle" fill="#1a1a1a" style="font-family:'Liberation Sans',sans-serif;">120</text><line x1="3969.1" y1="1916.4" x2="4437.3" y2="1916.4" stroke="#e4e4e4" stroke-width="0.9" stroke-dasharray="2.5 1.5"/><line x1="3965.6" y1="1916.4" x2="3969.1" y2="1916.4" stroke="#888" stroke-width="1"/><text x="3963.1" y="1922.6" font-size="17.2" text-anchor="end" fill="#1a1a1a" style="font-family:'Liberation Sans',sans-serif;">0.0</text><line x1="3969.1" y1="1870.7" x2="4437.3" y2="1870.7" stroke="#e4e4e4" stroke-width="0.9" stroke-dasharray="2.5 1.5"/><line x1="3965.6" y1="1870.7" x2="3969.1" y2="1870.7" stroke="#888" stroke-width="1"/><text x="3963.1" y="1876.9" font-size="17.2" text-anchor="end" fill="#1a1a1a" style="font-family:'Liberation Sans',sans-serif;">0.2</text><line x1="3969.1" y1="1825.1" x2="4437.3" y2="1825.1" stroke="#e4e4e4" stroke-width="0.9" stroke-dasharray="2.5 1.5"/><line x1="3965.6" y1="1825.1" x2="3969.1" y2="1825.1" stroke="#888" stroke-width="1"/><text x="3963.1" y="1831.3" font-size="17.2" text-anchor="end" fill="#1a1a1a" style="font-family:'Liberation Sans',sans-serif;">0.4</text><line x1="3969.1" y1="1779.5" x2="4437.3" y2="1779.5" stroke="#e4e4e4" stroke-width="0.9" stroke-dasharray="2.5 1.5"/><line x1="3965.6" y1="1779.5" x2="3969.1" y2="1779.5" stroke="#888" stroke-width="1"/><text x="3963.1" y="1785.6" font-size="17.2" text-anchor="end" fill="#1a1a1a" style="font-family:'Liberation Sans',sans-serif;">0.6</text><line x1="3969.1" y1="1733.8" x2="4437.3" y2="1733.8" stroke="#e4e4e4" stroke-width="0.9" stroke-dasharray="2.5 1.5"/><line x1="3965.6" y1="1733.8" x2="3969.1" y2="1733.8" stroke="#888" stroke-width="1"/><text x="3963.1" y="1740.0" font-size="17.2" text-anchor="end" fill="#1a1a1a" style="font-family:'Liberation Sans',sans-serif;">0.8</text><line x1="3969.1" y1="1688.2" x2="4437.3" y2="1688.2" stroke="#e4e4e4" stroke-width="0.9" stroke-dasharray="2.5 1.5"/><line x1="3965.6" y1="1688.2" x2="3969.1" y2="1688.2" stroke="#888" stroke-width="1"/><text x="3963.1" y="1694.4" font-size="17.2" text-anchor="end" fill="#1a1a1a" style="font-family:'Liberation Sans',sans-serif;">1.0</text><polyline points="4234.1,1865.5 4317.7,1851.8 4425.9,1847.3" fill="none" stroke="#9467bd" stroke-width="3.8" stroke-linejoin="round" stroke-linecap="round"/><circle cx="4234.1" cy="1865.5" r="5.8" fill="#9467bd"/><circle cx="4317.7" cy="1851.8" r="5.8" fill="#9467bd"/><circle cx="4425.9" cy="1847.3" r="5.8" fill="#9467bd"/><polyline points="4077.3,1842.3 4158.2,1856.4 4421.8,1861.4" fill="none" stroke="#ff7f0e" stroke-width="3.8" stroke-linejoin="round" stroke-linecap="round"/><circle cx="4077.3" cy="1842.3" r="5.8" fill="#ff7f0e"/><circle cx="4158.2" cy="1856.4" r="5.8" fill="#ff7f0e"/><circle cx="4421.8" cy="1861.4" r="5.8" fill="#ff7f0e"/><polyline points="4052.7,1819.5 4102.3,1756.4 4197.7,1737.7 4394.5,1701.4" fill="none" stroke="#2ca02c" stroke-width="3.8" stroke-linejoin="round" stroke-linecap="round"/><circle cx="4052.7" cy="1819.5" r="5.8" fill="#2ca02c"/><circle cx="4102.3" cy="1756.4" r="5.8" fill="#2ca02c"/><circle cx="4197.7" cy="1737.7" r="5.8" fill="#2ca02c"/><circle cx="4394.5" cy="1701.4" r="5.8" fill="#2ca02c"/><polyline points="4030.9,1851.8 4105.5,1733.2 4162.7,1724.1 4420.0,1742.3" fill="none" stroke="#1f77b4" stroke-width="3.8" stroke-linejoin="round" stroke-linecap="round"/><circle cx="4030.9" cy="1851.8" r="5.8" fill="#1f77b4"/><circle cx="4105.5" cy="1733.2" r="5.8" fill="#1f77b4"/><circle cx="4162.7" cy="1724.1" r="5.8" fill="#1f77b4"/><circle cx="4420.0" cy="1742.3" r="5.8" fill="#1f77b4"/><polyline points="3985.9,1851.8 4110.9,1710.5 4292.3,1687.7" fill="none" stroke="#d62728" stroke-width="3.8" stroke-linejoin="round" stroke-linecap="round"/><circle cx="3985.9" cy="1851.8" r="5.8" fill="#d62728"/><circle cx="4110.9" cy="1710.5" r="5.8" fill="#d62728"/><circle cx="4292.3" cy="1687.7" r="5.8" fill="#d62728"/><path d="M4004.9 1922.4 L4017.9 1922.4 L4011.4 1909.9 Z" fill="#8c564b"/><text x="4103.2" y="1667.3" font-size="24.5" text-anchor="start" textLength="207.7" lengthAdjust="spacingAndGlyphs" fill="#000" style="font-family:'Liberation Sans',sans-serif;">PointMaze Giant</text><text x="4047.7" y="1970.0" font-size="20" text-anchor="start" textLength="285.0" lengthAdjust="spacingAndGlyphs" fill="#000" style="font-family:'Liberation Sans',sans-serif;">Inference Wall Clock Time (s)</text><text transform="translate(3926.4 1877.7) rotate(-90)" font-size="20" text-anchor="start" textLength="150.0" lengthAdjust="spacingAndGlyphs" fill="#000" style="font-family:'Liberation Sans',sans-serif;">Success Rate</text><rect x="4215.8" y="2044.8" width="473.2" height="213.5" fill="#fff" stroke="#d9d9d9" stroke-width="1.2"/><line x1="4215.8" y1="2258.4" x2="4689.0" y2="2258.4" stroke="#e4e4e4" stroke-width="0.9" stroke-dasharray="2.5 1.5"/><text x="4210.6" y="2263.0" font-size="13" text-anchor="end" fill="#1a1a1a" style="font-family:'Liberation Sans',sans-serif;">0.0</text><line x1="4215.8" y1="2217.6" x2="4689.0" y2="2217.6" stroke="#e4e4e4" stroke-width="0.9" stroke-dasharray="2.5 1.5"/><text x="4210.6" y="2222.2" font-size="13" text-anchor="end" fill="#1a1a1a" style="font-family:'Liberation Sans',sans-serif;">0.2</text><line x1="4215.8" y1="2176.9" x2="4689.0" y2="2176.9" stroke="#e4e4e4" stroke-width="0.9" stroke-dasharray="2.5 1.5"/><text x="4210.6" y="2181.5" font-size="13" text-anchor="end" fill="#1a1a1a" style="font-family:'Liberation Sans',sans-serif;">0.4</text><line x1="4215.8" y1="2136.2" x2="4689.0" y2="2136.2" stroke="#e4e4e4" stroke-width="0.9" stroke-dasharray="2.5 1.5"/><text x="4210.6" y="2140.8" font-size="13" text-anchor="end" fill="#1a1a1a" style="font-family:'Liberation Sans',sans-serif;">0.6</text><line x1="4215.8" y1="2095.5" x2="4689.0" y2="2095.5" stroke="#e4e4e4" stroke-width="0.9" stroke-dasharray="2.5 1.5"/><text x="4210.6" y="2100.1" font-size="13" text-anchor="end" fill="#1a1a1a" style="font-family:'Liberation Sans',sans-serif;">0.8</text><line x1="4215.8" y1="2054.7" x2="4689.0" y2="2054.7" stroke="#e4e4e4" stroke-width="0.9" stroke-dasharray="2.5 1.5"/><text x="4210.6" y="2059.3" font-size="13" text-anchor="end" fill="#1a1a1a" style="font-family:'Liberation Sans',sans-serif;">1.0</text><rect x="4237.7" y="2127.0" width="25.5" height="131.4" fill="#ff7f0e"/><rect x="4262.9" y="2102.7" width="25.5" height="155.6" fill="#2ca02c"/><rect x="4288.1" y="2074.5" width="25.5" height="183.9" fill="#1f77b4"/><rect x="4313.3" y="2057.3" width="25.5" height="201.0" fill="#d62728"/><rect x="4347.2" y="2113.1" width="25.5" height="145.2" fill="#ff7f0e"/><rect x="4372.3" y="2092.4" width="25.5" height="166.0" fill="#2ca02c"/><rect x="4397.5" y="2066.0" width="25.5" height="192.3" fill="#1f77b4"/><rect x="4422.7" y="2055.4" width="25.5" height="202.9" fill="#d62728"/><rect x="4456.6" y="2107.0" width="25.5" height="151.4" fill="#ff7f0e"/><rect x="4481.8" y="2084.9" width="25.5" height="173.5" fill="#2ca02c"/><rect x="4507.0" y="2059.9" width="25.5" height="198.4" fill="#1f77b4"/><rect x="4532.2" y="2056.4" width="25.5" height="202.0" fill="#d62728"/><rect x="4566.1" y="2094.0" width="25.5" height="164.3" fill="#ff7f0e"/><rect x="4591.3" y="2077.3" width="25.5" height="181.0" fill="#2ca02c"/><rect x="4616.5" y="2055.9" width="25.5" height="202.4" fill="#1f77b4"/><rect x="4641.6" y="2055.2" width="25.5" height="203.2" fill="#d62728"/><text x="4240.0" y="2278.4" font-size="21" text-anchor="start" textLength="95.8" lengthAdjust="spacingAndGlyphs" fill="#000" style="font-family:'Liberation Sans',sans-serif;">Very Hard</text><text x="4374.9" y="2278.4" font-size="21" text-anchor="start" textLength="45.2" lengthAdjust="spacingAndGlyphs" fill="#000" style="font-family:'Liberation Sans',sans-serif;">Hard</text><text x="4468.4" y="2278.4" font-size="21" text-anchor="start" textLength="77.7" lengthAdjust="spacingAndGlyphs" fill="#000" style="font-family:'Liberation Sans',sans-serif;">Medium</text><text x="4594.3" y="2278.4" font-size="21" text-anchor="start" textLength="44.7" lengthAdjust="spacingAndGlyphs" fill="#000" style="font-family:'Liberation Sans',sans-serif;">Easy</text><text x="4377.8" y="2300.7" font-size="21" text-anchor="start" textLength="150.7" lengthAdjust="spacingAndGlyphs" fill="#000" style="font-family:'Liberation Sans',sans-serif;">Task Difficulties</text><text transform="translate(4180.5 2197.1) rotate(-90)" font-size="21" text-anchor="start" textLength="89.5" lengthAdjust="spacingAndGlyphs" fill="#000" style="font-family:'Liberation Sans',sans-serif;">Accuracy</text><rect x="4221.2" y="2026.0" width="32.3" height="10.6" fill="#ff7f0e"/><text x="4267.1" y="2036.6" font-size="14.5" text-anchor="start" textLength="34.1" lengthAdjust="spacingAndGlyphs" fill="#000" style="font-family:'Liberation Sans',sans-serif;">SMC</text><rect x="4334.7" y="2026.0" width="32.3" height="10.6" fill="#2ca02c"/><text x="4380.1" y="2036.6" font-size="14.5" text-anchor="start" textLength="20.0" lengthAdjust="spacingAndGlyphs" fill="#000" style="font-family:'Liberation Sans',sans-serif;">BS</text><rect x="4433.8" y="2026.0" width="32.3" height="10.6" fill="#1f77b4"/><text x="4479.0" y="2036.6" font-size="14.5" text-anchor="start" textLength="28.7" lengthAdjust="spacingAndGlyphs" fill="#000" style="font-family:'Liberation Sans',sans-serif;">SoP</text><rect x="4541.4" y="2026.0" width="32.3" height="10.6" fill="#d62728"/><text x="4587.3" y="2036.6" font-size="14.5" text-anchor="start" textLength="95.3" lengthAdjust="spacingAndGlyphs" fill="#000" style="font-family:'Liberation Sans',sans-serif;">ABCD(Ours)</text><rect x="3247.9" y="2398.9" width="447.4" height="222.5" fill="#fff" stroke="#d9d9d9" stroke-width="1.2"/><line x1="3268.3" y1="2398.9" x2="3268.3" y2="2621.4" stroke="#e2e2e2" stroke-width="0.9" stroke-dasharray="2.5 1.5"/><text x="3268.3" y="2642.4" font-size="18.5" text-anchor="middle" fill="#1a1a1a" style="font-family:'Liberation Sans',sans-serif;">0</text><line x1="3306.0" y1="2398.9" x2="3306.0" y2="2621.4" stroke="#e2e2e2" stroke-width="0.9" stroke-dasharray="2.5 1.5"/><text x="3306.0" y="2642.4" font-size="18.5" text-anchor="middle" fill="#1a1a1a" style="font-family:'Liberation Sans',sans-serif;">5</text><line x1="3343.6" y1="2398.9" x2="3343.6" y2="2621.4" stroke="#e2e2e2" stroke-width="0.9" stroke-dasharray="2.5 1.5"/><text x="3343.6" y="2642.4" font-size="18.5" text-anchor="middle" fill="#1a1a1a" style="font-family:'Liberation Sans',sans-serif;">10</text><line x1="3381.3" y1="2398.9" x2="3381.3" y2="2621.4" stroke="#e2e2e2" stroke-width="0.9" stroke-dasharray="2.5 1.5"/><text x="3381.3" y="2642.4" font-size="18.5" text-anchor="middle" fill="#1a1a1a" style="font-family:'Liberation Sans',sans-serif;">15</text><line x1="3419.0" y1="2398.9" x2="3419.0" y2="2621.4" stroke="#e2e2e2" stroke-width="0.9" stroke-dasharray="2.5 1.5"/><text x="3419.0" y="2642.4" font-size="18.5" text-anchor="middle" fill="#1a1a1a" style="font-family:'Liberation Sans',sans-serif;">20</text><line x1="3456.7" y1="2398.9" x2="3456.7" y2="2621.4" stroke="#e2e2e2" stroke-width="0.9" stroke-dasharray="2.5 1.5"/><text x="3456.7" y="2642.4" font-size="18.5" text-anchor="middle" fill="#1a1a1a" style="font-family:'Liberation Sans',sans-serif;">25</text><line x1="3494.3" y1="2398.9" x2="3494.3" y2="2621.4" stroke="#e2e2e2" stroke-width="0.9" stroke-dasharray="2.5 1.5"/><text x="3494.3" y="2642.4" font-size="18.5" text-anchor="middle" fill="#1a1a1a" style="font-family:'Liberation Sans',sans-serif;">30</text><line x1="3532.0" y1="2398.9" x2="3532.0" y2="2621.4" stroke="#e2e2e2" stroke-width="0.9" stroke-dasharray="2.5 1.5"/><text x="3532.0" y="2642.4" font-size="18.5" text-anchor="middle" fill="#1a1a1a" style="font-family:'Liberation Sans',sans-serif;">35</text><line x1="3569.7" y1="2398.9" x2="3569.7" y2="2621.4" stroke="#e2e2e2" stroke-width="0.9" stroke-dasharray="2.5 1.5"/><text x="3569.7" y="2642.4" font-size="18.5" text-anchor="middle" fill="#1a1a1a" style="font-family:'Liberation Sans',sans-serif;">40</text><line x1="3607.3" y1="2398.9" x2="3607.3" y2="2621.4" stroke="#e2e2e2" stroke-width="0.9" stroke-dasharray="2.5 1.5"/><text x="3607.3" y="2642.4" font-size="18.5" text-anchor="middle" fill="#1a1a1a" style="font-family:'Liberation Sans',sans-serif;">45</text><line x1="3645.0" y1="2398.9" x2="3645.0" y2="2621.4" stroke="#e2e2e2" stroke-width="0.9" stroke-dasharray="2.5 1.5"/><text x="3645.0" y="2642.4" font-size="18.5" text-anchor="middle" fill="#1a1a1a" style="font-family:'Liberation Sans',sans-serif;">50</text><line x1="3682.7" y1="2398.9" x2="3682.7" y2="2621.4" stroke="#e2e2e2" stroke-width="0.9" stroke-dasharray="2.5 1.5"/><text x="3682.7" y="2642.4" font-size="18.5" text-anchor="middle" fill="#1a1a1a" style="font-family:'Liberation Sans',sans-serif;">55</text><line x1="3247.9" y1="2611.2" x2="3695.3" y2="2611.2" stroke="#e2e2e2" stroke-width="0.9" stroke-dasharray="2.5 1.5"/><line x1="3244.9" y1="2611.2" x2="3247.9" y2="2611.2" stroke="#888" stroke-width="1"/><text x="3242.9" y="2617.7" font-size="18.5" text-anchor="end" fill="#1a1a1a" style="font-family:'Liberation Sans',sans-serif;">0</text><line x1="3247.9" y1="2591.0" x2="3695.3" y2="2591.0" stroke="#e2e2e2" stroke-width="0.9" stroke-dasharray="2.5 1.5"/><line x1="3244.9" y1="2591.0" x2="3247.9" y2="2591.0" stroke="#888" stroke-width="1"/><text x="3242.9" y="2597.5" font-size="18.5" text-anchor="end" fill="#1a1a1a" style="font-family:'Liberation Sans',sans-serif;">1</text><line x1="3247.9" y1="2570.8" x2="3695.3" y2="2570.8" stroke="#e2e2e2" stroke-width="0.9" stroke-dasharray="2.5 1.5"/><line x1="3244.9" y1="2570.8" x2="3247.9" y2="2570.8" stroke="#888" stroke-width="1"/><text x="3242.9" y="2577.3" font-size="18.5" text-anchor="end" fill="#1a1a1a" style="font-family:'Liberation Sans',sans-serif;">2</text><line x1="3247.9" y1="2550.7" x2="3695.3" y2="2550.7" stroke="#e2e2e2" stroke-width="0.9" stroke-dasharray="2.5 1.5"/><line x1="3244.9" y1="2550.7" x2="3247.9" y2="2550.7" stroke="#888" stroke-width="1"/><text x="3242.9" y="2557.2" font-size="18.5" text-anchor="end" fill="#1a1a1a" style="font-family:'Liberation Sans',sans-serif;">3</text><line x1="3247.9" y1="2530.5" x2="3695.3" y2="2530.5" stroke="#e2e2e2" stroke-width="0.9" stroke-dasharray="2.5 1.5"/><line x1="3244.9" y1="2530.5" x2="3247.9" y2="2530.5" stroke="#888" stroke-width="1"/><text x="3242.9" y="2537.0" font-size="18.5" text-anchor="end" fill="#1a1a1a" style="font-family:'Liberation Sans',sans-serif;">4</text><line x1="3247.9" y1="2510.3" x2="3695.3" y2="2510.3" stroke="#e2e2e2" stroke-width="0.9" stroke-dasharray="2.5 1.5"/><line x1="3244.9" y1="2510.3" x2="3247.9" y2="2510.3" stroke="#888" stroke-width="1"/><text x="3242.9" y="2516.8" font-size="18.5" text-anchor="end" fill="#1a1a1a" style="font-family:'Liberation Sans',sans-serif;">5</text><line x1="3247.9" y1="2490.1" x2="3695.3" y2="2490.1" stroke="#e2e2e2" stroke-width="0.9" stroke-dasharray="2.5 1.5"/><line x1="3244.9" y1="2490.1" x2="3247.9" y2="2490.1" stroke="#888" stroke-width="1"/><text x="3242.9" y="2496.6" font-size="18.5" text-anchor="end" fill="#1a1a1a" style="font-family:'Liberation Sans',sans-serif;">6</text><line x1="3247.9" y1="2469.9" x2="3695.3" y2="2469.9" stroke="#e2e2e2" stroke-width="0.9" stroke-dasharray="2.5 1.5"/><line x1="3244.9" y1="2469.9" x2="3247.9" y2="2469.9" stroke="#888" stroke-width="1"/><text x="3242.9" y="2476.4" font-size="18.5" text-anchor="end" fill="#1a1a1a" style="font-family:'Liberation Sans',sans-serif;">7</text><line x1="3247.9" y1="2449.8" x2="3695.3" y2="2449.8" stroke="#e2e2e2" stroke-width="0.9" stroke-dasharray="2.5 1.5"/><line x1="3244.9" y1="2449.8" x2="3247.9" y2="2449.8" stroke="#888" stroke-width="1"/><text x="3242.9" y="2456.3" font-size="18.5" text-anchor="end" fill="#1a1a1a" style="font-family:'Liberation Sans',sans-serif;">8</text><line x1="3247.9" y1="2429.6" x2="3695.3" y2="2429.6" stroke="#e2e2e2" stroke-width="0.9" stroke-dasharray="2.5 1.5"/><line x1="3244.9" y1="2429.6" x2="3247.9" y2="2429.6" stroke="#888" stroke-width="1"/><text x="3242.9" y="2436.1" font-size="18.5" text-anchor="end" fill="#1a1a1a" style="font-family:'Liberation Sans',sans-serif;">9</text><line x1="3247.9" y1="2409.4" x2="3695.3" y2="2409.4" stroke="#e2e2e2" stroke-width="0.9" stroke-dasharray="2.5 1.5"/><line x1="3244.9" y1="2409.4" x2="3247.9" y2="2409.4" stroke="#888" stroke-width="1"/><text x="3242.9" y="2415.9" font-size="18.5" text-anchor="end" fill="#1a1a1a" style="font-family:'Liberation Sans',sans-serif;">10</text><polyline points="3268.3,2570.8 3275.8,2570.8 3283.4,2570.8 3290.9,2510.3 3298.4,2510.3 3306.0,2550.7 3313.5,2550.7 3321.0,2570.8 3328.6,2510.3 3336.1,2490.1 3343.6,2530.5 3351.2,2510.3 3358.7,2530.5 3366.2,2530.5 3373.8,2429.6 3381.3,2530.5 3388.8,2469.9 3396.4,2469.9 3403.9,2449.8 3411.4,2530.5 3419.0,2530.5 3426.5,2449.8 3434.0,2490.1 3441.6,2469.9 3449.1,2409.4 3456.7,2429.6 3464.2,2449.8 3471.7,2490.1 3479.3,2469.9 3486.8,2409.4 3494.3,2429.6 3501.9,2409.4 3509.4,2449.8 3516.9,2429.6 3524.5,2429.6 3532.0,2469.9 3539.5,2449.8 3547.1,2409.4 3554.6,2409.4 3562.1,2409.4 3569.7,2409.4 3577.2,2409.4 3584.7,2409.4 3592.3,2409.4 3599.8,2409.4 3607.3,2409.4 3614.9,2429.6 3622.4,2449.8 3629.9,2429.6 3637.5,2469.9 3645.0,2469.9 3652.5,2409.4 3660.1,2429.6 3667.6,2409.4 3675.2,2449.8" fill="none" stroke="#1f77b4" stroke-width="1.7" stroke-linejoin="round"/><g fill="#1f77b4"><circle cx="3268.3" cy="2570.8" r="3.3"/><circle cx="3275.8" cy="2570.8" r="3.3"/><circle cx="3283.4" cy="2570.8" r="3.3"/><circle cx="3290.9" cy="2510.3" r="3.3"/><circle cx="3298.4" cy="2510.3" r="3.3"/><circle cx="3306.0" cy="2550.7" r="3.3"/><circle cx="3313.5" cy="2550.7" r="3.3"/><circle cx="3321.0" cy="2570.8" r="3.3"/><circle cx="3328.6" cy="2510.3" r="3.3"/><circle cx="3336.1" cy="2490.1" r="3.3"/><circle cx="3343.6" cy="2530.5" r="3.3"/><circle cx="3351.2" cy="2510.3" r="3.3"/><circle cx="3358.7" cy="2530.5" r="3.3"/><circle cx="3366.2" cy="2530.5" r="3.3"/><circle cx="3373.8" cy="2429.6" r="3.3"/><circle cx="3381.3" cy="2530.5" r="3.3"/><circle cx="3388.8" cy="2469.9" r="3.3"/><circle cx="3396.4" cy="2469.9" r="3.3"/><circle cx="3403.9" cy="2449.8" r="3.3"/><circle cx="3411.4" cy="2530.5" r="3.3"/><circle cx="3419.0" cy="2530.5" r="3.3"/><circle cx="3426.5" cy="2449.8" r="3.3"/><circle cx="3434.0" cy="2490.1" r="3.3"/><circle cx="3441.6" cy="2469.9" r="3.3"/><circle cx="3449.1" cy="2409.4" r="3.3"/><circle cx="3456.7" cy="2429.6" r="3.3"/><circle cx="3464.2" cy="2449.8" r="3.3"/><circle cx="3471.7" cy="2490.1" r="3.3"/><circle cx="3479.3" cy="2469.9" r="3.3"/><circle cx="3486.8" cy="2409.4" r="3.3"/><circle cx="3494.3" cy="2429.6" r="3.3"/><circle cx="3501.9" cy="2409.4" r="3.3"/><circle cx="3509.4" cy="2449.8" r="3.3"/><circle cx="3516.9" cy="2429.6" r="3.3"/><circle cx="3524.5" cy="2429.6" r="3.3"/><circle cx="3532.0" cy="2469.9" r="3.3"/><circle cx="3539.5" cy="2449.8" r="3.3"/><circle cx="3547.1" cy="2409.4" r="3.3"/><circle cx="3554.6" cy="2409.4" r="3.3"/><circle cx="3562.1" cy="2409.4" r="3.3"/><circle cx="3569.7" cy="2409.4" r="3.3"/><circle cx="3577.2" cy="2409.4" r="3.3"/><circle cx="3584.7" cy="2409.4" r="3.3"/><circle cx="3592.3" cy="2409.4" r="3.3"/><circle cx="3599.8" cy="2409.4" r="3.3"/><circle cx="3607.3" cy="2409.4" r="3.3"/><circle cx="3614.9" cy="2429.6" r="3.3"/><circle cx="3622.4" cy="2449.8" r="3.3"/><circle cx="3629.9" cy="2429.6" r="3.3"/><circle cx="3637.5" cy="2469.9" r="3.3"/><circle cx="3645.0" cy="2469.9" r="3.3"/><circle cx="3652.5" cy="2409.4" r="3.3"/><circle cx="3660.1" cy="2429.6" r="3.3"/><circle cx="3667.6" cy="2409.4" r="3.3"/><circle cx="3675.2" cy="2449.8" r="3.3"/></g><polyline points="3268.3,2550.7 3275.8,2570.8 3283.4,2530.5 3290.9,2550.7 3298.4,2550.7 3306.0,2550.7 3313.5,2530.5 3321.0,2510.3 3328.6,2570.8 3336.1,2550.7 3343.6,2530.5 3351.2,2530.5 3358.7,2490.1 3366.2,2530.5 3373.8,2611.2 3381.3,2570.8 3388.8,2550.7 3396.4,2570.8 3403.9,2591.0 3411.4,2530.5 3419.0,2510.3 3426.5,2570.8 3434.0,2530.5 3441.6,2550.7 3449.1,2611.2 3456.7,2611.2 3464.2,2591.0 3471.7,2550.7 3479.3,2550.7 3486.8,2611.2 3494.3,2611.2 3501.9,2611.2 3509.4,2611.2 3516.9,2591.0 3524.5,2591.0 3532.0,2550.7 3539.5,2570.8 3547.1,2611.2 3554.6,2611.2 3562.1,2611.2 3569.7,2611.2 3577.2,2611.2 3584.7,2611.2 3592.3,2611.2 3599.8,2611.2 3607.3,2611.2 3614.9,2611.2 3622.4,2591.0 3629.9,2591.0 3637.5,2550.7 3645.0,2550.7 3652.5,2611.2 3660.1,2611.2 3667.6,2611.2 3675.2,2611.2" fill="none" stroke="#ff7f0e" stroke-width="1.7" stroke-linejoin="round"/><g fill="#ff7f0e"><circle cx="3268.3" cy="2550.7" r="3.3"/><circle cx="3275.8" cy="2570.8" r="3.3"/><circle cx="3283.4" cy="2530.5" r="3.3"/><circle cx="3290.9" cy="2550.7" r="3.3"/><circle cx="3298.4" cy="2550.7" r="3.3"/><circle cx="3306.0" cy="2550.7" r="3.3"/><circle cx="3313.5" cy="2530.5" r="3.3"/><circle cx="3321.0" cy="2510.3" r="3.3"/><circle cx="3328.6" cy="2570.8" r="3.3"/><circle cx="3336.1" cy="2550.7" r="3.3"/><circle cx="3343.6" cy="2530.5" r="3.3"/><circle cx="3351.2" cy="2530.5" r="3.3"/><circle cx="3358.7" cy="2490.1" r="3.3"/><circle cx="3366.2" cy="2530.5" r="3.3"/><circle cx="3373.8" cy="2611.2" r="3.3"/><circle cx="3381.3" cy="2570.8" r="3.3"/><circle cx="3388.8" cy="2550.7" r="3.3"/><circle cx="3396.4" cy="2570.8" r="3.3"/><circle cx="3403.9" cy="2591.0" r="3.3"/><circle cx="3411.4" cy="2530.5" r="3.3"/><circle cx="3419.0" cy="2510.3" r="3.3"/><circle cx="3426.5" cy="2570.8" r="3.3"/><circle cx="3434.0" cy="2530.5" r="3.3"/><circle cx="3441.6" cy="2550.7" r="3.3"/><circle cx="3449.1" cy="2611.2" r="3.3"/><circle cx="3456.7" cy="2611.2" r="3.3"/><circle cx="3464.2" cy="2591.0" r="3.3"/><circle cx="3471.7" cy="2550.7" r="3.3"/><circle cx="3479.3" cy="2550.7" r="3.3"/><circle cx="3486.8" cy="2611.2" r="3.3"/><circle cx="3494.3" cy="2611.2" r="3.3"/><circle cx="3501.9" cy="2611.2" r="3.3"/><circle cx="3509.4" cy="2611.2" r="3.3"/><circle cx="3516.9" cy="2591.0" r="3.3"/><circle cx="3524.5" cy="2591.0" r="3.3"/><circle cx="3532.0" cy="2550.7" r="3.3"/><circle cx="3539.5" cy="2570.8" r="3.3"/><circle cx="3547.1" cy="2611.2" r="3.3"/><circle cx="3554.6" cy="2611.2" r="3.3"/><circle cx="3562.1" cy="2611.2" r="3.3"/><circle cx="3569.7" cy="2611.2" r="3.3"/><circle cx="3577.2" cy="2611.2" r="3.3"/><circle cx="3584.7" cy="2611.2" r="3.3"/><circle cx="3592.3" cy="2611.2" r="3.3"/><circle cx="3599.8" cy="2611.2" r="3.3"/><circle cx="3607.3" cy="2611.2" r="3.3"/><circle cx="3614.9" cy="2611.2" r="3.3"/><circle cx="3622.4" cy="2591.0" r="3.3"/><circle cx="3629.9" cy="2591.0" r="3.3"/><circle cx="3637.5" cy="2550.7" r="3.3"/><circle cx="3645.0" cy="2550.7" r="3.3"/><circle cx="3652.5" cy="2611.2" r="3.3"/><circle cx="3660.1" cy="2611.2" r="3.3"/><circle cx="3667.6" cy="2611.2" r="3.3"/><circle cx="3675.2" cy="2611.2" r="3.3"/></g><polyline points="3268.3,2550.7 3275.8,2550.7 3283.4,2530.5 3290.9,2591.0 3298.4,2591.0 3306.0,2570.8 3313.5,2550.7 3321.0,2570.8 3328.6,2550.7 3336.1,2611.2 3343.6,2570.8 3351.2,2591.0 3358.7,2611.2 3366.2,2570.8 3373.8,2591.0 3381.3,2530.5 3388.8,2611.2 3396.4,2591.0 3403.9,2591.0 3411.4,2570.8 3419.0,2591.0 3426.5,2611.2 3434.0,2611.2 3441.6,2611.2 3449.1,2611.2 3456.7,2591.0 3464.2,2591.0 3471.7,2591.0 3479.3,2611.2 3486.8,2611.2 3494.3,2591.0 3501.9,2611.2 3509.4,2591.0 3516.9,2611.2 3524.5,2611.2 3532.0,2611.2 3539.5,2611.2 3547.1,2611.2 3554.6,2611.2 3562.1,2611.2 3569.7,2611.2 3577.2,2611.2 3584.7,2611.2 3592.3,2611.2 3599.8,2611.2 3607.3,2611.2 3614.9,2591.0 3622.4,2591.0 3629.9,2611.2 3637.5,2611.2 3645.0,2611.2 3652.5,2611.2 3660.1,2591.0 3667.6,2611.2 3675.2,2591.0" fill="none" stroke="#2ca02c" stroke-width="1.7" stroke-linejoin="round"/><g fill="#2ca02c"><circle cx="3268.3" cy="2550.7" r="3.3"/><circle cx="3275.8" cy="2550.7" r="3.3"/><circle cx="3283.4" cy="2530.5" r="3.3"/><circle cx="3290.9" cy="2591.0" r="3.3"/><circle cx="3298.4" cy="2591.0" r="3.3"/><circle cx="3306.0" cy="2570.8" r="3.3"/><circle cx="3313.5" cy="2550.7" r="3.3"/><circle cx="3321.0" cy="2570.8" r="3.3"/><circle cx="3328.6" cy="2550.7" r="3.3"/><circle cx="3336.1" cy="2611.2" r="3.3"/><circle cx="3343.6" cy="2570.8" r="3.3"/><circle cx="3351.2" cy="2591.0" r="3.3"/><circle cx="3358.7" cy="2611.2" r="3.3"/><circle cx="3366.2" cy="2570.8" r="3.3"/><circle cx="3373.8" cy="2591.0" r="3.3"/><circle cx="3381.3" cy="2530.5" r="3.3"/><circle cx="3388.8" cy="2611.2" r="3.3"/><circle cx="3396.4" cy="2591.0" r="3.3"/><circle cx="3403.9" cy="2591.0" r="3.3"/><circle cx="3411.4" cy="2570.8" r="3.3"/><circle cx="3419.0" cy="2591.0" r="3.3"/><circle cx="3426.5" cy="2611.2" r="3.3"/><circle cx="3434.0" cy="2611.2" r="3.3"/><circle cx="3441.6" cy="2611.2" r="3.3"/><circle cx="3449.1" cy="2611.2" r="3.3"/><circle cx="3456.7" cy="2591.0" r="3.3"/><circle cx="3464.2" cy="2591.0" r="3.3"/><circle cx="3471.7" cy="2591.0" r="3.3"/><circle cx="3479.3" cy="2611.2" r="3.3"/><circle cx="3486.8" cy="2611.2" r="3.3"/><circle cx="3494.3" cy="2591.0" r="3.3"/><circle cx="3501.9" cy="2611.2" r="3.3"/><circle cx="3509.4" cy="2591.0" r="3.3"/><circle cx="3516.9" cy="2611.2" r="3.3"/><circle cx="3524.5" cy="2611.2" r="3.3"/><circle cx="3532.0" cy="2611.2" r="3.3"/><circle cx="3539.5" cy="2611.2" r="3.3"/><circle cx="3547.1" cy="2611.2" r="3.3"/><circle cx="3554.6" cy="2611.2" r="3.3"/><circle cx="3562.1" cy="2611.2" r="3.3"/><circle cx="3569.7" cy="2611.2" r="3.3"/><circle cx="3577.2" cy="2611.2" r="3.3"/><circle cx="3584.7" cy="2611.2" r="3.3"/><circle cx="3592.3" cy="2611.2" r="3.3"/><circle cx="3599.8" cy="2611.2" r="3.3"/><circle cx="3607.3" cy="2611.2" r="3.3"/><circle cx="3614.9" cy="2591.0" r="3.3"/><circle cx="3622.4" cy="2591.0" r="3.3"/><circle cx="3629.9" cy="2611.2" r="3.3"/><circle cx="3637.5" cy="2611.2" r="3.3"/><circle cx="3645.0" cy="2611.2" r="3.3"/><circle cx="3652.5" cy="2611.2" r="3.3"/><circle cx="3660.1" cy="2591.0" r="3.3"/><circle cx="3667.6" cy="2611.2" r="3.3"/><circle cx="3675.2" cy="2591.0" r="3.3"/></g><polyline points="3268.3,2570.8 3275.8,2570.8 3283.4,2611.2 3290.9,2591.0 3298.4,2591.0 3306.0,2591.0 3313.5,2611.2 3321.0,2591.0 3328.6,2611.2 3336.1,2591.0 3343.6,2611.2 3351.2,2611.2 3358.7,2611.2 3366.2,2611.2 3373.8,2611.2 3381.3,2611.2 3388.8,2611.2 3396.4,2611.2 3403.9,2611.2 3411.4,2611.2 3419.0,2611.2 3426.5,2611.2 3434.0,2611.2 3441.6,2611.2 3449.1,2611.2 3456.7,2611.2 3464.2,2611.2 3471.7,2611.2 3479.3,2611.2 3486.8,2611.2 3494.3,2611.2 3501.9,2611.2 3509.4,2611.2 3516.9,2611.2 3524.5,2611.2 3532.0,2611.2 3539.5,2611.2 3547.1,2611.2 3554.6,2611.2 3562.1,2611.2 3569.7,2611.2 3577.2,2611.2 3584.7,2611.2 3592.3,2611.2 3599.8,2611.2 3607.3,2611.2 3614.9,2611.2 3622.4,2611.2 3629.9,2611.2 3637.5,2611.2 3645.0,2611.2 3652.5,2611.2 3660.1,2611.2 3667.6,2611.2 3675.2,2611.2" fill="none" stroke="#d62728" stroke-width="1.7" stroke-linejoin="round"/><g fill="#d62728"><circle cx="3268.3" cy="2570.8" r="3.3"/><circle cx="3275.8" cy="2570.8" r="3.3"/><circle cx="3283.4" cy="2611.2" r="3.3"/><circle cx="3290.9" cy="2591.0" r="3.3"/><circle cx="3298.4" cy="2591.0" r="3.3"/><circle cx="3306.0" cy="2591.0" r="3.3"/><circle cx="3313.5" cy="2611.2" r="3.3"/><circle cx="3321.0" cy="2591.0" r="3.3"/><circle cx="3328.6" cy="2611.2" r="3.3"/><circle cx="3336.1" cy="2591.0" r="3.3"/><circle cx="3343.6" cy="2611.2" r="3.3"/><circle cx="3351.2" cy="2611.2" r="3.3"/><circle cx="3358.7" cy="2611.2" r="3.3"/><circle cx="3366.2" cy="2611.2" r="3.3"/><circle cx="3373.8" cy="2611.2" r="3.3"/><circle cx="3381.3" cy="2611.2" r="3.3"/><circle cx="3388.8" cy="2611.2" r="3.3"/><circle cx="3396.4" cy="2611.2" r="3.3"/><circle cx="3403.9" cy="2611.2" r="3.3"/><circle cx="3411.4" cy="2611.2" r="3.3"/><circle cx="3419.0" cy="2611.2" r="3.3"/><circle cx="3426.5" cy="2611.2" r="3.3"/><circle cx="3434.0" cy="2611.2" r="3.3"/><circle cx="3441.6" cy="2611.2" r="3.3"/><circle cx="3449.1" cy="2611.2" r="3.3"/><circle cx="3456.7" cy="2611.2" r="3.3"/><circle cx="3464.2" cy="2611.2" r="3.3"/><circle cx="3471.7" cy="2611.2" r="3.3"/><circle cx="3479.3" cy="2611.2" r="3.3"/><circle cx="3486.8" cy="2611.2" r="3.3"/><circle cx="3494.3" cy="2611.2" r="3.3"/><circle cx="3501.9" cy="2611.2" r="3.3"/><circle cx="3509.4" cy="2611.2" r="3.3"/><circle cx="3516.9" cy="2611.2" r="3.3"/><circle cx="3524.5" cy="2611.2" r="3.3"/><circle cx="3532.0" cy="2611.2" r="3.3"/><circle cx="3539.5" cy="2611.2" r="3.3"/><circle cx="3547.1" cy="2611.2" r="3.3"/><circle cx="3554.6" cy="2611.2" r="3.3"/><circle cx="3562.1" cy="2611.2" r="3.3"/><circle cx="3569.7" cy="2611.2" r="3.3"/><circle cx="3577.2" cy="2611.2" r="3.3"/><circle cx="3584.7" cy="2611.2" r="3.3"/><circle cx="3592.3" cy="2611.2" r="3.3"/><circle cx="3599.8" cy="2611.2" r="3.3"/><circle cx="3607.3" cy="2611.2" r="3.3"/><circle cx="3614.9" cy="2611.2" r="3.3"/><circle cx="3622.4" cy="2611.2" r="3.3"/><circle cx="3629.9" cy="2611.2" r="3.3"/><circle cx="3637.5" cy="2611.2" r="3.3"/><circle cx="3645.0" cy="2611.2" r="3.3"/><circle cx="3652.5" cy="2611.2" r="3.3"/><circle cx="3660.1" cy="2611.2" r="3.3"/><circle cx="3667.6" cy="2611.2" r="3.3"/><circle cx="3675.2" cy="2611.2" r="3.3"/></g><polyline points="3268.3,2611.2 3275.8,2591.0 3283.4,2611.2 3290.9,2611.2 3298.4,2611.2 3306.0,2591.0 3313.5,2611.2 3321.0,2611.2 3328.6,2611.2 3336.1,2611.2 3343.6,2611.2 3351.2,2611.2 3358.7,2611.2 3366.2,2611.2 3373.8,2611.2 3381.3,2611.2 3388.8,2611.2 3396.4,2611.2 3403.9,2611.2 3411.4,2611.2 3419.0,2611.2 3426.5,2611.2 3434.0,2611.2 3441.6,2611.2 3449.1,2611.2 3456.7,2611.2 3464.2,2611.2 3471.7,2611.2 3479.3,2611.2 3486.8,2611.2 3494.3,2611.2 3501.9,2611.2 3509.4,2611.2 3516.9,2611.2 3524.5,2611.2 3532.0,2611.2 3539.5,2611.2 3547.1,2611.2 3554.6,2611.2 3562.1,2611.2 3569.7,2611.2 3577.2,2611.2 3584.7,2611.2 3592.3,2611.2 3599.8,2611.2 3607.3,2611.2 3614.9,2611.2 3622.4,2611.2 3629.9,2611.2 3637.5,2611.2 3645.0,2611.2 3652.5,2611.2 3660.1,2611.2 3667.6,2611.2 3675.2,2611.2" fill="none" stroke="#9467bd" stroke-width="1.7" stroke-linejoin="round"/><g fill="#9467bd"><circle cx="3268.3" cy="2611.2" r="3.3"/><circle cx="3275.8" cy="2591.0" r="3.3"/><circle cx="3283.4" cy="2611.2" r="3.3"/><circle cx="3290.9" cy="2611.2" r="3.3"/><circle cx="3298.4" cy="2611.2" r="3.3"/><circle cx="3306.0" cy="2591.0" r="3.3"/><circle cx="3313.5" cy="2611.2" r="3.3"/><circle cx="3321.0" cy="2611.2" r="3.3"/><circle cx="3328.6" cy="2611.2" r="3.3"/><circle cx="3336.1" cy="2611.2" r="3.3"/><circle cx="3343.6" cy="2611.2" r="3.3"/><circle cx="3351.2" cy="2611.2" r="3.3"/><circle cx="3358.7" cy="2611.2" r="3.3"/><circle cx="3366.2" cy="2611.2" r="3.3"/><circle cx="3373.8" cy="2611.2" r="3.3"/><circle cx="3381.3" cy="2611.2" r="3.3"/><circle cx="3388.8" cy="2611.2" r="3.3"/><circle cx="3396.4" cy="2611.2" r="3.3"/><circle cx="3403.9" cy="2611.2" r="3.3"/><circle cx="3411.4" cy="2611.2" r="3.3"/><circle cx="3419.0" cy="2611.2" r="3.3"/><circle cx="3426.5" cy="2611.2" r="3.3"/><circle cx="3434.0" cy="2611.2" r="3.3"/><circle cx="3441.6" cy="2611.2" r="3.3"/><circle cx="3449.1" cy="2611.2" r="3.3"/><circle cx="3456.7" cy="2611.2" r="3.3"/><circle cx="3464.2" cy="2611.2" r="3.3"/><circle cx="3471.7" cy="2611.2" r="3.3"/><circle cx="3479.3" cy="2611.2" r="3.3"/><circle cx="3486.8" cy="2611.2" r="3.3"/><circle cx="3494.3" cy="2611.2" r="3.3"/><circle cx="3501.9" cy="2611.2" r="3.3"/><circle cx="3509.4" cy="2611.2" r="3.3"/><circle cx="3516.9" cy="2611.2" r="3.3"/><circle cx="3524.5" cy="2611.2" r="3.3"/><circle cx="3532.0" cy="2611.2" r="3.3"/><circle cx="3539.5" cy="2611.2" r="3.3"/><circle cx="3547.1" cy="2611.2" r="3.3"/><circle cx="3554.6" cy="2611.2" r="3.3"/><circle cx="3562.1" cy="2611.2" r="3.3"/><circle cx="3569.7" cy="2611.2" r="3.3"/><circle cx="3577.2" cy="2611.2" r="3.3"/><circle cx="3584.7" cy="2611.2" r="3.3"/><circle cx="3592.3" cy="2611.2" r="3.3"/><circle cx="3599.8" cy="2611.2" r="3.3"/><circle cx="3607.3" cy="2611.2" r="3.3"/><circle cx="3614.9" cy="2611.2" r="3.3"/><circle cx="3622.4" cy="2611.2" r="3.3"/><circle cx="3629.9" cy="2611.2" r="3.3"/><circle cx="3637.5" cy="2611.2" r="3.3"/><circle cx="3645.0" cy="2611.2" r="3.3"/><circle cx="3652.5" cy="2611.2" r="3.3"/><circle cx="3660.1" cy="2611.2" r="3.3"/><circle cx="3667.6" cy="2611.2" r="3.3"/><circle cx="3675.2" cy="2611.2" r="3.3"/></g><text x="3393.8" y="2392.6" font-size="25.5" text-anchor="start" textLength="156.2" lengthAdjust="spacingAndGlyphs" fill="#000" style="font-family:'Liberation Sans',sans-serif;">17 Provided</text><text x="3442.2" y="2659.8" font-size="25" text-anchor="start" textLength="60.7" lengthAdjust="spacingAndGlyphs" fill="#000" style="font-family:'Liberation Sans',sans-serif;">Cycle</text><text transform="translate(3214.5 2596.8) rotate(-90)" font-size="22.5" text-anchor="start" textLength="173.3" lengthAdjust="spacingAndGlyphs" fill="#000" style="font-family:'Liberation Sans',sans-serif;">Count of Particles</text><rect x="3701.6" y="2398.0" width="450.5" height="222.8" fill="#fff" stroke="#d9d9d9" stroke-width="1.2"/><line x1="3722.6" y1="2398.0" x2="3722.6" y2="2620.8" stroke="#e2e2e2" stroke-width="0.9" stroke-dasharray="2.5 1.5"/><text x="3722.6" y="2641.8" font-size="18.5" text-anchor="middle" fill="#1a1a1a" style="font-family:'Liberation Sans',sans-serif;">0</text><line x1="3760.5" y1="2398.0" x2="3760.5" y2="2620.8" stroke="#e2e2e2" stroke-width="0.9" stroke-dasharray="2.5 1.5"/><text x="3760.5" y="2641.8" font-size="18.5" text-anchor="middle" fill="#1a1a1a" style="font-family:'Liberation Sans',sans-serif;">5</text><line x1="3798.4" y1="2398.0" x2="3798.4" y2="2620.8" stroke="#e2e2e2" stroke-width="0.9" stroke-dasharray="2.5 1.5"/><text x="3798.4" y="2641.8" font-size="18.5" text-anchor="middle" fill="#1a1a1a" style="font-family:'Liberation Sans',sans-serif;">10</text><line x1="3836.3" y1="2398.0" x2="3836.3" y2="2620.8" stroke="#e2e2e2" stroke-width="0.9" stroke-dasharray="2.5 1.5"/><text x="3836.3" y="2641.8" font-size="18.5" text-anchor="middle" fill="#1a1a1a" style="font-family:'Liberation Sans',sans-serif;">15</text><line x1="3874.2" y1="2398.0" x2="3874.2" y2="2620.8" stroke="#e2e2e2" stroke-width="0.9" stroke-dasharray="2.5 1.5"/><text x="3874.2" y="2641.8" font-size="18.5" text-anchor="middle" fill="#1a1a1a" style="font-family:'Liberation Sans',sans-serif;">20</text><line x1="3912.1" y1="2398.0" x2="3912.1" y2="2620.8" stroke="#e2e2e2" stroke-width="0.9" stroke-dasharray="2.5 1.5"/><text x="3912.1" y="2641.8" font-size="18.5" text-anchor="middle" fill="#1a1a1a" style="font-family:'Liberation Sans',sans-serif;">25</text><line x1="3950.0" y1="2398.0" x2="3950.0" y2="2620.8" stroke="#e2e2e2" stroke-width="0.9" stroke-dasharray="2.5 1.5"/><text x="3950.0" y="2641.8" font-size="18.5" text-anchor="middle" fill="#1a1a1a" style="font-family:'Liberation Sans',sans-serif;">30</text><line x1="3987.9" y1="2398.0" x2="3987.9" y2="2620.8" stroke="#e2e2e2" stroke-width="0.9" stroke-dasharray="2.5 1.5"/><text x="3987.9" y="2641.8" font-size="18.5" text-anchor="middle" fill="#1a1a1a" style="font-family:'Liberation Sans',sans-serif;">35</text><line x1="4025.8" y1="2398.0" x2="4025.8" y2="2620.8" stroke="#e2e2e2" stroke-width="0.9" stroke-dasharray="2.5 1.5"/><text x="4025.8" y="2641.8" font-size="18.5" text-anchor="middle" fill="#1a1a1a" style="font-family:'Liberation Sans',sans-serif;">40</text><line x1="4063.7" y1="2398.0" x2="4063.7" y2="2620.8" stroke="#e2e2e2" stroke-width="0.9" stroke-dasharray="2.5 1.5"/><text x="4063.7" y="2641.8" font-size="18.5" text-anchor="middle" fill="#1a1a1a" style="font-family:'Liberation Sans',sans-serif;">45</text><line x1="4101.6" y1="2398.0" x2="4101.6" y2="2620.8" stroke="#e2e2e2" stroke-width="0.9" stroke-dasharray="2.5 1.5"/><text x="4101.6" y="2641.8" font-size="18.5" text-anchor="middle" fill="#1a1a1a" style="font-family:'Liberation Sans',sans-serif;">50</text><line x1="4139.5" y1="2398.0" x2="4139.5" y2="2620.8" stroke="#e2e2e2" stroke-width="0.9" stroke-dasharray="2.5 1.5"/><text x="4139.5" y="2641.8" font-size="18.5" text-anchor="middle" fill="#1a1a1a" style="font-family:'Liberation Sans',sans-serif;">55</text><line x1="3701.6" y1="2610.9" x2="4152.1" y2="2610.9" stroke="#e2e2e2" stroke-width="0.9" stroke-dasharray="2.5 1.5"/><line x1="3698.6" y1="2610.9" x2="3701.6" y2="2610.9" stroke="#888" stroke-width="1"/><line x1="3701.6" y1="2590.6" x2="4152.1" y2="2590.6" stroke="#e2e2e2" stroke-width="0.9" stroke-dasharray="2.5 1.5"/><line x1="3698.6" y1="2590.6" x2="3701.6" y2="2590.6" stroke="#888" stroke-width="1"/><line x1="3701.6" y1="2570.4" x2="4152.1" y2="2570.4" stroke="#e2e2e2" stroke-width="0.9" stroke-dasharray="2.5 1.5"/><line x1="3698.6" y1="2570.4" x2="3701.6" y2="2570.4" stroke="#888" stroke-width="1"/><line x1="3701.6" y1="2550.1" x2="4152.1" y2="2550.1" stroke="#e2e2e2" stroke-width="0.9" stroke-dasharray="2.5 1.5"/><line x1="3698.6" y1="2550.1" x2="3701.6" y2="2550.1" stroke="#888" stroke-width="1"/><line x1="3701.6" y1="2529.8" x2="4152.1" y2="2529.8" stroke="#e2e2e2" stroke-width="0.9" stroke-dasharray="2.5 1.5"/><line x1="3698.6" y1="2529.8" x2="3701.6" y2="2529.8" stroke="#888" stroke-width="1"/><line x1="3701.6" y1="2509.5" x2="4152.1" y2="2509.5" stroke="#e2e2e2" stroke-width="0.9" stroke-dasharray="2.5 1.5"/><line x1="3698.6" y1="2509.5" x2="3701.6" y2="2509.5" stroke="#888" stroke-width="1"/><line x1="3701.6" y1="2489.3" x2="4152.1" y2="2489.3" stroke="#e2e2e2" stroke-width="0.9" stroke-dasharray="2.5 1.5"/><line x1="3698.6" y1="2489.3" x2="3701.6" y2="2489.3" stroke="#888" stroke-width="1"/><line x1="3701.6" y1="2469.0" x2="4152.1" y2="2469.0" stroke="#e2e2e2" stroke-width="0.9" stroke-dasharray="2.5 1.5"/><line x1="3698.6" y1="2469.0" x2="3701.6" y2="2469.0" stroke="#888" stroke-width="1"/><line x1="3701.6" y1="2448.7" x2="4152.1" y2="2448.7" stroke="#e2e2e2" stroke-width="0.9" stroke-dasharray="2.5 1.5"/><line x1="3698.6" y1="2448.7" x2="3701.6" y2="2448.7" stroke="#888" stroke-width="1"/><line x1="3701.6" y1="2428.5" x2="4152.1" y2="2428.5" stroke="#e2e2e2" stroke-width="0.9" stroke-dasharray="2.5 1.5"/><line x1="3698.6" y1="2428.5" x2="3701.6" y2="2428.5" stroke="#888" stroke-width="1"/><line x1="3701.6" y1="2408.2" x2="4152.1" y2="2408.2" stroke="#e2e2e2" stroke-width="0.9" stroke-dasharray="2.5 1.5"/><line x1="3698.6" y1="2408.2" x2="3701.6" y2="2408.2" stroke="#888" stroke-width="1"/><polyline points="3722.6,2590.6 3730.2,2590.6 3737.8,2550.1 3745.4,2550.1 3753.0,2550.1 3760.5,2529.8 3768.1,2509.5 3775.7,2570.4 3783.3,2529.8 3790.9,2529.8 3798.4,2529.8 3806.0,2509.5 3813.6,2529.8 3821.2,2509.5 3828.8,2489.3 3836.3,2489.3 3843.9,2509.5 3851.5,2529.8 3859.1,2529.8 3866.7,2570.4 3874.2,2489.3 3881.8,2550.1 3889.4,2550.1 3897.0,2529.8 3904.6,2489.3 3912.1,2529.8 3919.7,2408.2 3927.3,2408.2 3934.9,2428.5 3942.5,2448.7 3950.0,2448.7 3957.6,2509.5 3965.2,2489.3 3972.8,2489.3 3980.3,2408.2 3987.9,2408.2 3995.5,2408.2 4003.1,2408.2 4010.7,2408.2 4018.2,2408.2 4025.8,2408.2 4033.4,2408.2 4041.0,2448.7 4048.6,2469.0 4056.1,2509.5 4063.7,2509.5 4071.3,2448.7 4078.9,2408.2 4086.5,2408.2 4094.0,2408.2 4101.6,2408.2 4109.2,2408.2 4116.8,2408.2 4124.4,2408.2 4131.9,2408.2" fill="none" stroke="#1f77b4" stroke-width="1.7" stroke-linejoin="round"/><g fill="#1f77b4"><circle cx="3722.6" cy="2590.6" r="3.3"/><circle cx="3730.2" cy="2590.6" r="3.3"/><circle cx="3737.8" cy="2550.1" r="3.3"/><circle cx="3745.4" cy="2550.1" r="3.3"/><circle cx="3753.0" cy="2550.1" r="3.3"/><circle cx="3760.5" cy="2529.8" r="3.3"/><circle cx="3768.1" cy="2509.5" r="3.3"/><circle cx="3775.7" cy="2570.4" r="3.3"/><circle cx="3783.3" cy="2529.8" r="3.3"/><circle cx="3790.9" cy="2529.8" r="3.3"/><circle cx="3798.4" cy="2529.8" r="3.3"/><circle cx="3806.0" cy="2509.5" r="3.3"/><circle cx="3813.6" cy="2529.8" r="3.3"/><circle cx="3821.2" cy="2509.5" r="3.3"/><circle cx="3828.8" cy="2489.3" r="3.3"/><circle cx="3836.3" cy="2489.3" r="3.3"/><circle cx="3843.9" cy="2509.5" r="3.3"/><circle cx="3851.5" cy="2529.8" r="3.3"/><circle cx="3859.1" cy="2529.8" r="3.3"/><circle cx="3866.7" cy="2570.4" r="3.3"/><circle cx="3874.2" cy="2489.3" r="3.3"/><circle cx="3881.8" cy="2550.1" r="3.3"/><circle cx="3889.4" cy="2550.1" r="3.3"/><circle cx="3897.0" cy="2529.8" r="3.3"/><circle cx="3904.6" cy="2489.3" r="3.3"/><circle cx="3912.1" cy="2529.8" r="3.3"/><circle cx="3919.7" cy="2408.2" r="3.3"/><circle cx="3927.3" cy="2408.2" r="3.3"/><circle cx="3934.9" cy="2428.5" r="3.3"/><circle cx="3942.5" cy="2448.7" r="3.3"/><circle cx="3950.0" cy="2448.7" r="3.3"/><circle cx="3957.6" cy="2509.5" r="3.3"/><circle cx="3965.2" cy="2489.3" r="3.3"/><circle cx="3972.8" cy="2489.3" r="3.3"/><circle cx="3980.3" cy="2408.2" r="3.3"/><circle cx="3987.9" cy="2408.2" r="3.3"/><circle cx="3995.5" cy="2408.2" r="3.3"/><circle cx="4003.1" cy="2408.2" r="3.3"/><circle cx="4010.7" cy="2408.2" r="3.3"/><circle cx="4018.2" cy="2408.2" r="3.3"/><circle cx="4025.8" cy="2408.2" r="3.3"/><circle cx="4033.4" cy="2408.2" r="3.3"/><circle cx="4041.0" cy="2448.7" r="3.3"/><circle cx="4048.6" cy="2469.0" r="3.3"/><circle cx="4056.1" cy="2509.5" r="3.3"/><circle cx="4063.7" cy="2509.5" r="3.3"/><circle cx="4071.3" cy="2448.7" r="3.3"/><circle cx="4078.9" cy="2408.2" r="3.3"/><circle cx="4086.5" cy="2408.2" r="3.3"/><circle cx="4094.0" cy="2408.2" r="3.3"/><circle cx="4101.6" cy="2408.2" r="3.3"/><circle cx="4109.2" cy="2408.2" r="3.3"/><circle cx="4116.8" cy="2408.2" r="3.3"/><circle cx="4124.4" cy="2408.2" r="3.3"/><circle cx="4131.9" cy="2408.2" r="3.3"/></g><polyline points="3722.6,2590.6 3730.2,2590.6 3737.8,2550.1 3745.4,2529.8 3753.0,2550.1 3760.5,2550.1 3768.1,2570.4 3775.7,2529.8 3783.3,2509.5 3790.9,2529.8 3798.4,2509.5 3806.0,2570.4 3813.6,2550.1 3821.2,2529.8 3828.8,2590.6 3836.3,2590.6 3843.9,2550.1 3851.5,2529.8 3859.1,2529.8 3866.7,2529.8 3874.2,2550.1 3881.8,2550.1 3889.4,2550.1 3897.0,2570.4 3904.6,2590.6 3912.1,2489.3 3919.7,2610.9 3927.3,2610.9 3934.9,2610.9 3942.5,2590.6 3950.0,2570.4 3957.6,2529.8 3965.2,2570.4 3972.8,2529.8 3980.3,2610.9 3987.9,2610.9 3995.5,2610.9 4003.1,2610.9 4010.7,2610.9 4018.2,2610.9 4025.8,2610.9 4033.4,2610.9 4041.0,2610.9 4048.6,2590.6 4056.1,2529.8 4063.7,2550.1 4071.3,2570.4 4078.9,2610.9 4086.5,2610.9 4094.0,2610.9 4101.6,2610.9 4109.2,2610.9 4116.8,2610.9 4124.4,2610.9 4131.9,2610.9" fill="none" stroke="#ff7f0e" stroke-width="1.7" stroke-linejoin="round"/><g fill="#ff7f0e"><circle cx="3722.6" cy="2590.6" r="3.3"/><circle cx="3730.2" cy="2590.6" r="3.3"/><circle cx="3737.8" cy="2550.1" r="3.3"/><circle cx="3745.4" cy="2529.8" r="3.3"/><circle cx="3753.0" cy="2550.1" r="3.3"/><circle cx="3760.5" cy="2550.1" r="3.3"/><circle cx="3768.1" cy="2570.4" r="3.3"/><circle cx="3775.7" cy="2529.8" r="3.3"/><circle cx="3783.3" cy="2509.5" r="3.3"/><circle cx="3790.9" cy="2529.8" r="3.3"/><circle cx="3798.4" cy="2509.5" r="3.3"/><circle cx="3806.0" cy="2570.4" r="3.3"/><circle cx="3813.6" cy="2550.1" r="3.3"/><circle cx="3821.2" cy="2529.8" r="3.3"/><circle cx="3828.8" cy="2590.6" r="3.3"/><circle cx="3836.3" cy="2590.6" r="3.3"/><circle cx="3843.9" cy="2550.1" r="3.3"/><circle cx="3851.5" cy="2529.8" r="3.3"/><circle cx="3859.1" cy="2529.8" r="3.3"/><circle cx="3866.7" cy="2529.8" r="3.3"/><circle cx="3874.2" cy="2550.1" r="3.3"/><circle cx="3881.8" cy="2550.1" r="3.3"/><circle cx="3889.4" cy="2550.1" r="3.3"/><circle cx="3897.0" cy="2570.4" r="3.3"/><circle cx="3904.6" cy="2590.6" r="3.3"/><circle cx="3912.1" cy="2489.3" r="3.3"/><circle cx="3919.7" cy="2610.9" r="3.3"/><circle cx="3927.3" cy="2610.9" r="3.3"/><circle cx="3934.9" cy="2610.9" r="3.3"/><circle cx="3942.5" cy="2590.6" r="3.3"/><circle cx="3950.0" cy="2570.4" r="3.3"/><circle cx="3957.6" cy="2529.8" r="3.3"/><circle cx="3965.2" cy="2570.4" r="3.3"/><circle cx="3972.8" cy="2529.8" r="3.3"/><circle cx="3980.3" cy="2610.9" r="3.3"/><circle cx="3987.9" cy="2610.9" r="3.3"/><circle cx="3995.5" cy="2610.9" r="3.3"/><circle cx="4003.1" cy="2610.9" r="3.3"/><circle cx="4010.7" cy="2610.9" r="3.3"/><circle cx="4018.2" cy="2610.9" r="3.3"/><circle cx="4025.8" cy="2610.9" r="3.3"/><circle cx="4033.4" cy="2610.9" r="3.3"/><circle cx="4041.0" cy="2610.9" r="3.3"/><circle cx="4048.6" cy="2590.6" r="3.3"/><circle cx="4056.1" cy="2529.8" r="3.3"/><circle cx="4063.7" cy="2550.1" r="3.3"/><circle cx="4071.3" cy="2570.4" r="3.3"/><circle cx="4078.9" cy="2610.9" r="3.3"/><circle cx="4086.5" cy="2610.9" r="3.3"/><circle cx="4094.0" cy="2610.9" r="3.3"/><circle cx="4101.6" cy="2610.9" r="3.3"/><circle cx="4109.2" cy="2610.9" r="3.3"/><circle cx="4116.8" cy="2610.9" r="3.3"/><circle cx="4124.4" cy="2610.9" r="3.3"/><circle cx="4131.9" cy="2610.9" r="3.3"/></g><polyline points="3722.6,2529.8 3730.2,2550.1 3737.8,2570.4 3745.4,2570.4 3753.0,2550.1 3760.5,2570.4 3768.1,2570.4 3775.7,2570.4 3783.3,2590.6 3790.9,2570.4 3798.4,2590.6 3806.0,2550.1 3813.6,2550.1 3821.2,2610.9 3828.8,2570.4 3836.3,2550.1 3843.9,2570.4 3851.5,2570.4 3859.1,2570.4 3866.7,2550.1 3874.2,2590.6 3881.8,2529.8 3889.4,2550.1 3897.0,2529.8 3904.6,2550.1 3912.1,2610.9 3919.7,2610.9 3927.3,2610.9 3934.9,2610.9 3942.5,2590.6 3950.0,2610.9 3957.6,2590.6 3965.2,2570.4 3972.8,2610.9 3980.3,2610.9 3987.9,2610.9 3995.5,2610.9 4003.1,2610.9 4010.7,2610.9 4018.2,2610.9 4025.8,2610.9 4033.4,2610.9 4041.0,2570.4 4048.6,2570.4 4056.1,2590.6 4063.7,2570.4 4071.3,2610.9 4078.9,2610.9 4086.5,2610.9 4094.0,2610.9 4101.6,2610.9 4109.2,2610.9 4116.8,2610.9 4124.4,2610.9 4131.9,2610.9" fill="none" stroke="#2ca02c" stroke-width="1.7" stroke-linejoin="round"/><g fill="#2ca02c"><circle cx="3722.6" cy="2529.8" r="3.3"/><circle cx="3730.2" cy="2550.1" r="3.3"/><circle cx="3737.8" cy="2570.4" r="3.3"/><circle cx="3745.4" cy="2570.4" r="3.3"/><circle cx="3753.0" cy="2550.1" r="3.3"/><circle cx="3760.5" cy="2570.4" r="3.3"/><circle cx="3768.1" cy="2570.4" r="3.3"/><circle cx="3775.7" cy="2570.4" r="3.3"/><circle cx="3783.3" cy="2590.6" r="3.3"/><circle cx="3790.9" cy="2570.4" r="3.3"/><circle cx="3798.4" cy="2590.6" r="3.3"/><circle cx="3806.0" cy="2550.1" r="3.3"/><circle cx="3813.6" cy="2550.1" r="3.3"/><circle cx="3821.2" cy="2610.9" r="3.3"/><circle cx="3828.8" cy="2570.4" r="3.3"/><circle cx="3836.3" cy="2550.1" r="3.3"/><circle cx="3843.9" cy="2570.4" r="3.3"/><circle cx="3851.5" cy="2570.4" r="3.3"/><circle cx="3859.1" cy="2570.4" r="3.3"/><circle cx="3866.7" cy="2550.1" r="3.3"/><circle cx="3874.2" cy="2590.6" r="3.3"/><circle cx="3881.8" cy="2529.8" r="3.3"/><circle cx="3889.4" cy="2550.1" r="3.3"/><circle cx="3897.0" cy="2529.8" r="3.3"/><circle cx="3904.6" cy="2550.1" r="3.3"/><circle cx="3912.1" cy="2610.9" r="3.3"/><circle cx="3919.7" cy="2610.9" r="3.3"/><circle cx="3927.3" cy="2610.9" r="3.3"/><circle cx="3934.9" cy="2610.9" r="3.3"/><circle cx="3942.5" cy="2590.6" r="3.3"/><circle cx="3950.0" cy="2610.9" r="3.3"/><circle cx="3957.6" cy="2590.6" r="3.3"/><circle cx="3965.2" cy="2570.4" r="3.3"/><circle cx="3972.8" cy="2610.9" r="3.3"/><circle cx="3980.3" cy="2610.9" r="3.3"/><circle cx="3987.9" cy="2610.9" r="3.3"/><circle cx="3995.5" cy="2610.9" r="3.3"/><circle cx="4003.1" cy="2610.9" r="3.3"/><circle cx="4010.7" cy="2610.9" r="3.3"/><circle cx="4018.2" cy="2610.9" r="3.3"/><circle cx="4025.8" cy="2610.9" r="3.3"/><circle cx="4033.4" cy="2610.9" r="3.3"/><circle cx="4041.0" cy="2570.4" r="3.3"/><circle cx="4048.6" cy="2570.4" r="3.3"/><circle cx="4056.1" cy="2590.6" r="3.3"/><circle cx="4063.7" cy="2570.4" r="3.3"/><circle cx="4071.3" cy="2610.9" r="3.3"/><circle cx="4078.9" cy="2610.9" r="3.3"/><circle cx="4086.5" cy="2610.9" r="3.3"/><circle cx="4094.0" cy="2610.9" r="3.3"/><circle cx="4101.6" cy="2610.9" r="3.3"/><circle cx="4109.2" cy="2610.9" r="3.3"/><circle cx="4116.8" cy="2610.9" r="3.3"/><circle cx="4124.4" cy="2610.9" r="3.3"/><circle cx="4131.9" cy="2610.9" r="3.3"/></g><polyline points="3722.6,2570.4 3730.2,2570.4 3737.8,2570.4 3745.4,2590.6 3753.0,2590.6 3760.5,2590.6 3768.1,2590.6 3775.7,2570.4 3783.3,2610.9 3790.9,2610.9 3798.4,2610.9 3806.0,2610.9 3813.6,2610.9 3821.2,2590.6 3828.8,2590.6 3836.3,2610.9 3843.9,2610.9 3851.5,2610.9 3859.1,2610.9 3866.7,2590.6 3874.2,2610.9 3881.8,2610.9 3889.4,2590.6 3897.0,2610.9 3904.6,2610.9 3912.1,2610.9 3919.7,2610.9 3927.3,2610.9 3934.9,2590.6 3942.5,2610.9 3950.0,2610.9 3957.6,2610.9 3965.2,2610.9 3972.8,2610.9 3980.3,2610.9 3987.9,2610.9 3995.5,2610.9 4003.1,2610.9 4010.7,2610.9 4018.2,2610.9 4025.8,2610.9 4033.4,2610.9 4041.0,2610.9 4048.6,2610.9 4056.1,2610.9 4063.7,2610.9 4071.3,2610.9 4078.9,2610.9 4086.5,2610.9 4094.0,2610.9 4101.6,2610.9 4109.2,2610.9 4116.8,2610.9 4124.4,2610.9 4131.9,2610.9" fill="none" stroke="#d62728" stroke-width="1.7" stroke-linejoin="round"/><g fill="#d62728"><circle cx="3722.6" cy="2570.4" r="3.3"/><circle cx="3730.2" cy="2570.4" r="3.3"/><circle cx="3737.8" cy="2570.4" r="3.3"/><circle cx="3745.4" cy="2590.6" r="3.3"/><circle cx="3753.0" cy="2590.6" r="3.3"/><circle cx="3760.5" cy="2590.6" r="3.3"/><circle cx="3768.1" cy="2590.6" r="3.3"/><circle cx="3775.7" cy="2570.4" r="3.3"/><circle cx="3783.3" cy="2610.9" r="3.3"/><circle cx="3790.9" cy="2610.9" r="3.3"/><circle cx="3798.4" cy="2610.9" r="3.3"/><circle cx="3806.0" cy="2610.9" r="3.3"/><circle cx="3813.6" cy="2610.9" r="3.3"/><circle cx="3821.2" cy="2590.6" r="3.3"/><circle cx="3828.8" cy="2590.6" r="3.3"/><circle cx="3836.3" cy="2610.9" r="3.3"/><circle cx="3843.9" cy="2610.9" r="3.3"/><circle cx="3851.5" cy="2610.9" r="3.3"/><circle cx="3859.1" cy="2610.9" r="3.3"/><circle cx="3866.7" cy="2590.6" r="3.3"/><circle cx="3874.2" cy="2610.9" r="3.3"/><circle cx="3881.8" cy="2610.9" r="3.3"/><circle cx="3889.4" cy="2590.6" r="3.3"/><circle cx="3897.0" cy="2610.9" r="3.3"/><circle cx="3904.6" cy="2610.9" r="3.3"/><circle cx="3912.1" cy="2610.9" r="3.3"/><circle cx="3919.7" cy="2610.9" r="3.3"/><circle cx="3927.3" cy="2610.9" r="3.3"/><circle cx="3934.9" cy="2590.6" r="3.3"/><circle cx="3942.5" cy="2610.9" r="3.3"/><circle cx="3950.0" cy="2610.9" r="3.3"/><circle cx="3957.6" cy="2610.9" r="3.3"/><circle cx="3965.2" cy="2610.9" r="3.3"/><circle cx="3972.8" cy="2610.9" r="3.3"/><circle cx="3980.3" cy="2610.9" r="3.3"/><circle cx="3987.9" cy="2610.9" r="3.3"/><circle cx="3995.5" cy="2610.9" r="3.3"/><circle cx="4003.1" cy="2610.9" r="3.3"/><circle cx="4010.7" cy="2610.9" r="3.3"/><circle cx="4018.2" cy="2610.9" r="3.3"/><circle cx="4025.8" cy="2610.9" r="3.3"/><circle cx="4033.4" cy="2610.9" r="3.3"/><circle cx="4041.0" cy="2610.9" r="3.3"/><circle cx="4048.6" cy="2610.9" r="3.3"/><circle cx="4056.1" cy="2610.9" r="3.3"/><circle cx="4063.7" cy="2610.9" r="3.3"/><circle cx="4071.3" cy="2610.9" r="3.3"/><circle cx="4078.9" cy="2610.9" r="3.3"/><circle cx="4086.5" cy="2610.9" r="3.3"/><circle cx="4094.0" cy="2610.9" r="3.3"/><circle cx="4101.6" cy="2610.9" r="3.3"/><circle cx="4109.2" cy="2610.9" r="3.3"/><circle cx="4116.8" cy="2610.9" r="3.3"/><circle cx="4124.4" cy="2610.9" r="3.3"/><circle cx="4131.9" cy="2610.9" r="3.3"/></g><polyline points="3722.6,2570.4 3730.2,2550.1 3737.8,2610.9 3745.4,2610.9 3753.0,2610.9 3760.5,2610.9 3768.1,2610.9 3775.7,2610.9 3783.3,2610.9 3790.9,2610.9 3798.4,2610.9 3806.0,2610.9 3813.6,2610.9 3821.2,2610.9 3828.8,2610.9 3836.3,2610.9 3843.9,2610.9 3851.5,2610.9 3859.1,2610.9 3866.7,2610.9 3874.2,2610.9 3881.8,2610.9 3889.4,2610.9 3897.0,2610.9 3904.6,2610.9 3912.1,2610.9 3919.7,2610.9 3927.3,2610.9 3934.9,2610.9 3942.5,2610.9 3950.0,2610.9 3957.6,2610.9 3965.2,2610.9 3972.8,2610.9 3980.3,2610.9 3987.9,2610.9 3995.5,2610.9 4003.1,2610.9 4010.7,2610.9 4018.2,2610.9 4025.8,2610.9 4033.4,2610.9 4041.0,2610.9 4048.6,2610.9 4056.1,2610.9 4063.7,2610.9 4071.3,2610.9 4078.9,2610.9 4086.5,2610.9 4094.0,2610.9 4101.6,2610.9 4109.2,2610.9 4116.8,2610.9 4124.4,2610.9 4131.9,2610.9" fill="none" stroke="#9467bd" stroke-width="1.7" stroke-linejoin="round"/><g fill="#9467bd"><circle cx="3722.6" cy="2570.4" r="3.3"/><circle cx="3730.2" cy="2550.1" r="3.3"/><circle cx="3737.8" cy="2610.9" r="3.3"/><circle cx="3745.4" cy="2610.9" r="3.3"/><circle cx="3753.0" cy="2610.9" r="3.3"/><circle cx="3760.5" cy="2610.9" r="3.3"/><circle cx="3768.1" cy="2610.9" r="3.3"/><circle cx="3775.7" cy="2610.9" r="3.3"/><circle cx="3783.3" cy="2610.9" r="3.3"/><circle cx="3790.9" cy="2610.9" r="3.3"/><circle cx="3798.4" cy="2610.9" r="3.3"/><circle cx="3806.0" cy="2610.9" r="3.3"/><circle cx="3813.6" cy="2610.9" r="3.3"/><circle cx="3821.2" cy="2610.9" r="3.3"/><circle cx="3828.8" cy="2610.9" r="3.3"/><circle cx="3836.3" cy="2610.9" r="3.3"/><circle cx="3843.9" cy="2610.9" r="3.3"/><circle cx="3851.5" cy="2610.9" r="3.3"/><circle cx="3859.1" cy="2610.9" r="3.3"/><circle cx="3866.7" cy="2610.9" r="3.3"/><circle cx="3874.2" cy="2610.9" r="3.3"/><circle cx="3881.8" cy="2610.9" r="3.3"/><circle cx="3889.4" cy="2610.9" r="3.3"/><circle cx="3897.0" cy="2610.9" r="3.3"/><circle cx="3904.6" cy="2610.9" r="3.3"/><circle cx="3912.1" cy="2610.9" r="3.3"/><circle cx="3919.7" cy="2610.9" r="3.3"/><circle cx="3927.3" cy="2610.9" r="3.3"/><circle cx="3934.9" cy="2610.9" r="3.3"/><circle cx="3942.5" cy="2610.9" r="3.3"/><circle cx="3950.0" cy="2610.9" r="3.3"/><circle cx="3957.6" cy="2610.9" r="3.3"/><circle cx="3965.2" cy="2610.9" r="3.3"/><circle cx="3972.8" cy="2610.9" r="3.3"/><circle cx="3980.3" cy="2610.9" r="3.3"/><circle cx="3987.9" cy="2610.9" r="3.3"/><circle cx="3995.5" cy="2610.9" r="3.3"/><circle cx="4003.1" cy="2610.9" r="3.3"/><circle cx="4010.7" cy="2610.9" r="3.3"/><circle cx="4018.2" cy="2610.9" r="3.3"/><circle cx="4025.8" cy="2610.9" r="3.3"/><circle cx="4033.4" cy="2610.9" r="3.3"/><circle cx="4041.0" cy="2610.9" r="3.3"/><circle cx="4048.6" cy="2610.9" r="3.3"/><circle cx="4056.1" cy="2610.9" r="3.3"/><circle cx="4063.7" cy="2610.9" r="3.3"/><circle cx="4071.3" cy="2610.9" r="3.3"/><circle cx="4078.9" cy="2610.9" r="3.3"/><circle cx="4086.5" cy="2610.9" r="3.3"/><circle cx="4094.0" cy="2610.9" r="3.3"/><circle cx="4101.6" cy="2610.9" r="3.3"/><circle cx="4109.2" cy="2610.9" r="3.3"/><circle cx="4116.8" cy="2610.9" r="3.3"/><circle cx="4124.4" cy="2610.9" r="3.3"/><circle cx="4131.9" cy="2610.9" r="3.3"/></g><text x="3849.1" y="2391.7" font-size="25.5" text-anchor="start" textLength="156.8" lengthAdjust="spacingAndGlyphs" fill="#000" style="font-family:'Liberation Sans',sans-serif;">19 Provided</text><text x="3896.2" y="2659.8" font-size="25" text-anchor="start" textLength="60.1" lengthAdjust="spacingAndGlyphs" fill="#000" style="font-family:'Liberation Sans',sans-serif;">Cycle</text><rect x="4157.1" y="2397.3" width="448.9" height="222.9" fill="#fff" stroke="#d9d9d9" stroke-width="1.2"/><line x1="4178.0" y1="2397.3" x2="4178.0" y2="2620.3" stroke="#e2e2e2" stroke-width="0.9" stroke-dasharray="2.5 1.5"/><text x="4178.0" y="2641.3" font-size="18.5" text-anchor="middle" fill="#1a1a1a" style="font-family:'Liberation Sans',sans-serif;">0</text><line x1="4215.7" y1="2397.3" x2="4215.7" y2="2620.3" stroke="#e2e2e2" stroke-width="0.9" stroke-dasharray="2.5 1.5"/><text x="4215.7" y="2641.3" font-size="18.5" text-anchor="middle" fill="#1a1a1a" style="font-family:'Liberation Sans',sans-serif;">5</text><line x1="4253.4" y1="2397.3" x2="4253.4" y2="2620.3" stroke="#e2e2e2" stroke-width="0.9" stroke-dasharray="2.5 1.5"/><text x="4253.4" y="2641.3" font-size="18.5" text-anchor="middle" fill="#1a1a1a" style="font-family:'Liberation Sans',sans-serif;">10</text><line x1="4291.2" y1="2397.3" x2="4291.2" y2="2620.3" stroke="#e2e2e2" stroke-width="0.9" stroke-dasharray="2.5 1.5"/><text x="4291.2" y="2641.3" font-size="18.5" text-anchor="middle" fill="#1a1a1a" style="font-family:'Liberation Sans',sans-serif;">15</text><line x1="4328.9" y1="2397.3" x2="4328.9" y2="2620.3" stroke="#e2e2e2" stroke-width="0.9" stroke-dasharray="2.5 1.5"/><text x="4328.9" y="2641.3" font-size="18.5" text-anchor="middle" fill="#1a1a1a" style="font-family:'Liberation Sans',sans-serif;">20</text><line x1="4366.6" y1="2397.3" x2="4366.6" y2="2620.3" stroke="#e2e2e2" stroke-width="0.9" stroke-dasharray="2.5 1.5"/><text x="4366.6" y="2641.3" font-size="18.5" text-anchor="middle" fill="#1a1a1a" style="font-family:'Liberation Sans',sans-serif;">25</text><line x1="4404.3" y1="2397.3" x2="4404.3" y2="2620.3" stroke="#e2e2e2" stroke-width="0.9" stroke-dasharray="2.5 1.5"/><text x="4404.3" y="2641.3" font-size="18.5" text-anchor="middle" fill="#1a1a1a" style="font-family:'Liberation Sans',sans-serif;">30</text><line x1="4442.0" y1="2397.3" x2="4442.0" y2="2620.3" stroke="#e2e2e2" stroke-width="0.9" stroke-dasharray="2.5 1.5"/><text x="4442.0" y="2641.3" font-size="18.5" text-anchor="middle" fill="#1a1a1a" style="font-family:'Liberation Sans',sans-serif;">35</text><line x1="4479.8" y1="2397.3" x2="4479.8" y2="2620.3" stroke="#e2e2e2" stroke-width="0.9" stroke-dasharray="2.5 1.5"/><text x="4479.8" y="2641.3" font-size="18.5" text-anchor="middle" fill="#1a1a1a" style="font-family:'Liberation Sans',sans-serif;">40</text><line x1="4517.5" y1="2397.3" x2="4517.5" y2="2620.3" stroke="#e2e2e2" stroke-width="0.9" stroke-dasharray="2.5 1.5"/><text x="4517.5" y="2641.3" font-size="18.5" text-anchor="middle" fill="#1a1a1a" style="font-family:'Liberation Sans',sans-serif;">45</text><line x1="4555.2" y1="2397.3" x2="4555.2" y2="2620.3" stroke="#e2e2e2" stroke-width="0.9" stroke-dasharray="2.5 1.5"/><text x="4555.2" y="2641.3" font-size="18.5" text-anchor="middle" fill="#1a1a1a" style="font-family:'Liberation Sans',sans-serif;">50</text><line x1="4592.9" y1="2397.3" x2="4592.9" y2="2620.3" stroke="#e2e2e2" stroke-width="0.9" stroke-dasharray="2.5 1.5"/><text x="4592.9" y="2641.3" font-size="18.5" text-anchor="middle" fill="#1a1a1a" style="font-family:'Liberation Sans',sans-serif;">55</text><line x1="4157.1" y1="2610.2" x2="4606.0" y2="2610.2" stroke="#e2e2e2" stroke-width="0.9" stroke-dasharray="2.5 1.5"/><line x1="4154.1" y1="2610.2" x2="4157.1" y2="2610.2" stroke="#888" stroke-width="1"/><line x1="4157.1" y1="2589.9" x2="4606.0" y2="2589.9" stroke="#e2e2e2" stroke-width="0.9" stroke-dasharray="2.5 1.5"/><line x1="4154.1" y1="2589.9" x2="4157.1" y2="2589.9" stroke="#888" stroke-width="1"/><line x1="4157.1" y1="2569.7" x2="4606.0" y2="2569.7" stroke="#e2e2e2" stroke-width="0.9" stroke-dasharray="2.5 1.5"/><line x1="4154.1" y1="2569.7" x2="4157.1" y2="2569.7" stroke="#888" stroke-width="1"/><line x1="4157.1" y1="2549.4" x2="4606.0" y2="2549.4" stroke="#e2e2e2" stroke-width="0.9" stroke-dasharray="2.5 1.5"/><line x1="4154.1" y1="2549.4" x2="4157.1" y2="2549.4" stroke="#888" stroke-width="1"/><line x1="4157.1" y1="2529.2" x2="4606.0" y2="2529.2" stroke="#e2e2e2" stroke-width="0.9" stroke-dasharray="2.5 1.5"/><line x1="4154.1" y1="2529.2" x2="4157.1" y2="2529.2" stroke="#888" stroke-width="1"/><line x1="4157.1" y1="2508.9" x2="4606.0" y2="2508.9" stroke="#e2e2e2" stroke-width="0.9" stroke-dasharray="2.5 1.5"/><line x1="4154.1" y1="2508.9" x2="4157.1" y2="2508.9" stroke="#888" stroke-width="1"/><line x1="4157.1" y1="2488.7" x2="4606.0" y2="2488.7" stroke="#e2e2e2" stroke-width="0.9" stroke-dasharray="2.5 1.5"/><line x1="4154.1" y1="2488.7" x2="4157.1" y2="2488.7" stroke="#888" stroke-width="1"/><line x1="4157.1" y1="2468.4" x2="4606.0" y2="2468.4" stroke="#e2e2e2" stroke-width="0.9" stroke-dasharray="2.5 1.5"/><line x1="4154.1" y1="2468.4" x2="4157.1" y2="2468.4" stroke="#888" stroke-width="1"/><line x1="4157.1" y1="2448.1" x2="4606.0" y2="2448.1" stroke="#e2e2e2" stroke-width="0.9" stroke-dasharray="2.5 1.5"/><line x1="4154.1" y1="2448.1" x2="4157.1" y2="2448.1" stroke="#888" stroke-width="1"/><line x1="4157.1" y1="2427.9" x2="4606.0" y2="2427.9" stroke="#e2e2e2" stroke-width="0.9" stroke-dasharray="2.5 1.5"/><line x1="4154.1" y1="2427.9" x2="4157.1" y2="2427.9" stroke="#888" stroke-width="1"/><line x1="4157.1" y1="2407.6" x2="4606.0" y2="2407.6" stroke="#e2e2e2" stroke-width="0.9" stroke-dasharray="2.5 1.5"/><line x1="4154.1" y1="2407.6" x2="4157.1" y2="2407.6" stroke="#888" stroke-width="1"/><polyline points="4178.0,2610.2 4185.5,2569.7 4193.1,2529.2 4200.6,2569.7 4208.2,2488.7 4215.7,2529.2 4223.3,2488.7 4230.8,2427.9 4238.3,2468.4 4245.9,2529.2 4253.4,2549.4 4261.0,2407.6 4268.5,2407.6 4276.1,2407.6 4283.6,2407.6 4291.2,2407.6 4298.7,2407.6 4306.2,2407.6 4313.8,2407.6 4321.3,2407.6 4328.9,2407.6 4336.4,2407.6 4344.0,2407.6 4351.5,2407.6 4359.1,2407.6 4366.6,2407.6 4374.1,2407.6 4381.7,2407.6 4389.2,2407.6 4396.8,2407.6 4404.3,2407.6 4411.9,2407.6 4419.4,2407.6 4427.0,2407.6 4434.5,2407.6 4442.0,2407.6 4449.6,2407.6 4457.1,2407.6 4464.7,2407.6 4472.2,2407.6 4479.8,2407.6 4487.3,2407.6 4494.8,2407.6 4502.4,2407.6 4509.9,2407.6 4517.5,2407.6 4525.0,2407.6 4532.6,2407.6 4540.1,2407.6 4547.7,2407.6 4555.2,2407.6 4562.7,2407.6 4570.3,2407.6 4577.8,2407.6 4585.4,2407.6" fill="none" stroke="#1f77b4" stroke-width="1.7" stroke-linejoin="round"/><g fill="#1f77b4"><circle cx="4178.0" cy="2610.2" r="3.3"/><circle cx="4185.5" cy="2569.7" r="3.3"/><circle cx="4193.1" cy="2529.2" r="3.3"/><circle cx="4200.6" cy="2569.7" r="3.3"/><circle cx="4208.2" cy="2488.7" r="3.3"/><circle cx="4215.7" cy="2529.2" r="3.3"/><circle cx="4223.3" cy="2488.7" r="3.3"/><circle cx="4230.8" cy="2427.9" r="3.3"/><circle cx="4238.3" cy="2468.4" r="3.3"/><circle cx="4245.9" cy="2529.2" r="3.3"/><circle cx="4253.4" cy="2549.4" r="3.3"/><circle cx="4261.0" cy="2407.6" r="3.3"/><circle cx="4268.5" cy="2407.6" r="3.3"/><circle cx="4276.1" cy="2407.6" r="3.3"/><circle cx="4283.6" cy="2407.6" r="3.3"/><circle cx="4291.2" cy="2407.6" r="3.3"/><circle cx="4298.7" cy="2407.6" r="3.3"/><circle cx="4306.2" cy="2407.6" r="3.3"/><circle cx="4313.8" cy="2407.6" r="3.3"/><circle cx="4321.3" cy="2407.6" r="3.3"/><circle cx="4328.9" cy="2407.6" r="3.3"/><circle cx="4336.4" cy="2407.6" r="3.3"/><circle cx="4344.0" cy="2407.6" r="3.3"/><circle cx="4351.5" cy="2407.6" r="3.3"/><circle cx="4359.1" cy="2407.6" r="3.3"/><circle cx="4366.6" cy="2407.6" r="3.3"/><circle cx="4374.1" cy="2407.6" r="3.3"/><circle cx="4381.7" cy="2407.6" r="3.3"/><circle cx="4389.2" cy="2407.6" r="3.3"/><circle cx="4396.8" cy="2407.6" r="3.3"/><circle cx="4404.3" cy="2407.6" r="3.3"/><circle cx="4411.9" cy="2407.6" r="3.3"/><circle cx="4419.4" cy="2407.6" r="3.3"/><circle cx="4427.0" cy="2407.6" r="3.3"/><circle cx="4434.5" cy="2407.6" r="3.3"/><circle cx="4442.0" cy="2407.6" r="3.3"/><circle cx="4449.6" cy="2407.6" r="3.3"/><circle cx="4457.1" cy="2407.6" r="3.3"/><circle cx="4464.7" cy="2407.6" r="3.3"/><circle cx="4472.2" cy="2407.6" r="3.3"/><circle cx="4479.8" cy="2407.6" r="3.3"/><circle cx="4487.3" cy="2407.6" r="3.3"/><circle cx="4494.8" cy="2407.6" r="3.3"/><circle cx="4502.4" cy="2407.6" r="3.3"/><circle cx="4509.9" cy="2407.6" r="3.3"/><circle cx="4517.5" cy="2407.6" r="3.3"/><circle cx="4525.0" cy="2407.6" r="3.3"/><circle cx="4532.6" cy="2407.6" r="3.3"/><circle cx="4540.1" cy="2407.6" r="3.3"/><circle cx="4547.7" cy="2407.6" r="3.3"/><circle cx="4555.2" cy="2407.6" r="3.3"/><circle cx="4562.7" cy="2407.6" r="3.3"/><circle cx="4570.3" cy="2407.6" r="3.3"/><circle cx="4577.8" cy="2407.6" r="3.3"/><circle cx="4585.4" cy="2407.6" r="3.3"/></g><polyline points="4178.0,2589.9 4185.5,2569.7 4193.1,2549.4 4200.6,2569.7 4208.2,2610.2 4215.7,2549.4 4223.3,2529.2 4230.8,2610.2 4238.3,2589.9 4245.9,2529.2 4253.4,2549.4 4261.0,2610.2 4268.5,2610.2 4276.1,2610.2 4283.6,2610.2 4291.2,2610.2 4298.7,2610.2 4306.2,2610.2 4313.8,2610.2 4321.3,2610.2 4328.9,2610.2 4336.4,2610.2 4344.0,2610.2 4351.5,2610.2 4359.1,2610.2 4366.6,2610.2 4374.1,2610.2 4381.7,2610.2 4389.2,2610.2 4396.8,2610.2 4404.3,2610.2 4411.9,2610.2 4419.4,2610.2 4427.0,2610.2 4434.5,2610.2 4442.0,2610.2 4449.6,2610.2 4457.1,2610.2 4464.7,2610.2 4472.2,2610.2 4479.8,2610.2 4487.3,2610.2 4494.8,2610.2 4502.4,2610.2 4509.9,2610.2 4517.5,2610.2 4525.0,2610.2 4532.6,2610.2 4540.1,2610.2 4547.7,2610.2 4555.2,2610.2 4562.7,2610.2 4570.3,2610.2 4577.8,2610.2 4585.4,2610.2" fill="none" stroke="#ff7f0e" stroke-width="1.7" stroke-linejoin="round"/><g fill="#ff7f0e"><circle cx="4178.0" cy="2589.9" r="3.3"/><circle cx="4185.5" cy="2569.7" r="3.3"/><circle cx="4193.1" cy="2549.4" r="3.3"/><circle cx="4200.6" cy="2569.7" r="3.3"/><circle cx="4208.2" cy="2610.2" r="3.3"/><circle cx="4215.7" cy="2549.4" r="3.3"/><circle cx="4223.3" cy="2529.2" r="3.3"/><circle cx="4230.8" cy="2610.2" r="3.3"/><circle cx="4238.3" cy="2589.9" r="3.3"/><circle cx="4245.9" cy="2529.2" r="3.3"/><circle cx="4253.4" cy="2549.4" r="3.3"/><circle cx="4261.0" cy="2610.2" r="3.3"/><circle cx="4268.5" cy="2610.2" r="3.3"/><circle cx="4276.1" cy="2610.2" r="3.3"/><circle cx="4283.6" cy="2610.2" r="3.3"/><circle cx="4291.2" cy="2610.2" r="3.3"/><circle cx="4298.7" cy="2610.2" r="3.3"/><circle cx="4306.2" cy="2610.2" r="3.3"/><circle cx="4313.8" cy="2610.2" r="3.3"/><circle cx="4321.3" cy="2610.2" r="3.3"/><circle cx="4328.9" cy="2610.2" r="3.3"/><circle cx="4336.4" cy="2610.2" r="3.3"/><circle cx="4344.0" cy="2610.2" r="3.3"/><circle cx="4351.5" cy="2610.2" r="3.3"/><circle cx="4359.1" cy="2610.2" r="3.3"/><circle cx="4366.6" cy="2610.2" r="3.3"/><circle cx="4374.1" cy="2610.2" r="3.3"/><circle cx="4381.7" cy="2610.2" r="3.3"/><circle cx="4389.2" cy="2610.2" r="3.3"/><circle cx="4396.8" cy="2610.2" r="3.3"/><circle cx="4404.3" cy="2610.2" r="3.3"/><circle cx="4411.9" cy="2610.2" r="3.3"/><circle cx="4419.4" cy="2610.2" r="3.3"/><circle cx="4427.0" cy="2610.2" r="3.3"/><circle cx="4434.5" cy="2610.2" r="3.3"/><circle cx="4442.0" cy="2610.2" r="3.3"/><circle cx="4449.6" cy="2610.2" r="3.3"/><circle cx="4457.1" cy="2610.2" r="3.3"/><circle cx="4464.7" cy="2610.2" r="3.3"/><circle cx="4472.2" cy="2610.2" r="3.3"/><circle cx="4479.8" cy="2610.2" r="3.3"/><circle cx="4487.3" cy="2610.2" r="3.3"/><circle cx="4494.8" cy="2610.2" r="3.3"/><circle cx="4502.4" cy="2610.2" r="3.3"/><circle cx="4509.9" cy="2610.2" r="3.3"/><circle cx="4517.5" cy="2610.2" r="3.3"/><circle cx="4525.0" cy="2610.2" r="3.3"/><circle cx="4532.6" cy="2610.2" r="3.3"/><circle cx="4540.1" cy="2610.2" r="3.3"/><circle cx="4547.7" cy="2610.2" r="3.3"/><circle cx="4555.2" cy="2610.2" r="3.3"/><circle cx="4562.7" cy="2610.2" r="3.3"/><circle cx="4570.3" cy="2610.2" r="3.3"/><circle cx="4577.8" cy="2610.2" r="3.3"/><circle cx="4585.4" cy="2610.2" r="3.3"/></g><polyline points="4178.0,2549.4 4185.5,2569.7 4193.1,2589.9 4200.6,2549.4 4208.2,2589.9 4215.7,2549.4 4223.3,2610.2 4230.8,2589.9 4238.3,2589.9 4245.9,2589.9 4253.4,2529.2 4261.0,2610.2 4268.5,2610.2 4276.1,2610.2 4283.6,2610.2 4291.2,2610.2 4298.7,2610.2 4306.2,2610.2 4313.8,2610.2 4321.3,2610.2 4328.9,2610.2 4336.4,2610.2 4344.0,2610.2 4351.5,2610.2 4359.1,2610.2 4366.6,2610.2 4374.1,2610.2 4381.7,2610.2 4389.2,2610.2 4396.8,2610.2 4404.3,2610.2 4411.9,2610.2 4419.4,2610.2 4427.0,2610.2 4434.5,2610.2 4442.0,2610.2 4449.6,2610.2 4457.1,2610.2 4464.7,2610.2 4472.2,2610.2 4479.8,2610.2 4487.3,2610.2 4494.8,2610.2 4502.4,2610.2 4509.9,2610.2 4517.5,2610.2 4525.0,2610.2 4532.6,2610.2 4540.1,2610.2 4547.7,2610.2 4555.2,2610.2 4562.7,2610.2 4570.3,2610.2 4577.8,2610.2 4585.4,2610.2" fill="none" stroke="#2ca02c" stroke-width="1.7" stroke-linejoin="round"/><g fill="#2ca02c"><circle cx="4178.0" cy="2549.4" r="3.3"/><circle cx="4185.5" cy="2569.7" r="3.3"/><circle cx="4193.1" cy="2589.9" r="3.3"/><circle cx="4200.6" cy="2549.4" r="3.3"/><circle cx="4208.2" cy="2589.9" r="3.3"/><circle cx="4215.7" cy="2549.4" r="3.3"/><circle cx="4223.3" cy="2610.2" r="3.3"/><circle cx="4230.8" cy="2589.9" r="3.3"/><circle cx="4238.3" cy="2589.9" r="3.3"/><circle cx="4245.9" cy="2589.9" r="3.3"/><circle cx="4253.4" cy="2529.2" r="3.3"/><circle cx="4261.0" cy="2610.2" r="3.3"/><circle cx="4268.5" cy="2610.2" r="3.3"/><circle cx="4276.1" cy="2610.2" r="3.3"/><circle cx="4283.6" cy="2610.2" r="3.3"/><circle cx="4291.2" cy="2610.2" r="3.3"/><circle cx="4298.7" cy="2610.2" r="3.3"/><circle cx="4306.2" cy="2610.2" r="3.3"/><circle cx="4313.8" cy="2610.2" r="3.3"/><circle cx="4321.3" cy="2610.2" r="3.3"/><circle cx="4328.9" cy="2610.2" r="3.3"/><circle cx="4336.4" cy="2610.2" r="3.3"/><circle cx="4344.0" cy="2610.2" r="3.3"/><circle cx="4351.5" cy="2610.2" r="3.3"/><circle cx="4359.1" cy="2610.2" r="3.3"/><circle cx="4366.6" cy="2610.2" r="3.3"/><circle cx="4374.1" cy="2610.2" r="3.3"/><circle cx="4381.7" cy="2610.2" r="3.3"/><circle cx="4389.2" cy="2610.2" r="3.3"/><circle cx="4396.8" cy="2610.2" r="3.3"/><circle cx="4404.3" cy="2610.2" r="3.3"/><circle cx="4411.9" cy="2610.2" r="3.3"/><circle cx="4419.4" cy="2610.2" r="3.3"/><circle cx="4427.0" cy="2610.2" r="3.3"/><circle cx="4434.5" cy="2610.2" r="3.3"/><circle cx="4442.0" cy="2610.2" r="3.3"/><circle cx="4449.6" cy="2610.2" r="3.3"/><circle cx="4457.1" cy="2610.2" r="3.3"/><circle cx="4464.7" cy="2610.2" r="3.3"/><circle cx="4472.2" cy="2610.2" r="3.3"/><circle cx="4479.8" cy="2610.2" r="3.3"/><circle cx="4487.3" cy="2610.2" r="3.3"/><circle cx="4494.8" cy="2610.2" r="3.3"/><circle cx="4502.4" cy="2610.2" r="3.3"/><circle cx="4509.9" cy="2610.2" r="3.3"/><circle cx="4517.5" cy="2610.2" r="3.3"/><circle cx="4525.0" cy="2610.2" r="3.3"/><circle cx="4532.6" cy="2610.2" r="3.3"/><circle cx="4540.1" cy="2610.2" r="3.3"/><circle cx="4547.7" cy="2610.2" r="3.3"/><circle cx="4555.2" cy="2610.2" r="3.3"/><circle cx="4562.7" cy="2610.2" r="3.3"/><circle cx="4570.3" cy="2610.2" r="3.3"/><circle cx="4577.8" cy="2610.2" r="3.3"/><circle cx="4585.4" cy="2610.2" r="3.3"/></g><polyline points="4178.0,2569.7 4185.5,2569.7 4193.1,2569.7 4200.6,2569.7 4208.2,2569.7 4215.7,2610.2 4223.3,2610.2 4230.8,2610.2 4238.3,2589.9 4245.9,2589.9 4253.4,2610.2 4261.0,2610.2 4268.5,2610.2 4276.1,2610.2 4283.6,2610.2 4291.2,2610.2 4298.7,2610.2 4306.2,2610.2 4313.8,2610.2 4321.3,2610.2 4328.9,2610.2 4336.4,2610.2 4344.0,2610.2 4351.5,2610.2 4359.1,2610.2 4366.6,2610.2 4374.1,2610.2 4381.7,2610.2 4389.2,2610.2 4396.8,2610.2 4404.3,2610.2 4411.9,2610.2 4419.4,2610.2 4427.0,2610.2 4434.5,2610.2 4442.0,2610.2 4449.6,2610.2 4457.1,2610.2 4464.7,2610.2 4472.2,2610.2 4479.8,2610.2 4487.3,2610.2 4494.8,2610.2 4502.4,2610.2 4509.9,2610.2 4517.5,2610.2 4525.0,2610.2 4532.6,2610.2 4540.1,2610.2 4547.7,2610.2 4555.2,2610.2 4562.7,2610.2 4570.3,2610.2 4577.8,2610.2 4585.4,2610.2" fill="none" stroke="#d62728" stroke-width="1.7" stroke-linejoin="round"/><g fill="#d62728"><circle cx="4178.0" cy="2569.7" r="3.3"/><circle cx="4185.5" cy="2569.7" r="3.3"/><circle cx="4193.1" cy="2569.7" r="3.3"/><circle cx="4200.6" cy="2569.7" r="3.3"/><circle cx="4208.2" cy="2569.7" r="3.3"/><circle cx="4215.7" cy="2610.2" r="3.3"/><circle cx="4223.3" cy="2610.2" r="3.3"/><circle cx="4230.8" cy="2610.2" r="3.3"/><circle cx="4238.3" cy="2589.9" r="3.3"/><circle cx="4245.9" cy="2589.9" r="3.3"/><circle cx="4253.4" cy="2610.2" r="3.3"/><circle cx="4261.0" cy="2610.2" r="3.3"/><circle cx="4268.5" cy="2610.2" r="3.3"/><circle cx="4276.1" cy="2610.2" r="3.3"/><circle cx="4283.6" cy="2610.2" r="3.3"/><circle cx="4291.2" cy="2610.2" r="3.3"/><circle cx="4298.7" cy="2610.2" r="3.3"/><circle cx="4306.2" cy="2610.2" r="3.3"/><circle cx="4313.8" cy="2610.2" r="3.3"/><circle cx="4321.3" cy="2610.2" r="3.3"/><circle cx="4328.9" cy="2610.2" r="3.3"/><circle cx="4336.4" cy="2610.2" r="3.3"/><circle cx="4344.0" cy="2610.2" r="3.3"/><circle cx="4351.5" cy="2610.2" r="3.3"/><circle cx="4359.1" cy="2610.2" r="3.3"/><circle cx="4366.6" cy="2610.2" r="3.3"/><circle cx="4374.1" cy="2610.2" r="3.3"/><circle cx="4381.7" cy="2610.2" r="3.3"/><circle cx="4389.2" cy="2610.2" r="3.3"/><circle cx="4396.8" cy="2610.2" r="3.3"/><circle cx="4404.3" cy="2610.2" r="3.3"/><circle cx="4411.9" cy="2610.2" r="3.3"/><circle cx="4419.4" cy="2610.2" r="3.3"/><circle cx="4427.0" cy="2610.2" r="3.3"/><circle cx="4434.5" cy="2610.2" r="3.3"/><circle cx="4442.0" cy="2610.2" r="3.3"/><circle cx="4449.6" cy="2610.2" r="3.3"/><circle cx="4457.1" cy="2610.2" r="3.3"/><circle cx="4464.7" cy="2610.2" r="3.3"/><circle cx="4472.2" cy="2610.2" r="3.3"/><circle cx="4479.8" cy="2610.2" r="3.3"/><circle cx="4487.3" cy="2610.2" r="3.3"/><circle cx="4494.8" cy="2610.2" r="3.3"/><circle cx="4502.4" cy="2610.2" r="3.3"/><circle cx="4509.9" cy="2610.2" r="3.3"/><circle cx="4517.5" cy="2610.2" r="3.3"/><circle cx="4525.0" cy="2610.2" r="3.3"/><circle cx="4532.6" cy="2610.2" r="3.3"/><circle cx="4540.1" cy="2610.2" r="3.3"/><circle cx="4547.7" cy="2610.2" r="3.3"/><circle cx="4555.2" cy="2610.2" r="3.3"/><circle cx="4562.7" cy="2610.2" r="3.3"/><circle cx="4570.3" cy="2610.2" r="3.3"/><circle cx="4577.8" cy="2610.2" r="3.3"/><circle cx="4585.4" cy="2610.2" r="3.3"/></g><polyline points="4178.0,2529.2 4185.5,2569.7 4193.1,2610.2 4200.6,2610.2 4208.2,2589.9 4215.7,2610.2 4223.3,2610.2 4230.8,2610.2 4238.3,2610.2 4245.9,2610.2 4253.4,2610.2 4261.0,2610.2 4268.5,2610.2 4276.1,2610.2 4283.6,2610.2 4291.2,2610.2 4298.7,2610.2 4306.2,2610.2 4313.8,2610.2 4321.3,2610.2 4328.9,2610.2 4336.4,2610.2 4344.0,2610.2 4351.5,2610.2 4359.1,2610.2 4366.6,2610.2 4374.1,2610.2 4381.7,2610.2 4389.2,2610.2 4396.8,2610.2 4404.3,2610.2 4411.9,2610.2 4419.4,2610.2 4427.0,2610.2 4434.5,2610.2 4442.0,2610.2 4449.6,2610.2 4457.1,2610.2 4464.7,2610.2 4472.2,2610.2 4479.8,2610.2 4487.3,2610.2 4494.8,2610.2 4502.4,2610.2 4509.9,2610.2 4517.5,2610.2 4525.0,2610.2 4532.6,2610.2 4540.1,2610.2 4547.7,2610.2 4555.2,2610.2 4562.7,2610.2 4570.3,2610.2 4577.8,2610.2 4585.4,2610.2" fill="none" stroke="#9467bd" stroke-width="1.7" stroke-linejoin="round"/><g fill="#9467bd"><circle cx="4178.0" cy="2529.2" r="3.3"/><circle cx="4185.5" cy="2569.7" r="3.3"/><circle cx="4193.1" cy="2610.2" r="3.3"/><circle cx="4200.6" cy="2610.2" r="3.3"/><circle cx="4208.2" cy="2589.9" r="3.3"/><circle cx="4215.7" cy="2610.2" r="3.3"/><circle cx="4223.3" cy="2610.2" r="3.3"/><circle cx="4230.8" cy="2610.2" r="3.3"/><circle cx="4238.3" cy="2610.2" r="3.3"/><circle cx="4245.9" cy="2610.2" r="3.3"/><circle cx="4253.4" cy="2610.2" r="3.3"/><circle cx="4261.0" cy="2610.2" r="3.3"/><circle cx="4268.5" cy="2610.2" r="3.3"/><circle cx="4276.1" cy="2610.2" r="3.3"/><circle cx="4283.6" cy="2610.2" r="3.3"/><circle cx="4291.2" cy="2610.2" r="3.3"/><circle cx="4298.7" cy="2610.2" r="3.3"/><circle cx="4306.2" cy="2610.2" r="3.3"/><circle cx="4313.8" cy="2610.2" r="3.3"/><circle cx="4321.3" cy="2610.2" r="3.3"/><circle cx="4328.9" cy="2610.2" r="3.3"/><circle cx="4336.4" cy="2610.2" r="3.3"/><circle cx="4344.0" cy="2610.2" r="3.3"/><circle cx="4351.5" cy="2610.2" r="3.3"/><circle cx="4359.1" cy="2610.2" r="3.3"/><circle cx="4366.6" cy="2610.2" r="3.3"/><circle cx="4374.1" cy="2610.2" r="3.3"/><circle cx="4381.7" cy="2610.2" r="3.3"/><circle cx="4389.2" cy="2610.2" r="3.3"/><circle cx="4396.8" cy="2610.2" r="3.3"/><circle cx="4404.3" cy="2610.2" r="3.3"/><circle cx="4411.9" cy="2610.2" r="3.3"/><circle cx="4419.4" cy="2610.2" r="3.3"/><circle cx="4427.0" cy="2610.2" r="3.3"/><circle cx="4434.5" cy="2610.2" r="3.3"/><circle cx="4442.0" cy="2610.2" r="3.3"/><circle cx="4449.6" cy="2610.2" r="3.3"/><circle cx="4457.1" cy="2610.2" r="3.3"/><circle cx="4464.7" cy="2610.2" r="3.3"/><circle cx="4472.2" cy="2610.2" r="3.3"/><circle cx="4479.8" cy="2610.2" r="3.3"/><circle cx="4487.3" cy="2610.2" r="3.3"/><circle cx="4494.8" cy="2610.2" r="3.3"/><circle cx="4502.4" cy="2610.2" r="3.3"/><circle cx="4509.9" cy="2610.2" r="3.3"/><circle cx="4517.5" cy="2610.2" r="3.3"/><circle cx="4525.0" cy="2610.2" r="3.3"/><circle cx="4532.6" cy="2610.2" r="3.3"/><circle cx="4540.1" cy="2610.2" r="3.3"/><circle cx="4547.7" cy="2610.2" r="3.3"/><circle cx="4555.2" cy="2610.2" r="3.3"/><circle cx="4562.7" cy="2610.2" r="3.3"/><circle cx="4570.3" cy="2610.2" r="3.3"/><circle cx="4577.8" cy="2610.2" r="3.3"/><circle cx="4585.4" cy="2610.2" r="3.3"/></g><text x="4303.6" y="2391.0" font-size="25.5" text-anchor="start" textLength="156.0" lengthAdjust="spacingAndGlyphs" fill="#000" style="font-family:'Liberation Sans',sans-serif;">32 Provided</text><text x="4351.4" y="2660.3" font-size="25" text-anchor="start" textLength="60.4" lengthAdjust="spacingAndGlyphs" fill="#000" style="font-family:'Liberation Sans',sans-serif;">Cycle</text><text x="3508.8" y="2353.5" font-size="26" text-anchor="start" textLength="201.2" lengthAdjust="spacingAndGlyphs" fill="#000" style="font-family:'Liberation Sans',sans-serif;">from go-back =</text><line x1="3741.0" y1="2343.9" x2="3792.6" y2="2343.9" stroke="#1f77b4" stroke-width="1.8"/><circle cx="3766.8" cy="2343.9" r="5" fill="#1f77b4"/><text x="3809.7" y="2354.4" font-size="27" text-anchor="start" textLength="15.0" lengthAdjust="spacingAndGlyphs" fill="#000" style="font-family:'Liberation Sans',sans-serif;">0</text><line x1="3849.1" y1="2343.9" x2="3900.7" y2="2343.9" stroke="#ff7f0e" stroke-width="1.8"/><circle cx="3874.9" cy="2343.9" r="5" fill="#ff7f0e"/><text x="3918.7" y="2354.4" font-size="27" text-anchor="start" textLength="31.5" lengthAdjust="spacingAndGlyphs" fill="#000" style="font-family:'Liberation Sans',sans-serif;">10</text><line x1="3980.3" y1="2343.9" x2="4031.4" y2="2343.9" stroke="#2ca02c" stroke-width="1.8"/><circle cx="4005.8" cy="2343.9" r="5" fill="#2ca02c"/><text x="4047.9" y="2354.4" font-size="27" text-anchor="start" textLength="31.5" lengthAdjust="spacingAndGlyphs" fill="#000" style="font-family:'Liberation Sans',sans-serif;">20</text><line x1="4107.9" y1="2343.9" x2="4159.0" y2="2343.9" stroke="#d62728" stroke-width="1.8"/><circle cx="4133.5" cy="2343.9" r="5" fill="#d62728"/><text x="4178.5" y="2354.4" font-size="27" text-anchor="start" textLength="31.5" lengthAdjust="spacingAndGlyphs" fill="#000" style="font-family:'Liberation Sans',sans-serif;">30</text><line x1="4238.0" y1="2343.9" x2="4289.6" y2="2343.9" stroke="#9467bd" stroke-width="1.8"/><circle cx="4263.8" cy="2343.9" r="5" fill="#9467bd"/><text x="4310.6" y="2354.4" font-size="27" text-anchor="start" textLength="31.5" lengthAdjust="spacingAndGlyphs" fill="#000" style="font-family:'Liberation Sans',sans-serif;">40</text></svg>
<span class="t s" style="left:958.0px;top:71.5px;font-size:104px;color:#414f82;letter-spacing:1.810px;-webkit-text-stroke:3px #414f82;">Adaptive Inference-Time Scaling via Cyclic Diffusion Search</span>
<span class="t s" style="left:1558.0px;top:216.9px;font-size:55px;letter-spacing:2.130px;-webkit-text-stroke:0.9px #000;">Gyubin Lee<span style="font-size:0.56em;position:relative;top:-0.5em;letter-spacing:0;font-weight:700;">1*</span></span>
<span class="t s" style="left:1960.0px;top:216.9px;font-size:55px;letter-spacing:2.799px;-webkit-text-stroke:0.9px #000;">Truong Nhat Nguyen Bao<span style="font-size:0.56em;position:relative;top:-0.5em;letter-spacing:0;font-weight:700;">1*</span></span>
<span class="t s" style="left:2745.0px;top:216.9px;font-size:55px;letter-spacing:2.257px;-webkit-text-stroke:0.9px #000;">Jaesik Yoon<span style="font-size:0.56em;position:relative;top:-0.5em;letter-spacing:0;font-weight:700;">1,4</span></span>
<span class="t s" style="left:1522.0px;top:286.9px;font-size:55px;letter-spacing:2.285px;-webkit-text-stroke:0.9px #000;">Dongwoo Lee<span style="font-size:0.56em;position:relative;top:-0.5em;letter-spacing:0;font-weight:700;">1</span></span>
<span class="t s" style="left:1976.0px;top:286.9px;font-size:55px;letter-spacing:2.039px;-webkit-text-stroke:0.9px #000;">Minsu Kim<span style="font-size:0.56em;position:relative;top:-0.5em;letter-spacing:0;font-weight:700;">1,2</span></span>
<span class="t s" style="left:2414.0px;top:286.9px;font-size:55px;letter-spacing:2.202px;-webkit-text-stroke:0.9px #000;">Yoshua Bengio<span style="font-size:0.56em;position:relative;top:-0.5em;letter-spacing:0;font-weight:700;">2</span></span>
<span class="t s" style="left:2898.0px;top:286.9px;font-size:55px;letter-spacing:2.185px;-webkit-text-stroke:0.9px #000;">Sungjin Ahn<span style="font-size:0.56em;position:relative;top:-0.5em;letter-spacing:0;font-weight:700;">1,3</span></span>
<span class="t s" style="left:1630.0px;top:378.7px;font-size:47px;letter-spacing:0.089px;"><span style="font-size:0.56em;position:relative;top:-0.55em;letter-spacing:0;">1</span>KAIST</span>
<span class="t s" style="left:1866.0px;top:378.7px;font-size:47px;letter-spacing:1.992px;"><span style="font-size:0.56em;position:relative;top:-0.55em;letter-spacing:0;">2</span>Mila – Quebec AI Institute</span>
<span class="t s" style="left:2526.0px;top:378.7px;font-size:47px;letter-spacing:1.621px;"><span style="font-size:0.56em;position:relative;top:-0.55em;letter-spacing:0;">3</span>New York University</span>
<span class="t s" style="left:3047.0px;top:378.7px;font-size:47px;letter-spacing:-0.422px;"><span style="font-size:0.56em;position:relative;top:-0.55em;letter-spacing:0;">4</span>SAP</span>
<span class="t s b" style="left:553.0px;top:496.9px;font-size:56px;letter-spacing:1.002px;">Motivation</span>
<span class="t s b" style="left:469.0px;top:1417.9px;font-size:56px;letter-spacing:0.374px;">Our Contribution</span>
<span class="t s b" style="left:518.0px;top:2215.1px;font-size:56px;letter-spacing:0.096px;">Preliminaries</span>
<span class="t s b" style="left:1944.0px;top:496.9px;font-size:56px;letter-spacing:0.341px;">Proposed Method</span>
<span class="t s b" style="left:2084.0px;top:2140.1px;font-size:56px;letter-spacing:0.731px;">Algorithm</span>
<span class="t s b" style="left:3418.0px;top:496.4px;font-size:56px;letter-spacing:0.217px;">Highlighted Experimental Results</span>
<span class="t s b" style="left:53.0px;top:605.6px;font-size:40px;letter-spacing:-0.627px;">Key Question:</span>
<span class="t s" style="left:145.0px;top:678.8px;font-size:40px;letter-spacing:-0.653px;"><b>Existing Limitation</b>: Most inference-time scaling methods for</span>
<span class="t s" style="left:145.0px;top:752.1px;font-size:40px;letter-spacing:-0.751px;">diffusion models rely on fixed denoising schedules (e.g., a</span>
<span class="t s" style="left:145.0px;top:825.4px;font-size:40px;letter-spacing:-0.429px;">predetermined number of steps).</span>
<span class="t s" style="left:145.0px;top:898.6px;font-size:40px;letter-spacing:-0.787px;"><b>The Problem</b>: This rigidity prevents dynamically adjusting</span>
<span class="t s" style="left:145.0px;top:971.6px;font-size:40px;letter-spacing:-0.390px;">computational resources based on the unique difficulty of each input</span>
<span class="t s" style="left:145.0px;top:1045.1px;font-size:40px;letter-spacing:-0.674px;">instance or the specific demands of the task.</span>
<span class="t s b" style="left:53.0px;top:1119.6px;font-size:40px;letter-spacing:-0.378px;">[Our Goal]</span>
<span class="t s" style="left:145.0px;top:1195.1px;font-size:40px;letter-spacing:-0.740px;">To solve the challenge of "Adaptive Inference-Time Scaling"—</span>
<span class="t s" style="left:145.0px;top:1268.6px;font-size:40px;letter-spacing:-0.214px;">dynamically adjusting computational effort during the inference.</span>
<span class="t s" style="left:53.0px;top:1556.2px;font-size:37px;letter-spacing:1.531px;">We formalize the problem of "Adaptive Inference-Time Scaling" in</span>
<span class="t s" style="left:53.0px;top:1624.0px;font-size:37px;letter-spacing:1.143px;">diffusion models and propose <b>ABCD (Adaptive Bi-directional Cyclic</b></span>
<span class="t s" style="left:53.0px;top:1692.2px;font-size:37px;letter-spacing:1.338px;"><b>Diffusion)</b>, a flexible, search-based inference framework.</span>
<span class="t s b" style="left:53.0px;top:1835.5px;font-size:37px;letter-spacing:1.302px;">ABCD consists of three core components:</span>
<span class="t s" style="left:145.5px;top:1909.2px;font-size:37px;letter-spacing:1.163px;-webkit-text-stroke:1.1px #000;">Cyclic Diffusion Search (CDS)</span>
<span class="t s" style="left:145.5px;top:1982.7px;font-size:37px;letter-spacing:2.070px;-webkit-text-stroke:1.1px #000;">Automatic Exploration-Exploitation Balancing (AEEB)</span>
<span class="t s" style="left:145.5px;top:2055.9px;font-size:37px;letter-spacing:1.912px;-webkit-text-stroke:1.1px #000;">Adaptive Thinking Time (ATT)</span>
<span class="t s b" style="left:47.5px;top:2317.6px;font-size:38px;letter-spacing:1.469px;">Diffusion Model</span>
<span class="t s" style="left:142.5px;top:2375.8px;font-size:38px;letter-spacing:1.295px;">Fixed forward process</span>
<span class="t s" style="left:142.5px;top:2496.3px;font-size:38px;letter-spacing:0.425px;">Reverse process</span>
<span class="t s b" style="left:47.5px;top:2674.8px;font-size:38px;letter-spacing:0.943px;">Reward Guided Generation</span>
<span class="t r" style="left:132.5px;top:2433.6px;font-size:42px;transform-origin:0 0;transform:scaleX(1.1420);"><b>x</b><span style="font-size:0.7em;position:relative;top:0.22em;"><i>t</i></span> = <span style="display:inline-block;position:relative;width:0.82em;height:1em;vertical-align:baseline;"><svg viewBox="0 0 100 100" preserveAspectRatio="none" style="left:0;bottom:-0.087em;width:0.82em;height:0.97em;" ><path d="M4 62 L22 52 L50 92 L97 2 L100 2" fill="none" stroke="#000" stroke-width="2" vector-effect="non-scaling-stroke" stroke-linejoin="miter"/><path d="M20 53 L48 93" fill="none" stroke="#000" stroke-width="3.6" vector-effect="non-scaling-stroke"/></svg></span><span style="display:inline-block;position:relative;padding-right:0.0em;"><span style="position:absolute;left:-1px;right:0;top:0.097em;border-top:2px solid #000;"></span><i>ᾱ</i><span style="font-size:0.7em;position:relative;top:0.22em;"><i>t</i></span></span><b>x</b><span style="font-size:0.7em;position:relative;top:0.22em;">0</span> + <span style="display:inline-block;position:relative;width:0.82em;height:1em;vertical-align:baseline;"><svg viewBox="0 0 100 100" preserveAspectRatio="none" style="left:0;bottom:-0.087em;width:0.82em;height:0.97em;" ><path d="M4 62 L22 52 L50 92 L97 2 L100 2" fill="none" stroke="#000" stroke-width="2" vector-effect="non-scaling-stroke" stroke-linejoin="miter"/><path d="M20 53 L48 93" fill="none" stroke="#000" stroke-width="3.6" vector-effect="non-scaling-stroke"/></svg></span><span style="display:inline-block;position:relative;padding-right:0.0em;"><span style="position:absolute;left:-1px;right:0;top:0.097em;border-top:2px solid #000;"></span>1 − <i>ᾱ</i><span style="font-size:0.7em;position:relative;top:0.22em;"><i>t</i></span></span><i>ϵ</i>,&nbsp;&nbsp;&nbsp;&nbsp;&nbsp;<i>ϵ</i> ~ <i>N</i>(0, <b>I</b>)</span>
<span class="t r" style="left:132.5px;top:2571.8px;font-size:42px;transform-origin:0 0;transform:scaleX(1.1476);"><b>x</b><span style="font-size:0.7em;position:relative;top:0.22em;"><i>t</i>−1</span> = <span style="display:inline-block;position:relative;width:0.82em;height:1em;vertical-align:baseline;"><svg viewBox="0 0 100 100" preserveAspectRatio="none" style="left:0;bottom:-0.087em;width:0.82em;height:0.97em;" ><path d="M4 62 L22 52 L50 92 L97 2 L100 2" fill="none" stroke="#000" stroke-width="2" vector-effect="non-scaling-stroke" stroke-linejoin="miter"/><path d="M20 53 L48 93" fill="none" stroke="#000" stroke-width="3.6" vector-effect="non-scaling-stroke"/></svg></span><span style="display:inline-block;position:relative;padding-right:0.0em;"><span style="position:absolute;left:-1px;right:0;top:0.097em;border-top:2px solid #000;"></span><i>ᾱ</i><span style="font-size:0.7em;position:relative;top:0.22em;"><i>t</i>−1</span></span>&thinsp;<b>x̂</b><span style="font-size:0.7em;position:relative;top:0.22em;">0</span>(<b>x</b><span style="font-size:0.7em;position:relative;top:0.22em;"><i>t</i></span>) + <span style="display:inline-block;position:relative;width:0.82em;height:1em;vertical-align:baseline;"><svg viewBox="0 0 100 100" preserveAspectRatio="none" style="left:0;bottom:-0.087em;width:0.82em;height:1.17em;" ><path d="M4 62 L22 52 L50 92 L97 2 L100 2" fill="none" stroke="#000" stroke-width="2" vector-effect="non-scaling-stroke" stroke-linejoin="miter"/><path d="M20 53 L48 93" fill="none" stroke="#000" stroke-width="3.6" vector-effect="non-scaling-stroke"/></svg></span><span style="display:inline-block;position:relative;padding-right:0.0em;"><span style="position:absolute;left:-1px;right:0;top:-0.103em;border-top:2px solid #000;"></span>1 − <i>ᾱ</i><span style="font-size:0.7em;position:relative;top:0.22em;"><i>t</i>−1</span> − <i>σ</i><span style="position:relative;display:inline-block;width:0.5em;"><span style="position:absolute;left:0;font-size:0.7em;top:-1.25em;">2</span><span style="position:absolute;left:0;font-size:0.7em;top:-0.6em;font-style:italic;">t</span></span></span> · <i>ϵ</i><span style="font-size:0.7em;position:relative;top:0.22em;"><i>θ</i></span>(<b>x</b><span style="font-size:0.7em;position:relative;top:0.22em;"><i>t</i></span>, <i>t</i>) + <i>σ</i><span style="font-size:0.7em;position:relative;top:0.22em;"><i>t</i></span><b>z</b></span>
<span class="t r" style="left:387.0px;top:2760.0px;font-size:49px;transform-origin:0 0;transform:scaleX(1.1037);"><i>p</i><span style="font-size:0.7em;position:relative;top:-0.45em;">(<i>α</i>)</span>(<b>x</b>) <span style="display:inline-block;position:relative;width:0.75em;height:0.5em;"><svg viewBox="0 0 100 60" style="left:0;top:0;width:0.75em;height:0.45em;"><path d="M98 8 C80 8 68 52 40 52 C18 52 6 42 6 30 C6 18 18 8 40 8 C68 8 80 52 98 52" fill="none" stroke="#000" stroke-width="6"/></svg></span> exp(<i>r</i>(<b>x</b>)/<i>α</i>) · <i>p</i><span style="font-size:0.7em;position:relative;top:0.22em;">pre</span>(<b>x</b>)</span>
<span class="t s b" style="left:1458.0px;top:606.8px;font-size:41px;letter-spacing:-0.195px;">Overview Process of ABCD</span>
<span class="t s b" style="left:1455.0px;top:1198.4px;font-size:40px;">1.</span>
<span class="t s" style="left:1500.0px;top:1198.4px;font-size:40px;letter-spacing:0.351px;"><b>(Initialize)</b> Sample N particles (<span class="r" style="font-size:0.7em;font-style:italic;letter-spacing:0;">x<span style="font-size:0.7em;position:relative;top:0.25em;">T</span></span>) and quickly denoise them to t=0 using a coarse,</span>
<span class="t s" style="left:1500.0px;top:1254.0px;font-size:40px;letter-spacing:0.511px;">"jumpy" DDIM schedule to get an initial set of candidates.</span>
<span class="t s b" style="left:1455.0px;top:1365.2px;font-size:40px;">2.</span>
<span class="t s" style="left:1500.0px;top:1365.2px;font-size:40px;letter-spacing:0.191px;"><b>(Select &amp; Copy)</b> Select the <span style="-webkit-text-stroke:0.65px #000;">Top-K best particles</span> based on a task-specific reward</span>
<span class="t s" style="left:1500.0px;top:1420.8px;font-size:40px;letter-spacing:0.359px;">function. Replicate each of these K particles J times.</span>
<span class="t s b" style="left:1455.0px;top:1532.0px;font-size:40px;">3.</span>
<span class="t s" style="left:1500.0px;top:1532.0px;font-size:40px;letter-spacing:0.225px;"><b>(AEEB - Noising)</b> <span style="-webkit-text-stroke:0.65px #000;">Re-noise</span> the K X J replicated particles by distributing them</span>
<span class="t s" style="left:1500.0px;top:1587.6px;font-size:40px;letter-spacing:0.532px;">across the <span style="-webkit-text-stroke:0.65px #000;">"Temperature Pool"</span> (a set of different go-back time steps t'). ( This is</span>
<span class="t s" style="left:1500.0px;top:1643.2px;font-size:40px;letter-spacing:1.123px;">the key step that allows the model to try multiple exploration/exploitation</span>
<span class="t s" style="left:1500.0px;top:1698.8px;font-size:40px;letter-spacing:0.471px;">intensities in parallel. )</span>
<span class="t s b" style="left:1455.0px;top:1810.0px;font-size:40px;">4.</span>
<span class="t s" style="left:1500.0px;top:1810.0px;font-size:40px;letter-spacing:-0.021px;"><b>(CDS - Denoising)</b> Denoise all particles back to t=0.</span>
<span class="t s b" style="left:1455.0px;top:1921.2px;font-size:40px;">5.</span>
<span class="t s" style="left:1500.0px;top:1921.2px;font-size:40px;letter-spacing:0.271px;"><b>(ATT - Terminate)</b> <span style="-webkit-text-stroke:0.65px #000;">Repeat</span> steps 2-4 (a "cycle"). If, for<span class="r" style="font-style:italic;font-size:1.05em;letter-spacing:0;">&nbsp;κ</span> consecutive cycles, all Top-</span>
<span class="t s" style="left:1500.0px;top:1976.8px;font-size:40px;letter-spacing:0.384px;">K particles originated from the lowest noise level (e.g., t=0), the search is</span>
<span class="t s" style="left:1500.0px;top:2032.4px;font-size:40px;letter-spacing:0.418px;">considered converged, and inference automatically stops.</span>
<span class="t r" style="left:1522.0px;top:2240.8px;font-size:36px;letter-spacing:-0.435px;"><b>Algorithm 1</b> ABCD: Adaptive Bi-directional Cyclic Diffusion</span>
<span class="t r" style="left:1541.5px;top:2294.9px;font-size:36px;letter-spacing:-3.258px;">1:</span>
<span class="t r" style="left:1582.0px;top:2294.9px;font-size:36px;letter-spacing:0.193px;"><b>procedure</b> ABCD(<span class="m" style="font-size:0.92em;letter-spacing:0;-webkit-text-stroke:0.45px #000;">verifier</span>, <i>T</i>, <i style="font-family:'Liberation Serif',serif;">T</i>, <span class="m" style="font-size:0.92em;letter-spacing:0;-webkit-text-stroke:0.45px #000;">max_iter</span>, <i>κ</i>, <i>N</i>, <i>K</i>, <i>J</i>)</span>
<span class="t r" style="left:1541.5px;top:2341.8px;font-size:36px;letter-spacing:-3.258px;">2:</span>
<span class="t r" style="left:1633.5px;top:2341.8px;font-size:36px;letter-spacing:0.381px;">Initialize <i>N</i> particles {<i>x</i><span style="display:inline-block;position:relative;width:0.95em;height:0.1em;"><span style="position:absolute;left:0.05em;font-size:0.7em;top:-0.55em;font-style:italic;">T</span><span style="position:absolute;left:0.05em;font-size:0.7em;top:-1.55em;">(<i>i</i>)</span></span>} from <i>N</i>(0, <i>I</i>)</span>
<span class="t r" style="left:1541.5px;top:2391.5px;font-size:36px;letter-spacing:-3.258px;">3:</span>
<span class="t r" style="left:1633.5px;top:2391.5px;font-size:36px;letter-spacing:-0.277px;">Denoise to obtain {<i>x</i><span style="display:inline-block;position:relative;width:0.95em;height:0.1em;"><span style="position:absolute;left:0.05em;font-size:0.7em;top:-0.55em;font-style:normal;">0</span><span style="position:absolute;left:0.05em;font-size:0.7em;top:-1.55em;">(<i>i</i>)</span></span>} via Fast denoising</span>
<span class="t r" style="left:1541.5px;top:2429.8px;font-size:36px;letter-spacing:-3.258px;">4:</span>
<span class="t r" style="left:1633.5px;top:2429.8px;font-size:36px;letter-spacing:-0.703px;"><b>while</b> less than <span class="m" style="font-size:0.92em;letter-spacing:0;-webkit-text-stroke:0.45px #000;">max_iter</span> <b>do</b></span>
<span class="t r" style="left:1541.5px;top:2468.2px;font-size:36px;letter-spacing:-3.258px;">5:</span>
<span class="t r" style="left:1686.0px;top:2468.2px;font-size:36px;letter-spacing:-0.372px;"><b>Selection</b>: Select top-<i>K</i> particles using <span class="m" style="font-size:0.92em;letter-spacing:0;-webkit-text-stroke:0.45px #000;">verifier</span></span>
<span class="t r" style="left:1541.5px;top:2506.5px;font-size:36px;letter-spacing:-3.258px;">6:</span>
<span class="t r" style="left:1686.0px;top:2506.5px;font-size:36px;letter-spacing:-0.189px;"><b>If</b> Selected top-<i>K</i> particles come from smallest <i>t</i><span style="font-size:0.7em;position:relative;top:0.25em;"><i>g</i></span> for <i>κ</i> times consecutively</span>
<span class="t r" style="left:1541.5px;top:2544.9px;font-size:36px;letter-spacing:-3.258px;">7:</span>
<span class="t r" style="left:1721.5px;top:2544.9px;font-size:36px;letter-spacing:-0.572px;"><b>break</b></span>
<span class="t r" style="left:1541.5px;top:2583.2px;font-size:36px;letter-spacing:-3.258px;">8:</span>
<span class="t r" style="left:1686.0px;top:2583.2px;font-size:36px;letter-spacing:0.030px;"><b>Copy</b>: Replicate each <i>K</i> particles <i>J</i> time</span>
<span class="t r" style="left:1541.5px;top:2621.6px;font-size:36px;letter-spacing:-3.258px;">9:</span>
<span class="t r" style="left:1686.0px;top:2621.6px;font-size:36px;letter-spacing:0.431px;"><b>Noising</b>: Send each <i>K</i> particles to each <i>t</i><span style="font-size:0.7em;position:relative;top:0.25em;"><i>g</i></span> ϵ <i style="font-family:'Liberation Serif',serif;">T</i></span>
<span class="t r" style="left:1523.5px;top:2659.9px;font-size:36px;letter-spacing:-2.172px;">10:</span>
<span class="t r" style="left:1686.0px;top:2659.9px;font-size:36px;letter-spacing:-0.273px;"><b>Denoising</b>: Denoise from each <i>t</i><span style="font-size:0.7em;position:relative;top:0.25em;"><i>g</i></span> <i>go-back</i> temperature</span>
<span class="t r" style="left:1523.5px;top:2698.3px;font-size:36px;letter-spacing:-1.724px;">11:</span>
<span class="t r" style="left:1633.5px;top:2698.3px;font-size:36px;letter-spacing:-0.392px;"><b>end while</b></span>
<span class="t r" style="left:1523.5px;top:2736.7px;font-size:36px;letter-spacing:-2.172px;">12:</span>
<span class="t r" style="left:1633.5px;top:2736.7px;font-size:36px;letter-spacing:-0.253px;"><b>return</b> Select best particle from top-<i>K</i> particles</span>
<span class="t r" style="left:1523.5px;top:2775.0px;font-size:36px;letter-spacing:-2.172px;">13:</span>
<span class="t r" style="left:1582.0px;top:2775.0px;font-size:36px;letter-spacing:-0.514px;"><b>end procedure</b></span>
<span class="t s" style="left:3084.0px;top:595.4px;font-size:35.5px;letter-spacing:1.931px;-webkit-text-stroke:0.75px #000;"><b>Tasks Setting.</b> six tasks designed to challenge generalization, planning, and reasoning</span>
<span class="t s" style="left:3084.0px;top:650.9px;font-size:35.5px;letter-spacing:2.442px;-webkit-text-stroke:0.75px #000;">capabilities, often in Out-of-Distribution (OOD) settings</span>
<span class="t s" style="left:3084.0px;top:1073.9px;font-size:35.5px;letter-spacing:1.724px;-webkit-text-stroke:0.75px #000;"><b>Results.</b> ABCD achieves higher performance (accuracy/success rate) in less inference</span>
<span class="t s" style="left:3084.0px;top:1129.4px;font-size:35.5px;letter-spacing:1.789px;-webkit-text-stroke:0.75px #000;">time (wall-clock time) compared to strong baselines (Best-of-N, Beam Search, SMC, SoP)</span>
<span class="t s" style="left:3084.0px;top:1185.4px;font-size:35.5px;letter-spacing:1.921px;-webkit-text-stroke:0.75px #000;">across diverse tasks (planning, reasoning, molecule generation, and Image Generation).</span>
<span class="t s b" style="left:3084.0px;top:2061.4px;font-size:35.5px;letter-spacing:1.651px;">Performance on Sudoku tasks of varying difficulty.</span>
<span class="t s" style="left:3084.0px;top:2117.2px;font-size:35.5px;letter-spacing:2.602px;-webkit-text-stroke:0.75px #000;">By dynamically applying more effort to harder problems,</span>
<span class="t s" style="left:3084.0px;top:2172.6px;font-size:35.5px;letter-spacing:2.415px;-webkit-text-stroke:0.75px #000;">it maintains high accuracy, unlike fixed-effort baselines.</span>
<span class="t s" style="left:3084.0px;top:2682.4px;font-size:35.5px;letter-spacing:2.015px;-webkit-text-stroke:0.75px #000;"><b>The origin of the top-10 selected particles at each cycle.</b> harder instances tend to require</span>
<span class="t s" style="left:3084.0px;top:2737.9px;font-size:35.5px;letter-spacing:2.578px;-webkit-text-stroke:0.75px #000;">longer search. Additionally, early iterations tend to select samples with large modifications,</span>
<span class="t s" style="left:3084.0px;top:2793.4px;font-size:35.5px;letter-spacing:2.451px;-webkit-text-stroke:0.75px #000;">while later cycles focus on smaller refinements.</span>
<span class="t r" style="left:3125.0px;top:709.3px;font-size:29.5px;letter-spacing:2.601px;">Dataset 2</span>
<span class="t r" style="left:3369.0px;top:709.3px;font-size:29.5px;letter-spacing:1.827px;">17 Provided</span>
<span class="t r" style="left:3643.0px;top:709.3px;font-size:29.5px;letter-spacing:0.370px;">Maze Size 15</span>
<span class="t r" style="left:4192.0px;top:709.3px;font-size:29.5px;letter-spacing:0.818px;">PointMaze Giant</span>
<span class="t s" style="left:4481.5px;top:679.9px;font-size:28.5px;color:#7a7a7a;letter-spacing:0.161px;">a dog with a plate of</span>
<span class="t s" style="left:4490.0px;top:713.4px;font-size:28.5px;color:#7a7a7a;letter-spacing:0.095px;">food on the ground</span>
<span class="t r" style="left:3128.0px;top:1007.6px;font-size:29.5px;letter-spacing:3.228px;">(a) MoG</span>
<span class="t r" style="left:3367.0px;top:1007.6px;font-size:29.5px;letter-spacing:2.706px;">(b) Sudoku</span>
<span class="t r" style="left:3607.5px;top:1007.6px;font-size:29.5px;letter-spacing:2.525px;">(c) Pixel Maze</span>
<span class="t r" style="left:3891.5px;top:1007.6px;font-size:29.5px;letter-spacing:2.193px;">(d) Molecule</span>
<span class="t r" style="left:4180.5px;top:1007.6px;font-size:29.5px;letter-spacing:2.628px;">(e) OGBench</span>
<span class="t r" style="left:4486.5px;top:1007.6px;font-size:29.5px;letter-spacing:2.610px;">(f) Text-to-Image</span>
</div>
</body></html>
